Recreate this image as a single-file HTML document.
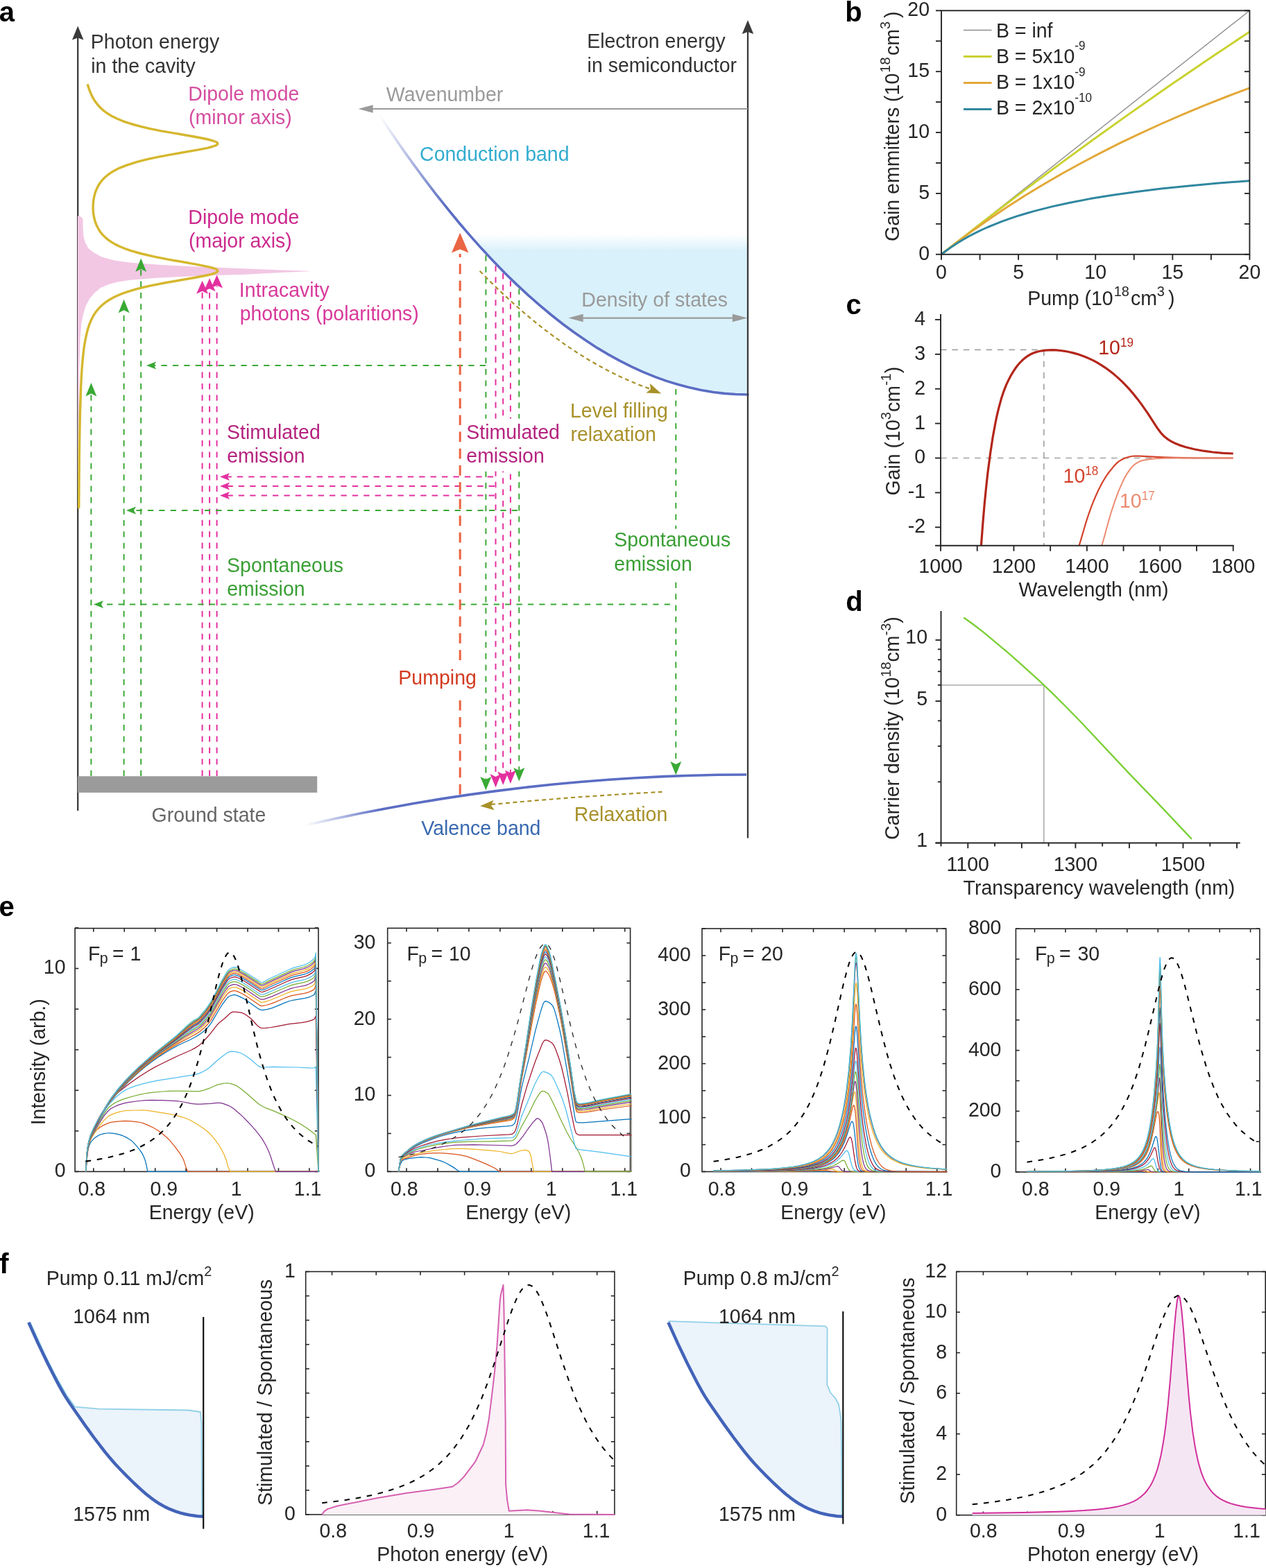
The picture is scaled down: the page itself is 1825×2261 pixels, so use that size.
<!DOCTYPE html>
<html><head><meta charset="utf-8"><title>Figure</title>
<style>html,body{margin:0;padding:0;background:#fff;}svg{display:block;}</style>
</head><body>
<svg width="1825" height="2261" viewBox="0 0 1825 2261" font-family='"Liberation Sans", Arial, Helvetica, sans-serif'><defs><linearGradient id="dosg" x1="0" y1="338" x2="0" y2="362" gradientUnits="userSpaceOnUse"><stop offset="0" stop-color="#d9f1fa" stop-opacity="0"/><stop offset="1" stop-color="#d9f1fa"/></linearGradient><linearGradient id="cbg" x1="547" y1="166" x2="640" y2="300" gradientUnits="userSpaceOnUse"><stop offset="0" stop-color="#5b6dc3" stop-opacity="0"/><stop offset="1" stop-color="#5b6dc3"/></linearGradient><linearGradient id="vbg" x1="440" y1="0" x2="550" y2="0" gradientUnits="userSpaceOnUse"><stop offset="0" stop-color="#5b6dc3" stop-opacity="0"/><stop offset="1" stop-color="#5b6dc3"/></linearGradient></defs>
<path d="M674.9 336 L674.9 336.6 L694.4 358.6 L708.6 373.9 L722.8 388.6 L735.2 401 L749.5 414.6 L761.9 426.1 L774.3 437.1 L788.5 449.2 L801 459.2 L813.4 468.9 L825.8 478.1 L838.3 486.8 L850.7 495.1 L863.1 503 L875.5 510.4 L888 517.4 L900.4 523.9 L912.8 530 L925.3 535.6 L937.7 540.9 L950.1 545.6 L964.3 550.5 L976.8 554.3 L991 558.2 L1003.4 561 L1015.8 563.5 L1028.3 565.5 L1040.7 567 L1053.1 568.1 L1065.6 568.8 L1078 569 L1078 336" stroke="none" stroke-width="1" fill="url(#dosg)" stroke-linejoin="round" />
<path d="M547 165.8 L563 189.7 L580.7 215.4 L596.7 237.8 L612.7 259.4 L628.7 280.3 L646.5 302.7 L662.4 322 L678.4 340.7 L694.4 358.6 L710.4 375.7 L728.1 394 L744.1 409.6 L761.9 426.1 L777.9 440.2 L793.9 453.5 L811.6 467.5 L827.6 479.3 L845.4 491.6 L861.3 501.9 L877.3 511.4 L893.3 520.2 L911.1 529.1 L927 536.4 L944.8 543.6 L960.8 549.4 L976.8 554.3 L992.8 558.6 L1010.5 562.5 L1028.3 565.5 L1044.3 567.4 L1060.2 568.5 L1078 569" stroke="url(#cbg)" stroke-width="3.6" fill="none" stroke-linejoin="round" stroke-linecap="round"/>
<path d="M440 1189.9 L481.5 1180.7 L519.9 1172.8 L558.3 1165.4 L596.6 1158.5 L638.2 1151.6 L676.5 1145.9 L714.9 1140.6 L756.4 1135.5 L797.9 1131 L836.3 1127.5 L877.8 1124.2 L916.2 1121.7 L957.7 1119.6 L996.1 1118.2 L1034.5 1117.3 L1076 1117" stroke="url(#vbg)" stroke-width="3.6" fill="none" stroke-linejoin="round" />
<line x1="112.2" y1="50" x2="112.2" y2="1169" stroke="#3a3a3a" stroke-width="2.3" />
<path d="M112.2 37.5 L120.45 57.5 L112.2 54.5 L103.95 57.5 Z" fill="#3a3a3a"/>
<line x1="1078" y1="42" x2="1078" y2="1208.5" stroke="#3a3a3a" stroke-width="2.3" />
<path d="M1078 29 L1086.25 49 L1078 46 L1069.75 49 Z" fill="#3a3a3a"/>
<path d="M112 311.4 L114 311.6 L118 313.5 L119.5 316.5 L119.7 330 L120.5 341.5 L123 350 L127 357.5 L134 363.5 L146.5 370.5 L165 375.5 L188 378.8 L230 381.8 L271 384 L400 389.2 L446 390.8 L446 391.2 L400 393.2 L353.9 395.8 L310 397 L271 398.5 L230 400.5 L188 403.7 L170 406.5 L156.8 410 L145 415 L136.1 422.4 L129 431 L123.7 441 L119.5 455 L117.4 466 L115.5 490 L114.3 530 L113.5 600 L112.6 730 L112 730" stroke="none" stroke-width="1" fill="#f2c7e4" stroke-linejoin="round" />
<path d="M126.1 121.4 L129.3 131 L132.8 138.9 L134.7 142.4 L136.9 145.9 L141.6 152 L146.7 157.3 L149.8 159.9 L153.3 162.5 L160.3 166.9 L169.1 171.3 L177.6 174.8 L185.2 177.4 L193.9 180 L203.9 182.6 L215.2 185.3 L232.5 188.8 L282.5 197.5 L300 201 L306.6 202.8 L311.2 204.5 L312.7 205.4 L313.6 206.3 L313.8 207.1 L313.4 208 L312.4 208.9 L310.8 209.8 L305.9 211.5 L299.1 213.3 L286.2 215.9 L246.3 222.9 L227.7 226.4 L211.4 229.9 L197.7 233.4 L183.7 237.8 L172.6 242.1 L164 246.5 L159.7 249.1 L156 251.8 L151.8 255.3 L148.2 258.8 L144.7 263.1 L141.8 267.5 L139.6 271.9 L137.5 277.1 L136 282.4 L134.8 288.5 L134.2 294.6 L134.1 300.8 L134.5 306.9 L135.5 313 L137 319.1 L139 324.4 L141.6 329.6 L144.3 334 L147.8 338.4 L151.3 341.9 L155.4 345.4 L160.4 348.9 L166.4 352.4 L171.7 355 L180.1 358.5 L187.5 361.1 L202.6 365.5 L221.3 369.9 L243.8 374.3 L283.8 381.3 L300.9 384.8 L307.3 386.5 L311.7 388.3 L313 389.1 L313.7 390 L313.8 390.9 L313.2 391.8 L312.1 392.6 L310.3 393.5 L305.1 395.3 L298.1 397 L280 400.5 L239.6 407.5 L217.3 411.9 L205.7 414.5 L195.5 417.1 L186.6 419.8 L178.8 422.4 L172.1 425 L164.4 428.5 L158.1 432 L151.5 436.4 L146.3 440.8 L142 445.1 L138.4 449.5 L134.9 454.8 L131.7 460.9 L129.1 467 L126.5 474.9 L124.5 482.8 L122.7 491.5 L121 502 L119.6 514.3 L118.4 527.4 L117.4 542.3 L116.6 558.9 L115.3 600.9 L114.3 656.9 L113.7 733" stroke="#d5b72d" stroke-width="3.4" fill="none" stroke-linejoin="round" />
<rect x="112" y="1119.3" width="345.2" height="23.6" fill="#9b9b9b" />
<text x="218.57" y="1185" font-size="28.5" fill="#666666"  transform="translate(218.57 1185) scale(1 1.05) translate(-218.57 -1185)">Ground state</text>
<text x="130.86" y="69.8" font-size="28.5" fill="#333333"  transform="translate(130.86 69.8) scale(1 1.05) translate(-130.86 -69.8)">Photon energy</text>
<text x="131.29" y="104.7" font-size="28.5" fill="#333333"  transform="translate(131.29 104.7) scale(1 1.05) translate(-131.29 -104.7)">in the cavity</text>
<text x="846.16" y="69.5" font-size="28.5" fill="#333333"  transform="translate(846.16 69.5) scale(1 1.05) translate(-846.16 -69.5)">Electron energy</text>
<text x="846.59" y="104.5" font-size="28.5" fill="#333333"  transform="translate(846.59 104.5) scale(1 1.05) translate(-846.59 -104.5)">in semiconductor</text>
<line x1="1078" y1="157" x2="530" y2="157" stroke="#9a9a9a" stroke-width="2.2" />
<path d="M516.6 157 L537.6 151.25 L537.6 157 L537.6 162.75 Z" fill="#9a9a9a"/>
<text x="556.87" y="146.2" font-size="28.5" fill="#9a9a9a"  transform="translate(556.87 146.2) scale(1 1.05) translate(-556.87 -146.2)">Wavenumber</text>
<text x="605.05" y="231.6" font-size="28.5" fill="#33acd0"  transform="translate(605.05 231.6) scale(1 1.05) translate(-605.05 -231.6)">Conduction band</text>
<line x1="835" y1="458.6" x2="1062" y2="458.6" stroke="#9a9a9a" stroke-width="2.2" />
<path d="M819.3 458.6 L840.7 452.85 L840.7 458.6 L840.7 464.35 Z" fill="#9a9a9a"/>
<path d="M1077.3 458.6 L1055.9 464.35 L1055.9 458.6 L1055.9 452.85 Z" fill="#9a9a9a"/>
<text x="838.36" y="442.5" font-size="28.5" fill="#9a9a9a"  transform="translate(838.36 442.5) scale(1 1.05) translate(-838.36 -442.5)">Density of states</text>
<path d="M691.6 390.7 L707.2 406.5 L722.8 421.6 L738.4 436 L754 449.8 L769.6 462.9 L785.2 475.3 L800.8 487 L816.4 498.1 L832 508.5 L847.5 518.2 L863.1 527.2 L878.7 535.6 L891.2 541.8 L906.8 548.9 L922.4 555.4 L938 561.2" stroke="#a8912a" stroke-width="2.2" fill="none" stroke-dasharray="6 4.5" stroke-linejoin="round" />
<path d="M953.2 567.5 L931.48 566.5 L937.91 561.29 L936.94 553.07 Z" fill="#a8912a"/>
<text x="821.96" y="602.3" font-size="28.5" fill="#a8912a"  transform="translate(821.96 602.3) scale(1 1.05) translate(-821.96 -602.3)">Level filling</text>
<text x="822.41" y="636.4" font-size="28.5" fill="#a8912a"  transform="translate(822.41 636.4) scale(1 1.05) translate(-822.41 -636.4)">relaxation</text>
<path d="M708 1160 L770.7 1154.4 L833.3 1149.4 L896 1145.2 L954.5 1141.8" stroke="#a8912a" stroke-width="2.2" fill="none" stroke-dasharray="6 4.5" stroke-linejoin="round" />
<path d="M692.1 1162.3 L711.54 1153.67 L708.06 1161.18 L712.56 1168.14 Z" fill="#a8912a"/>
<text x="827.66" y="1184" font-size="28.5" fill="#a8912a"  transform="translate(827.66 1184) scale(1 1.05) translate(-827.66 -1184)">Relaxation</text>
<text x="607.27" y="1204" font-size="28.5" fill="#3a69b0"  transform="translate(607.27 1204) scale(1 1.05) translate(-607.27 -1204)">Valence band</text>
<line x1="131.4" y1="1119" x2="131.4" y2="568" stroke="#3aa935" stroke-width="2" stroke-dasharray="8.3 8.1" />
<path d="M131.4 552 L139.4 571.5 L131.4 567.5 L123.4 571.5 Z" fill="#3aa935"/>
<line x1="178.6" y1="1119" x2="178.6" y2="447.7" stroke="#3aa935" stroke-width="2" stroke-dasharray="8.3 8.1" />
<path d="M178.6 431.7 L186.6 451.2 L178.6 447.2 L170.6 451.2 Z" fill="#3aa935"/>
<line x1="203.2" y1="1119" x2="203.2" y2="388.6" stroke="#3aa935" stroke-width="2" stroke-dasharray="8.3 8.1" />
<path d="M203.2 372.6 L211.2 392.1 L203.2 388.1 L195.2 392.1 Z" fill="#3aa935"/>
<line x1="291.6" y1="1119" x2="291.6" y2="420.7" stroke="#e4309f" stroke-width="2" stroke-dasharray="8.4 8" />
<line x1="302.1" y1="1119" x2="302.1" y2="417.3" stroke="#e4309f" stroke-width="2" stroke-dasharray="8.4 8" />
<line x1="312.6" y1="1119" x2="312.6" y2="412.4" stroke="#e4309f" stroke-width="2" stroke-dasharray="8.4 8" />
<path d="M291.6 404.7 L300.1 423.7 L291.6 419.7 L283.1 423.7 Z" fill="#e4309f"/>
<path d="M302.1 401.3 L310.6 420.3 L302.1 416.3 L293.6 420.3 Z" fill="#e4309f"/>
<path d="M312.6 396.4 L321.1 415.4 L312.6 411.4 L304.1 415.4 Z" fill="#e4309f"/>
<line x1="700" y1="527" x2="222" y2="527" stroke="#3aa935" stroke-width="2" stroke-dasharray="8.3 8.1" />
<path d="M211 527 L225 521.5 L222 527 L225 532.5 Z" fill="#3aa935"/>
<line x1="711" y1="687.6" x2="326" y2="687.6" stroke="#e4309f" stroke-width="2" stroke-dasharray="8.4 8" />
<path d="M317 687.6 L331 682.1 L328 687.6 L331 693.1 Z" fill="#e4309f"/>
<line x1="713" y1="701" x2="326" y2="701" stroke="#e4309f" stroke-width="2" stroke-dasharray="8.4 8" />
<path d="M317 701 L331 695.5 L328 701 L331 706.5 Z" fill="#e4309f"/>
<line x1="713" y1="714.5" x2="326" y2="714.5" stroke="#e4309f" stroke-width="2" stroke-dasharray="8.4 8" />
<path d="M317 714.5 L331 709 L328 714.5 L331 720 Z" fill="#e4309f"/>
<line x1="746" y1="736" x2="192" y2="736" stroke="#3aa935" stroke-width="2" stroke-dasharray="8.3 8.1" />
<path d="M182 736 L196 730.5 L193 736 L196 741.5 Z" fill="#3aa935"/>
<line x1="966" y1="871.5" x2="145" y2="871.5" stroke="#3aa935" stroke-width="2" stroke-dasharray="8.3 8.1" />
<path d="M135 871.5 L149 866 L146 871.5 L149 877 Z" fill="#3aa935"/>
<line x1="700.4" y1="368.11" x2="700.4" y2="1124.5" stroke="#3aa935" stroke-width="2" stroke-dasharray="8.3 8.1" />
<line x1="714.5" y1="383.05" x2="714.5" y2="1120.4" stroke="#e4309f" stroke-width="2" stroke-dasharray="8.4 8" />
<line x1="725.2" y1="394.01" x2="725.2" y2="1117" stroke="#e4309f" stroke-width="2" stroke-dasharray="8.4 8" />
<line x1="735.9" y1="404.64" x2="735.9" y2="1115" stroke="#e4309f" stroke-width="2" stroke-dasharray="8.4 8" />
<line x1="748.3" y1="416.56" x2="748.3" y2="1111.4" stroke="#3aa935" stroke-width="2" stroke-dasharray="8.3 8.1" />
<path d="M700.4 1139.5 L692.4 1120 L700.4 1124 L708.4 1120 Z" fill="#3aa935"/>
<path d="M714.5 1135.4 L706.5 1115.9 L714.5 1119.9 L722.5 1115.9 Z" fill="#e4309f"/>
<path d="M725.2 1132 L717.2 1112.5 L725.2 1116.5 L733.2 1112.5 Z" fill="#e4309f"/>
<path d="M735.9 1130 L727.9 1110.5 L735.9 1114.5 L743.9 1110.5 Z" fill="#e4309f"/>
<path d="M748.3 1126.4 L740.3 1106.9 L748.3 1110.9 L756.3 1106.9 Z" fill="#3aa935"/>
<line x1="974.3" y1="561" x2="974.3" y2="1104" stroke="#3aa935" stroke-width="2" stroke-dasharray="8.3 8.1" />
<path d="M974.3 1117.5 L966.3 1098 L974.3 1102 L982.3 1098 Z" fill="#3aa935"/>
<line x1="663.2" y1="1145.5" x2="663.2" y2="366" stroke="#ea6644" stroke-width="3.1" stroke-dasharray="14.7 9.5" />
<path d="M663.2 335.5 L675.45 364.5 L663.2 359.5 L650.95 364.5 Z" fill="#ea6644"/>
<text x="271.36" y="144.7" font-size="28.5" fill="#d54ea0"  transform="translate(271.36 144.7) scale(1 1.05) translate(-271.36 -144.7)">Dipole mode</text>
<text x="271.93" y="179.3" font-size="28.5" fill="#d54ea0"  transform="translate(271.93 179.3) scale(1 1.05) translate(-271.93 -179.3)">(minor axis)</text>
<text x="271.36" y="322.9" font-size="28.5" fill="#cc2a8e"  transform="translate(271.36 322.9) scale(1 1.05) translate(-271.36 -322.9)">Dipole mode</text>
<text x="271.93" y="357.1" font-size="28.5" fill="#cc2a8e"  transform="translate(271.93 357.1) scale(1 1.05) translate(-271.93 -357.1)">(major axis)</text>
<text x="344.87" y="428" font-size="28.5" fill="#d8399b"  transform="translate(344.87 428) scale(1 1.05) translate(-344.87 -428)">Intracavity</text>
<text x="345.66" y="462.2" font-size="28.5" fill="#d8399b"  transform="translate(345.66 462.2) scale(1 1.05) translate(-345.66 -462.2)">photons (polaritions)</text>
<text x="327.11" y="633" font-size="28.5" fill="#b5237f"  transform="translate(327.11 633) scale(1 1.05) translate(-327.11 -633)">Stimulated</text>
<text x="327.19" y="667.5" font-size="28.5" fill="#b5237f"  transform="translate(327.19 667.5) scale(1 1.05) translate(-327.19 -667.5)">emission</text>
<text x="327.11" y="824.8" font-size="28.5" fill="#3a9f35"  transform="translate(327.11 824.8) scale(1 1.05) translate(-327.11 -824.8)">Spontaneous</text>
<text x="327.19" y="858.9" font-size="28.5" fill="#3a9f35"  transform="translate(327.19 858.9) scale(1 1.05) translate(-327.19 -858.9)">emission</text>
<rect x="669.5" y="603.6" width="140" height="76" fill="white" />
<text x="672.21" y="633" font-size="28.5" fill="#b5237f"  transform="translate(672.21 633) scale(1 1.05) translate(-672.21 -633)">Stimulated</text>
<text x="672.29" y="667.5" font-size="28.5" fill="#b5237f"  transform="translate(672.29 667.5) scale(1 1.05) translate(-672.29 -667.5)">emission</text>
<rect x="882.5" y="762.6" width="172" height="74.4" fill="white" />
<text x="885.21" y="788.5" font-size="28.5" fill="#3a9f35"  transform="translate(885.21 788.5) scale(1 1.05) translate(-885.21 -788.5)">Spontaneous</text>
<text x="885.29" y="823" font-size="28.5" fill="#3a9f35"  transform="translate(885.29 823) scale(1 1.05) translate(-885.29 -823)">emission</text>
<rect x="572.7" y="952.7" width="118" height="57" fill="white" />
<text x="574.36" y="987" font-size="28.5" fill="#d23a1f"  transform="translate(574.36 987) scale(1 1.05) translate(-574.36 -987)">Pumping</text>
<text x="-1.17" y="31" font-size="40" fill="#000" font-weight="bold" >a</text>
<path d="M1357 366.8 L1801.4 15.3" stroke="#8c8c8c" stroke-width="1.4" fill="none" stroke-linejoin="round" />
<path d="M1357 366.8 L1410.6 324.9 L1464.2 283.9 L1517.8 243.8 L1573.6 203 L1629.4 163.1 L1685.3 124.1 L1743.3 84.5 L1801.4 45.7" stroke="#c9d22f" stroke-width="3" fill="none" stroke-linejoin="round" />
<path d="M1357 366.8 L1379.3 349.5 L1403.9 331.4 L1428.5 314.2 L1453 297.8 L1477.6 282.1 L1504.4 265.8 L1531.2 250.3 L1558 235.5 L1584.8 221.3 L1613.8 206.7 L1642.8 192.8 L1674.1 178.5 L1705.4 164.9 L1736.6 151.9 L1767.9 139.5 L1801.4 126.9" stroke="#e3a838" stroke-width="3" fill="none" stroke-linejoin="round" />
<path d="M1357 366.8 L1363.7 361.7 L1372.6 355.4 L1379.3 351 L1388.3 345.5 L1397.2 340.5 L1406.1 335.9 L1415.1 331.5 L1424 327.5 L1432.9 323.8 L1444.1 319.4 L1455.3 315.4 L1466.4 311.6 L1477.6 308.2 L1491 304.4 L1515.6 298.1 L1542.4 292.2 L1571.4 286.6 L1602.6 281.5 L1638.4 276.5 L1674.1 272.1 L1714.3 267.9 L1756.7 264.1 L1801.4 260.7" stroke="#2f879f" stroke-width="3" fill="none" stroke-linejoin="round" />
<rect x="1357" y="15.3" width="444.4" height="351.5" fill="none" stroke="#262626" stroke-width="1.9"/>
<line x1="1357" y1="366.8" x2="1357" y2="374.8" stroke="#262626" stroke-width="1.9" />
<line x1="1349" y1="366.8" x2="1357" y2="366.8" stroke="#262626" stroke-width="1.9" />
<line x1="1794" y1="366.8" x2="1801.4" y2="366.8" stroke="#262626" stroke-width="1.9" />
<line x1="1412.55" y1="366.8" x2="1412.55" y2="374.8" stroke="#262626" stroke-width="1.9" />
<line x1="1349" y1="322.86" x2="1357" y2="322.86" stroke="#262626" stroke-width="1.9" />
<line x1="1794" y1="322.86" x2="1801.4" y2="322.86" stroke="#262626" stroke-width="1.9" />
<line x1="1468.1" y1="366.8" x2="1468.1" y2="374.8" stroke="#262626" stroke-width="1.9" />
<line x1="1349" y1="278.93" x2="1357" y2="278.93" stroke="#262626" stroke-width="1.9" />
<line x1="1794" y1="278.93" x2="1801.4" y2="278.93" stroke="#262626" stroke-width="1.9" />
<line x1="1523.65" y1="366.8" x2="1523.65" y2="374.8" stroke="#262626" stroke-width="1.9" />
<line x1="1349" y1="234.99" x2="1357" y2="234.99" stroke="#262626" stroke-width="1.9" />
<line x1="1794" y1="234.99" x2="1801.4" y2="234.99" stroke="#262626" stroke-width="1.9" />
<line x1="1579.2" y1="366.8" x2="1579.2" y2="374.8" stroke="#262626" stroke-width="1.9" />
<line x1="1349" y1="191.05" x2="1357" y2="191.05" stroke="#262626" stroke-width="1.9" />
<line x1="1794" y1="191.05" x2="1801.4" y2="191.05" stroke="#262626" stroke-width="1.9" />
<line x1="1634.75" y1="366.8" x2="1634.75" y2="374.8" stroke="#262626" stroke-width="1.9" />
<line x1="1349" y1="147.11" x2="1357" y2="147.11" stroke="#262626" stroke-width="1.9" />
<line x1="1794" y1="147.11" x2="1801.4" y2="147.11" stroke="#262626" stroke-width="1.9" />
<line x1="1690.3" y1="366.8" x2="1690.3" y2="374.8" stroke="#262626" stroke-width="1.9" />
<line x1="1349" y1="103.18" x2="1357" y2="103.18" stroke="#262626" stroke-width="1.9" />
<line x1="1794" y1="103.18" x2="1801.4" y2="103.18" stroke="#262626" stroke-width="1.9" />
<line x1="1745.85" y1="366.8" x2="1745.85" y2="374.8" stroke="#262626" stroke-width="1.9" />
<line x1="1349" y1="59.24" x2="1357" y2="59.24" stroke="#262626" stroke-width="1.9" />
<line x1="1794" y1="59.24" x2="1801.4" y2="59.24" stroke="#262626" stroke-width="1.9" />
<line x1="1801.4" y1="366.8" x2="1801.4" y2="374.8" stroke="#262626" stroke-width="1.9" />
<line x1="1349" y1="15.3" x2="1357" y2="15.3" stroke="#262626" stroke-width="1.9" />
<line x1="1794" y1="15.3" x2="1801.4" y2="15.3" stroke="#262626" stroke-width="1.9" />
<text x="1357" y="402.5" font-size="28.5" fill="#262626" text-anchor="middle"  transform="translate(1357 402.5) scale(1 1.05) translate(-1357 -402.5)">0</text>
<text x="1340" y="374.8" font-size="28.5" fill="#262626" text-anchor="end"  transform="translate(1340 374.8) scale(1 1.05) translate(-1340 -374.8)">0</text>
<text x="1468.1" y="402.5" font-size="28.5" fill="#262626" text-anchor="middle"  transform="translate(1468.1 402.5) scale(1 1.05) translate(-1468.1 -402.5)">5</text>
<text x="1340" y="286.93" font-size="28.5" fill="#262626" text-anchor="end"  transform="translate(1340 286.93) scale(1 1.05) translate(-1340 -286.93)">5</text>
<text x="1579.2" y="402.5" font-size="28.5" fill="#262626" text-anchor="middle"  transform="translate(1579.2 402.5) scale(1 1.05) translate(-1579.2 -402.5)">10</text>
<text x="1340" y="199.05" font-size="28.5" fill="#262626" text-anchor="end"  transform="translate(1340 199.05) scale(1 1.05) translate(-1340 -199.05)">10</text>
<text x="1690.3" y="402.5" font-size="28.5" fill="#262626" text-anchor="middle"  transform="translate(1690.3 402.5) scale(1 1.05) translate(-1690.3 -402.5)">15</text>
<text x="1340" y="111.18" font-size="28.5" fill="#262626" text-anchor="end"  transform="translate(1340 111.18) scale(1 1.05) translate(-1340 -111.18)">15</text>
<text x="1801.4" y="402.5" font-size="28.5" fill="#262626" text-anchor="middle"  transform="translate(1801.4 402.5) scale(1 1.05) translate(-1801.4 -402.5)">20</text>
<text x="1340" y="23.3" font-size="28.5" fill="#262626" text-anchor="end"  transform="translate(1340 23.3) scale(1 1.05) translate(-1340 -23.3)">20</text>
<text x="1481.16" y="440" font-size="28.5" fill="#262626" transform="translate(1481.16 440) scale(1 1.05) translate(-1481.16 -440)"><tspan dy="-0">Pump (10</tspan><tspan dx="1" dy="-11.97" font-size="19.95">18</tspan><tspan dx="2" dy="11.97">cm</tspan><tspan dy="-11.97" font-size="19.95">3</tspan><tspan dx="5" dy="11.97">)</tspan></text>
<text x="1296" y="348" font-size="28.5" fill="#262626" transform="translate(1296 348) rotate(-90) scale(1 1.05) translate(-1296 -348)"><tspan dy="-0">Gain emmitters (10</tspan><tspan dx="1" dy="-11.97" font-size="19.95">18</tspan><tspan dx="2.5" dy="11.97">cm</tspan><tspan dy="-11.97" font-size="19.95">3</tspan><tspan dx="5" dy="11.97">)</tspan></text>
<line x1="1389" y1="43.5" x2="1429.5" y2="43.5" stroke="#8c8c8c" stroke-width="1.4" />
<text x="1435.96" y="54" font-size="28.5" fill="#262626" transform="translate(1435.96 54) scale(1 1.05) translate(-1435.96 -54)"><tspan dy="-0">B = inf</tspan></text>
<line x1="1389" y1="81.5" x2="1429.5" y2="81.5" stroke="#c9d22f" stroke-width="3" />
<text x="1435.96" y="91.05" font-size="28.5" fill="#262626" transform="translate(1435.96 91.05) scale(1 1.05) translate(-1435.96 -91.05)"><tspan dy="-0">B = 5x10</tspan><tspan dy="-17.67" font-size="17.1">-9</tspan></text>
<line x1="1389" y1="119.5" x2="1429.5" y2="119.5" stroke="#e3a838" stroke-width="3" />
<text x="1435.96" y="128.1" font-size="28.5" fill="#262626" transform="translate(1435.96 128.1) scale(1 1.05) translate(-1435.96 -128.1)"><tspan dy="-0">B = 1x10</tspan><tspan dy="-17.67" font-size="17.1">-9</tspan></text>
<line x1="1389" y1="157.5" x2="1429.5" y2="157.5" stroke="#2f879f" stroke-width="3" />
<text x="1435.96" y="165.15" font-size="28.5" fill="#262626" transform="translate(1435.96 165.15) scale(1 1.05) translate(-1435.96 -165.15)"><tspan dy="-0">B = 2x10</tspan><tspan dy="-17.67" font-size="17.1">-10</tspan></text>
<text x="1218.36" y="31" font-size="40" fill="#000" font-weight="bold" >b</text>
<defs><clipPath id="cc"><rect x="1356" y="453" width="426.7" height="333.7"/></clipPath></defs>
<line x1="1356" y1="504.31" x2="1504.8" y2="504.31" stroke="#a3a3a3" stroke-width="1.7" stroke-dasharray="8.6 7.8" />
<line x1="1504.8" y1="504.31" x2="1504.8" y2="786.7" stroke="#a3a3a3" stroke-width="1.7" stroke-dasharray="8.6 7.8" />
<line x1="1356" y1="660.5" x2="1777.7" y2="660.5" stroke="#a3a3a3" stroke-width="1.7" stroke-dasharray="8.6 7.8" />
<path d="M1412.9 806.5 L1416.6 757.5 L1419 728.8 L1421.5 703.6 L1423.9 681.7 L1427.6 653.8 L1431.2 630.1 L1434.9 610 L1437.3 598.4 L1439.8 588.1 L1443.4 574.8 L1445.9 567.3 L1448.3 560.6 L1450.7 554.6 L1454.4 546.9 L1456.8 542.3 L1460.5 536.1 L1462.9 532.3 L1466.6 527.3 L1470.3 523 L1473.9 519.3 L1477.6 516.1 L1481.2 513.5 L1484.9 511.3 L1488.6 509.5 L1492.2 508.1 L1497.1 506.7 L1502 505.8 L1506.9 505.2 L1511.7 504.8 L1517.8 504.7 L1522.7 504.9 L1528.8 505.5 L1534.9 506.3 L1541 507.5 L1547.1 508.9 L1553.2 510.6 L1564.2 514.5 L1570.3 517.1 L1575.2 519.4 L1581.3 522.7 L1587.4 526.3 L1593.5 530.3 L1599.6 534.7 L1605.7 539.6 L1611.8 544.9 L1617.9 550.6 L1622.8 555.6 L1628.9 562.2 L1633.7 567.9 L1639.8 575.4 L1644.7 581.9 L1654.5 595.8 L1667.9 616.6 L1672.8 623.3 L1675.2 626.2 L1677.7 628.7 L1680.1 630.8 L1683.8 633.6 L1687.4 635.8 L1691.1 637.8 L1694.7 639.6 L1699.6 641.6 L1709.4 644.7 L1721.6 647.7 L1735 650.2 L1748.4 652 L1763.1 653.4 L1777.7 654" stroke="#b3261a" stroke-width="3.2" fill="none" stroke-linejoin="round" clip-path="url(#cc)"/>
<path d="M1553.7 792.7 L1557.4 780.9 L1565.7 752.6 L1568.7 743.3 L1572.4 732.9 L1576.1 723.3 L1579.1 716.2 L1583.6 706.3 L1587.4 698.9 L1590.4 693.5 L1594.1 687.4 L1598.6 681 L1604.6 673.6 L1609.1 668.6 L1612.1 665.9 L1615.9 663.4 L1620.4 661.1 L1624.1 659.7 L1630.8 658 L1635.3 657.5 L1642.8 657.7 L1676.6 659.4 L1692.3 659.9 L1721.5 660.3 L1777.7 660.5" stroke="#d4432b" stroke-width="2.2" fill="none" stroke-linejoin="round" clip-path="url(#cc)"/>
<path d="M1586.4 792.7 L1590.2 780.3 L1598.5 749.9 L1601.7 739 L1607.5 721.5 L1612.6 707.8 L1618.4 694.7 L1620.9 689.5 L1623.5 684.9 L1627.3 679.1 L1630.5 674.8 L1633.7 671.3 L1636.3 669.2 L1641.4 666.1 L1643.9 665 L1646.5 664.1 L1656.7 662.2 L1666.3 661.2 L1679.1 660.7 L1694.5 660.5 L1777.7 660.5" stroke="#ec8b70" stroke-width="2" fill="none" stroke-linejoin="round" clip-path="url(#cc)"/>
<line x1="1356" y1="453" x2="1356" y2="787.7" stroke="#262626" stroke-width="1.9" />
<line x1="1348" y1="786.7" x2="1778.7" y2="786.7" stroke="#262626" stroke-width="1.9" />
<line x1="1348" y1="460.9" x2="1356" y2="460.9" stroke="#262626" stroke-width="1.9" />
<text x="1334" y="468.9" font-size="28.5" fill="#262626" text-anchor="end"  transform="translate(1334 468.9) scale(1 1.05) translate(-1334 -468.9)">4</text>
<line x1="1348" y1="510.8" x2="1356" y2="510.8" stroke="#262626" stroke-width="1.9" />
<text x="1334" y="518.8" font-size="28.5" fill="#262626" text-anchor="end"  transform="translate(1334 518.8) scale(1 1.05) translate(-1334 -518.8)">3</text>
<line x1="1348" y1="560.7" x2="1356" y2="560.7" stroke="#262626" stroke-width="1.9" />
<text x="1334" y="568.7" font-size="28.5" fill="#262626" text-anchor="end"  transform="translate(1334 568.7) scale(1 1.05) translate(-1334 -568.7)">2</text>
<line x1="1348" y1="610.6" x2="1356" y2="610.6" stroke="#262626" stroke-width="1.9" />
<text x="1334" y="618.6" font-size="28.5" fill="#262626" text-anchor="end"  transform="translate(1334 618.6) scale(1 1.05) translate(-1334 -618.6)">1</text>
<line x1="1348" y1="660.5" x2="1356" y2="660.5" stroke="#262626" stroke-width="1.9" />
<text x="1334" y="668.5" font-size="28.5" fill="#262626" text-anchor="end"  transform="translate(1334 668.5) scale(1 1.05) translate(-1334 -668.5)">0</text>
<line x1="1348" y1="710.4" x2="1356" y2="710.4" stroke="#262626" stroke-width="1.9" />
<text x="1334" y="718.4" font-size="28.5" fill="#262626" text-anchor="end"  transform="translate(1334 718.4) scale(1 1.05) translate(-1334 -718.4)">-1</text>
<line x1="1348" y1="760.3" x2="1356" y2="760.3" stroke="#262626" stroke-width="1.9" />
<text x="1334" y="768.3" font-size="28.5" fill="#262626" text-anchor="end"  transform="translate(1334 768.3) scale(1 1.05) translate(-1334 -768.3)">-2</text>
<line x1="1356" y1="786.7" x2="1356" y2="794.7" stroke="#262626" stroke-width="1.9" />
<line x1="1408.71" y1="786.7" x2="1408.71" y2="794.7" stroke="#262626" stroke-width="1.9" />
<line x1="1461.42" y1="786.7" x2="1461.42" y2="794.7" stroke="#262626" stroke-width="1.9" />
<line x1="1514.14" y1="786.7" x2="1514.14" y2="794.7" stroke="#262626" stroke-width="1.9" />
<line x1="1566.85" y1="786.7" x2="1566.85" y2="794.7" stroke="#262626" stroke-width="1.9" />
<line x1="1619.56" y1="786.7" x2="1619.56" y2="794.7" stroke="#262626" stroke-width="1.9" />
<line x1="1672.28" y1="786.7" x2="1672.28" y2="794.7" stroke="#262626" stroke-width="1.9" />
<line x1="1724.99" y1="786.7" x2="1724.99" y2="794.7" stroke="#262626" stroke-width="1.9" />
<line x1="1777.7" y1="786.7" x2="1777.7" y2="794.7" stroke="#262626" stroke-width="1.9" />
<text x="1356" y="826" font-size="28.5" fill="#262626" text-anchor="middle"  transform="translate(1356 826) scale(1 1.05) translate(-1356 -826)">1000</text>
<text x="1461.42" y="826" font-size="28.5" fill="#262626" text-anchor="middle"  transform="translate(1461.42 826) scale(1 1.05) translate(-1461.42 -826)">1200</text>
<text x="1566.85" y="826" font-size="28.5" fill="#262626" text-anchor="middle"  transform="translate(1566.85 826) scale(1 1.05) translate(-1566.85 -826)">1400</text>
<text x="1672.28" y="826" font-size="28.5" fill="#262626" text-anchor="middle"  transform="translate(1672.28 826) scale(1 1.05) translate(-1672.28 -826)">1600</text>
<text x="1777.7" y="826" font-size="28.5" fill="#262626" text-anchor="middle"  transform="translate(1777.7 826) scale(1 1.05) translate(-1777.7 -826)">1800</text>
<text x="1576.5" y="860.5" font-size="28.5" fill="#262626" text-anchor="middle"  transform="translate(1576.5 860.5) scale(1 1.05) translate(-1576.5 -860.5)">Wavelength (nm)</text>
<text x="1297" y="714.5" font-size="28.5" fill="#262626" transform="translate(1297 714.5) rotate(-90) scale(1 1.05) translate(-1297 -714.5)"><tspan dy="-0">Gain (10</tspan><tspan dy="-11.97" font-size="19.95">3</tspan><tspan dy="11.97">cm</tspan><tspan dy="-11.97" font-size="19.95">-1</tspan><tspan dy="11.97">)</tspan></text>
<text x="1583.23" y="510.7" font-size="28.5" fill="#b3261a" transform="translate(1583.23 510.7) scale(1 1.05) translate(-1583.23 -510.7)"><tspan dy="-0">10</tspan><tspan dy="-10.26" font-size="17.1">19</tspan></text>
<text x="1532.63" y="696.2" font-size="28.5" fill="#d4432b" transform="translate(1532.63 696.2) scale(1 1.05) translate(-1532.63 -696.2)"><tspan dy="-0">10</tspan><tspan dy="-10.26" font-size="17.1">18</tspan></text>
<text x="1613.93" y="732.2" font-size="28.5" fill="#ec8b70" transform="translate(1613.93 732.2) scale(1 1.05) translate(-1613.93 -732.2)"><tspan dy="-0">10</tspan><tspan dy="-10.26" font-size="17.1">17</tspan></text>
<text x="1219.44" y="453" font-size="40" fill="#000" font-weight="bold" >c</text>
<line x1="1356.5" y1="987.81" x2="1504.8" y2="987.81" stroke="#9a9a9a" stroke-width="1.3" />
<line x1="1504.8" y1="987.81" x2="1504.8" y2="1215.5" stroke="#9a9a9a" stroke-width="1.3" />
<path d="M1389.3 890.5 L1402.5 900 L1417.4 911.4 L1455.4 943.2 L1466.9 953.3 L1496.6 980.2 L1514.8 997.4 L1534.6 1017 L1556.1 1039 L1628.7 1116.4 L1675 1164.4 L1717.9 1209.9" stroke="#79cf33" stroke-width="2.3" fill="none" stroke-linejoin="round" />
<line x1="1356.5" y1="881" x2="1356.5" y2="1216.5" stroke="#262626" stroke-width="1.9" />
<line x1="1348.5" y1="1215.5" x2="1787.8" y2="1215.5" stroke="#262626" stroke-width="1.9" />
<line x1="1348.5" y1="1215.5" x2="1356.5" y2="1215.5" stroke="#262626" stroke-width="1.9" />
<line x1="1348.5" y1="1010.98" x2="1356.5" y2="1010.98" stroke="#262626" stroke-width="1.9" />
<line x1="1348.5" y1="922.9" x2="1356.5" y2="922.9" stroke="#262626" stroke-width="1.9" />
<line x1="1351.9" y1="1127.42" x2="1356.5" y2="1127.42" stroke="#262626" stroke-width="1.9" />
<line x1="1351.9" y1="1075.89" x2="1356.5" y2="1075.89" stroke="#262626" stroke-width="1.9" />
<line x1="1351.9" y1="1039.34" x2="1356.5" y2="1039.34" stroke="#262626" stroke-width="1.9" />
<line x1="1351.9" y1="987.81" x2="1356.5" y2="987.81" stroke="#262626" stroke-width="1.9" />
<line x1="1351.9" y1="968.22" x2="1356.5" y2="968.22" stroke="#262626" stroke-width="1.9" />
<line x1="1351.9" y1="951.26" x2="1356.5" y2="951.26" stroke="#262626" stroke-width="1.9" />
<line x1="1351.9" y1="936.29" x2="1356.5" y2="936.29" stroke="#262626" stroke-width="1.9" />
<text x="1337" y="927.9" font-size="28.5" fill="#262626" text-anchor="end"  transform="translate(1337 927.9) scale(1 1.05) translate(-1337 -927.9)">10</text>
<text x="1337" y="1016.98" font-size="28.5" fill="#262626" text-anchor="end"  transform="translate(1337 1016.98) scale(1 1.05) translate(-1337 -1016.98)">5</text>
<text x="1337" y="1221.5" font-size="28.5" fill="#262626" text-anchor="end"  transform="translate(1337 1221.5) scale(1 1.05) translate(-1337 -1221.5)">1</text>
<line x1="1356.5" y1="1215.5" x2="1356.5" y2="1220.5" stroke="#262626" stroke-width="1.9" />
<line x1="1395.28" y1="1215.5" x2="1395.28" y2="1223.2" stroke="#262626" stroke-width="1.9" />
<line x1="1434.05" y1="1215.5" x2="1434.05" y2="1220.5" stroke="#262626" stroke-width="1.9" />
<line x1="1472.83" y1="1215.5" x2="1472.83" y2="1223.2" stroke="#262626" stroke-width="1.9" />
<line x1="1511.6" y1="1215.5" x2="1511.6" y2="1220.5" stroke="#262626" stroke-width="1.9" />
<line x1="1550.38" y1="1215.5" x2="1550.38" y2="1223.2" stroke="#262626" stroke-width="1.9" />
<line x1="1589.15" y1="1215.5" x2="1589.15" y2="1220.5" stroke="#262626" stroke-width="1.9" />
<line x1="1627.92" y1="1215.5" x2="1627.92" y2="1223.2" stroke="#262626" stroke-width="1.9" />
<line x1="1666.7" y1="1215.5" x2="1666.7" y2="1220.5" stroke="#262626" stroke-width="1.9" />
<line x1="1705.47" y1="1215.5" x2="1705.47" y2="1223.2" stroke="#262626" stroke-width="1.9" />
<line x1="1744.25" y1="1215.5" x2="1744.25" y2="1220.5" stroke="#262626" stroke-width="1.9" />
<line x1="1783.03" y1="1215.5" x2="1783.03" y2="1223.2" stroke="#262626" stroke-width="1.9" />
<text x="1395.28" y="1256" font-size="28.5" fill="#262626" text-anchor="middle"  transform="translate(1395.28 1256) scale(1 1.05) translate(-1395.28 -1256)">1100</text>
<text x="1550.38" y="1256" font-size="28.5" fill="#262626" text-anchor="middle"  transform="translate(1550.38 1256) scale(1 1.05) translate(-1550.38 -1256)">1300</text>
<text x="1705.47" y="1256" font-size="28.5" fill="#262626" text-anchor="middle"  transform="translate(1705.47 1256) scale(1 1.05) translate(-1705.47 -1256)">1500</text>
<text x="1584.5" y="1289.6" font-size="28.5" fill="#262626" text-anchor="middle"  transform="translate(1584.5 1289.6) scale(1 1.05) translate(-1584.5 -1289.6)">Transparency wavelength (nm)</text>
<text x="1296.5" y="1211" font-size="28.5" fill="#262626" transform="translate(1296.5 1211) rotate(-90) scale(1 1.05) translate(-1296.5 -1211)"><tspan dy="-0">Carrier density (10</tspan><tspan dy="-11.97" font-size="19.95">18</tspan><tspan dy="11.97">cm</tspan><tspan dy="-11.97" font-size="19.95">-3</tspan><tspan dy="11.97">)</tspan></text>
<text x="1219.36" y="880.5" font-size="40" fill="#000" font-weight="bold" >d</text>
<defs><clipPath id="ce1"><rect x="106.6" y="1337.1" width="353.9" height="353.8"/></clipPath></defs>
<rect x="108.1" y="1338.6" width="350.9" height="350.8" fill="none" stroke="#262626" stroke-width="1.6"/>
<line x1="134.8" y1="1338.6" x2="134.8" y2="1343.8" stroke="#262626" stroke-width="1.6" />
<line x1="134.8" y1="1689.4" x2="134.8" y2="1684.2" stroke="#262626" stroke-width="1.6" />
<line x1="179.25" y1="1338.6" x2="179.25" y2="1343.8" stroke="#262626" stroke-width="1.6" />
<line x1="179.25" y1="1689.4" x2="179.25" y2="1684.2" stroke="#262626" stroke-width="1.6" />
<line x1="223.7" y1="1338.6" x2="223.7" y2="1343.8" stroke="#262626" stroke-width="1.6" />
<line x1="223.7" y1="1689.4" x2="223.7" y2="1684.2" stroke="#262626" stroke-width="1.6" />
<line x1="268.15" y1="1338.6" x2="268.15" y2="1343.8" stroke="#262626" stroke-width="1.6" />
<line x1="268.15" y1="1689.4" x2="268.15" y2="1684.2" stroke="#262626" stroke-width="1.6" />
<line x1="312.6" y1="1338.6" x2="312.6" y2="1343.8" stroke="#262626" stroke-width="1.6" />
<line x1="312.6" y1="1689.4" x2="312.6" y2="1684.2" stroke="#262626" stroke-width="1.6" />
<line x1="357.05" y1="1338.6" x2="357.05" y2="1343.8" stroke="#262626" stroke-width="1.6" />
<line x1="357.05" y1="1689.4" x2="357.05" y2="1684.2" stroke="#262626" stroke-width="1.6" />
<line x1="401.5" y1="1338.6" x2="401.5" y2="1343.8" stroke="#262626" stroke-width="1.6" />
<line x1="401.5" y1="1689.4" x2="401.5" y2="1684.2" stroke="#262626" stroke-width="1.6" />
<line x1="445.95" y1="1338.6" x2="445.95" y2="1343.8" stroke="#262626" stroke-width="1.6" />
<line x1="445.95" y1="1689.4" x2="445.95" y2="1684.2" stroke="#262626" stroke-width="1.6" />
<line x1="108.1" y1="1689.4" x2="113.3" y2="1689.4" stroke="#262626" stroke-width="1.6" />
<line x1="459" y1="1689.4" x2="453.8" y2="1689.4" stroke="#262626" stroke-width="1.6" />
<line x1="108.1" y1="1630.82" x2="113.3" y2="1630.82" stroke="#262626" stroke-width="1.6" />
<line x1="459" y1="1630.82" x2="453.8" y2="1630.82" stroke="#262626" stroke-width="1.6" />
<line x1="108.1" y1="1572.24" x2="113.3" y2="1572.24" stroke="#262626" stroke-width="1.6" />
<line x1="459" y1="1572.24" x2="453.8" y2="1572.24" stroke="#262626" stroke-width="1.6" />
<line x1="108.1" y1="1513.66" x2="113.3" y2="1513.66" stroke="#262626" stroke-width="1.6" />
<line x1="459" y1="1513.66" x2="453.8" y2="1513.66" stroke="#262626" stroke-width="1.6" />
<line x1="108.1" y1="1455.08" x2="113.3" y2="1455.08" stroke="#262626" stroke-width="1.6" />
<line x1="459" y1="1455.08" x2="453.8" y2="1455.08" stroke="#262626" stroke-width="1.6" />
<line x1="108.1" y1="1396.5" x2="113.3" y2="1396.5" stroke="#262626" stroke-width="1.6" />
<line x1="459" y1="1396.5" x2="453.8" y2="1396.5" stroke="#262626" stroke-width="1.6" />
<line x1="108.1" y1="1337.92" x2="113.3" y2="1337.92" stroke="#262626" stroke-width="1.6" />
<line x1="459" y1="1337.92" x2="453.8" y2="1337.92" stroke="#262626" stroke-width="1.6" />
<g clip-path="url(#ce1)" fill="none" stroke-width="1.25" stroke-linejoin="round">
<path d="M123.7 1689.4 L125 1670.3 L125.7 1664.3 L127.1 1657.3 L128.4 1652.4 L129.8 1649.1 L131.1 1646.8 L133.2 1644.1 L135.8 1641.4 L139.2 1638.9 L142.6 1637 L145.3 1635.8 L150 1634.7 L154.1 1634 L158.1 1633.8 L162.2 1634.1 L166.9 1634.9 L173 1636.3 L177 1637.7 L181.8 1639.9 L186.5 1642.7 L189.9 1645.1 L192.6 1647.6 L196.6 1652.1 L202 1658.8 L204.7 1662.9 L206.7 1666.8 L208.8 1671.9 L210.1 1676.3 L211.4 1681.8 L212.8 1689.4 L461 1689.4" stroke="#0072BD" stroke-width="1.25" fill="none" stroke-linejoin="round" />
<path d="M123.7 1689.4 L125.7 1664.6 L126.4 1658.8 L127.7 1651.8 L129.1 1646.7 L131.1 1641.3 L133.8 1636.7 L136.5 1632.9 L139.8 1629.1 L143.9 1625.7 L148.6 1622.9 L154.6 1620.1 L158.7 1618.7 L162.7 1617.9 L172.1 1616.8 L179.5 1616.4 L187.6 1616.7 L198.3 1617.8 L202.3 1618.5 L206.4 1619.7 L213.1 1622.4 L221.8 1626.5 L227.9 1630.2 L234.6 1635.2 L241.3 1641 L246 1645.9 L252.1 1653.3 L259.5 1663.4 L262.2 1667.8 L264.9 1673.1 L268.2 1683.6 L269.6 1686.9 L270.9 1689.4 L461 1689.4" stroke="#D95319" stroke-width="1.25" fill="none" stroke-linejoin="round" />
<path d="M123.7 1689.4 L125.7 1667.2 L127.1 1655.9 L127.7 1652.3 L129.7 1645.8 L131.1 1642.5 L132.4 1639.8 L137.8 1631.5 L144.5 1622 L149.8 1615.6 L154.5 1611.1 L157.2 1609.1 L159.2 1607.9 L165.9 1605.2 L172.6 1603.1 L178 1602 L182.7 1601.4 L194.7 1601 L206.1 1600.8 L211.5 1601.2 L240.3 1605.7 L252.4 1608 L261.1 1610.3 L269.1 1613 L275.1 1615.7 L281.2 1619.2 L293.2 1627.1 L299.9 1632.3 L304.6 1636.9 L310.7 1644.3 L316.7 1653 L320 1658.8 L323.4 1665.8 L326.1 1672.7 L328.7 1682.3 L330.8 1687.1 L332.1 1689.4 L461 1689.4" stroke="#EDB120" stroke-width="1.25" fill="none" stroke-linejoin="round" />
<path d="M123.7 1689.4 L125.7 1666.3 L127 1654.6 L127.7 1650.8 L129.7 1644.2 L131.1 1640.9 L132.4 1638.2 L144.4 1617.6 L150.5 1608.4 L155.2 1602.7 L157.2 1600.7 L159.2 1599 L163.2 1596.7 L170.5 1593.4 L177.9 1591.1 L184.6 1589.7 L200 1587.5 L210 1586.6 L218.7 1586.3 L234.8 1586.6 L254.9 1587.6 L261.6 1588.5 L276.3 1591.3 L283.6 1592.1 L289 1592.1 L297 1591.7 L303 1591.4 L312.4 1590.4 L316.4 1590.4 L319.1 1590.7 L321.8 1591.4 L329.8 1594.3 L333.2 1596.2 L337.2 1599.1 L345.9 1606.4 L351.2 1611.4 L357.9 1618.2 L365.3 1626.3 L370.6 1632.6 L375.3 1638.7 L378.7 1643.6 L382 1649.3 L384.7 1654.5 L387.4 1660.3 L390 1667.1 L394.1 1680.3 L397.4 1689.4 L461 1689.4" stroke="#7E2F8E" stroke-width="1.25" fill="none" stroke-linejoin="round" />
<path d="M123.7 1689.4 L125.7 1665.7 L127 1653.7 L127.7 1649.9 L128.4 1647.3 L130.4 1641.3 L132.4 1637 L135.7 1631.2 L143.1 1617.6 L147.1 1610.6 L150.4 1605.3 L153.8 1600.6 L157.1 1596.7 L159.8 1594.2 L163.1 1591.9 L167.2 1589.5 L171.2 1587.6 L175.2 1585.9 L179.9 1584.2 L194.6 1580 L201.3 1578.3 L207.9 1577 L214.6 1575.9 L221.3 1575.1 L234 1574 L244 1573.3 L254.1 1573.1 L282.1 1573.6 L286.2 1573.6 L288.2 1573.4 L292.8 1572.3 L302.9 1568.8 L310.9 1565.2 L313.6 1564.2 L321.6 1562.4 L324.9 1562 L327.6 1561.8 L330.3 1562 L333.6 1562.8 L339.6 1565.1 L342.3 1566.5 L346.3 1569.2 L355.7 1576.7 L369.7 1589.3 L373.1 1592 L376.4 1594.3 L382.4 1597.3 L394.5 1601.9 L408.5 1608.1 L415.9 1611.5 L425.2 1616.3 L433.2 1620.8 L440.6 1625.5 L447.9 1630.7 L455.3 1636.5 L459 1689.4 L461 1689.4" stroke="#77AC30" stroke-width="1.25" fill="none" stroke-linejoin="round" />
<path d="M123.7 1689.4 L125.7 1665.4 L127 1653.3 L127.7 1649.4 L128.4 1646.8 L129.7 1642.4 L131.1 1639 L145.8 1610.8 L149.8 1603.8 L153.8 1597.4 L157.1 1592.7 L160.5 1588.7 L165.8 1583.3 L171.2 1578.5 L174.5 1575.9 L177.9 1573.6 L181.2 1571.6 L183.9 1570.3 L188.5 1568.3 L193.9 1566.4 L204.6 1563.1 L216 1560.4 L226.7 1558.2 L276.1 1550.4 L283.5 1548.8 L288.2 1547.4 L294.2 1544.5 L300.9 1540.3 L304.2 1537.5 L312.9 1529.2 L325.6 1519.5 L328.3 1517.8 L330.3 1516.9 L332.3 1516.3 L334.3 1516.1 L338.3 1516.4 L344.3 1517.6 L347 1518.5 L349.7 1519.8 L353 1521.8 L361.7 1527.7 L371.7 1536.6 L374.4 1538.3 L376.4 1538.9 L380.4 1539 L393.8 1538.4 L403.8 1538.5 L427.9 1539 L445.3 1539.8 L452.6 1540 L453.3 1539.8 L455.3 1538 L459 1689.4 L461 1689.4" stroke="#4DBEEE" stroke-width="1.25" fill="none" stroke-linejoin="round" />
<path d="M123.7 1689.4 L125.7 1665.2 L127 1652.8 L127.7 1648.9 L128.4 1646.2 L130.4 1639.9 L131.7 1636.8 L135.7 1629.2 L143.8 1612.8 L150.4 1600.3 L153.8 1594.7 L157.1 1589.6 L159.8 1586.1 L163.1 1582.2 L167.2 1578.1 L171.8 1573.9 L185.9 1563.1 L199.2 1553.5 L212.6 1545 L221.3 1539.9 L230.7 1535 L255.4 1523 L275.5 1514.3 L280.8 1511.4 L286.2 1508 L288.8 1505.9 L291.5 1503.4 L297.5 1497 L303.5 1490.2 L311.6 1479.6 L314.9 1475.8 L317.6 1473.4 L323.6 1468.8 L331.6 1461.2 L334.3 1459.6 L335.6 1459.2 L337 1459.1 L341.6 1459.4 L347.7 1460.2 L349.7 1460.8 L352.3 1462.1 L355.7 1464.3 L361.7 1468.8 L364.4 1471.5 L369.7 1477.5 L372.4 1480.1 L375.1 1481.9 L377.1 1482.5 L383.1 1482.3 L390.5 1481.5 L397.1 1480.4 L416.5 1476.7 L434.6 1474.6 L441.9 1473.3 L447.3 1471.8 L452.6 1469.8 L453.3 1469.1 L455.3 1465 L459 1689.4 L461 1689.4" stroke="#A2142F" stroke-width="1.25" fill="none" stroke-linejoin="round" />
<path d="M123.7 1689.4 L124.5 1674.4 L125.4 1663.3 L126.2 1656.9 L127.9 1648.6 L130.3 1640.5 L138.7 1620.4 L141.2 1615 L143.6 1610.3 L147 1604.8 L151.1 1598.7 L155.3 1593.2 L161.1 1586 L166.9 1579.1 L172.7 1572.6 L179.4 1565.7 L186 1559.1 L194.3 1551.3 L201.8 1544.6 L209.3 1538.3 L216.8 1532.4 L229.2 1523.6 L243.4 1514.8 L256.7 1507.3 L274.1 1499.2 L280.8 1495.8 L288.3 1491.1 L291.6 1488.7 L294.9 1485.9 L299.9 1481 L303.2 1476.9 L305.7 1473.1 L317.3 1453.3 L320.7 1448 L326.5 1440.3 L328.1 1438.4 L329.8 1437 L330.6 1436.5 L333.1 1435.5 L336.5 1434.7 L338.9 1434.7 L342.3 1435.6 L349.8 1439.1 L353.1 1441 L373 1454.9 L374.7 1455.8 L376.3 1456.3 L379.7 1456.3 L385.5 1455.4 L391.3 1453.8 L397.1 1451.6 L411.3 1445.6 L418.7 1443 L424.6 1441.8 L439.5 1439.4 L443.7 1438.4 L447 1437.3 L450.3 1435.8 L452.8 1434.4 L453.6 1432.9 L455.3 1428.2 L459 1689.4 L461 1689.4" stroke="#0072BD" stroke-width="1.25" fill="none" stroke-linejoin="round" />
<path d="M123.7 1689.4 L124.5 1674.2 L125.4 1663 L126.2 1656.5 L127.9 1648.1 L130.3 1640 L137.8 1622.1 L141.2 1615.1 L143.6 1610.4 L147 1604.8 L151.1 1598.6 L155.3 1592.9 L161.1 1585.4 L166.9 1578.4 L172.7 1571.8 L178.6 1565.6 L185.2 1558.9 L193.5 1551 L201 1544.2 L208.5 1537.8 L215.9 1531.7 L227.6 1523.2 L240.9 1514.4 L257.5 1504.4 L276.6 1494.3 L284.1 1490.1 L288.3 1487.2 L294.1 1482.3 L299.1 1477.3 L301.6 1474.4 L303.2 1472.2 L305.7 1468.3 L320.7 1442.6 L326.5 1434.7 L328.1 1432.7 L329.8 1431.2 L330.6 1430.6 L333.1 1429.6 L336.5 1428.7 L338.9 1428.7 L342.3 1429.6 L349.8 1433.2 L353.1 1435.1 L373.9 1449.3 L376.3 1450.3 L378.8 1450.4 L383.8 1449.5 L391.3 1447.2 L397.1 1444.9 L411.3 1438.8 L418.7 1436.2 L424.6 1434.8 L438.7 1432.4 L442.8 1431.3 L446.2 1430.1 L449.5 1428.6 L452.8 1426.6 L453.6 1425.2 L455.3 1420.1 L459 1689.4 L461 1689.4" stroke="#D95319" stroke-width="1.25" fill="none" stroke-linejoin="round" />
<path d="M123.7 1689.4 L124.5 1674.1 L125.4 1662.7 L126.2 1656.2 L127.9 1647.7 L130.3 1639.6 L137.8 1622 L141.2 1615.1 L143.6 1610.5 L147 1604.9 L151.1 1598.5 L156.1 1591.4 L161.1 1584.9 L166.1 1578.7 L171.9 1572 L177.7 1565.6 L184.4 1558.8 L191.8 1551.6 L199.3 1544.7 L206.8 1538.1 L214.3 1531.9 L225.1 1523.7 L237.6 1515.1 L259.2 1501.2 L284.9 1486.3 L288.3 1483.9 L293.2 1479.5 L299.1 1473.4 L303.2 1468.1 L306.5 1462.7 L320.7 1438 L326.5 1429.8 L328.1 1427.8 L329.8 1426.2 L330.6 1425.6 L333.1 1424.5 L336.5 1423.5 L338.9 1423.5 L342.3 1424.4 L349.8 1428.1 L353.1 1429.9 L373.9 1444.1 L376.3 1445.1 L378.8 1445.2 L383 1444.3 L391.3 1441.5 L411.3 1433 L418.7 1430.2 L424.6 1428.7 L438.7 1426.1 L442 1425.2 L445.3 1424 L449.5 1422 L452.8 1419.8 L453.6 1418.5 L455.3 1413 L459 1689.4 L461 1689.4" stroke="#EDB120" stroke-width="1.25" fill="none" stroke-linejoin="round" />
<path d="M123.7 1689.4 L124.5 1674 L125.4 1662.5 L126.2 1656 L127.9 1647.4 L130.3 1639.3 L137 1623.6 L142.8 1612.1 L147 1604.9 L151.1 1598.4 L156.1 1591.2 L161.1 1584.5 L166.1 1578.2 L171.9 1571.4 L177.7 1565 L184.4 1558.1 L191 1551.6 L198.5 1544.6 L206 1538 L213.5 1531.8 L224.3 1523.3 L235.9 1515.1 L265 1495.8 L275.8 1489.1 L284.9 1483.8 L288.3 1481.3 L292.4 1477.5 L298.2 1471.4 L301.6 1467.3 L303.2 1464.9 L306.5 1459.4 L320.7 1434.4 L326.5 1426 L328.1 1423.9 L329.8 1422.3 L330.6 1421.7 L333.1 1420.6 L336.5 1419.6 L338.9 1419.5 L342.3 1420.4 L350.6 1424.5 L353.1 1426 L373.9 1440 L376.3 1441.1 L378.8 1441.2 L382.2 1440.4 L391.3 1437.1 L411.3 1428.5 L418.7 1425.6 L424.6 1424 L438.7 1421.3 L442 1420.3 L445.3 1419 L449.5 1416.9 L452.8 1414.6 L453.6 1413.3 L455.3 1407.6 L459 1689.4 L461 1689.4" stroke="#7E2F8E" stroke-width="1.25" fill="none" stroke-linejoin="round" />
<path d="M123.7 1689.4 L124.5 1673.8 L125.4 1662.3 L126.2 1655.7 L127.9 1647.1 L130.3 1639 L136.2 1625.3 L139.5 1618.4 L142.8 1612.1 L147 1605 L152 1597 L156.1 1590.9 L161.1 1584.1 L166.1 1577.7 L171.9 1570.8 L177.7 1564.4 L183.5 1558.3 L190.2 1551.7 L197.7 1544.6 L211.8 1532.3 L221.8 1524.3 L232.6 1516.3 L270 1490.4 L277.4 1485.6 L285.8 1480.7 L288.3 1478.7 L291.6 1475.5 L297.4 1469.3 L302.4 1463 L306.5 1456.2 L320.7 1430.8 L326.5 1422.3 L328.1 1420.1 L329.8 1418.5 L330.6 1417.8 L333.1 1416.6 L336.5 1415.6 L338.9 1415.5 L340.6 1415.8 L342.3 1416.3 L344.8 1417.5 L353.1 1422.1 L373.9 1436 L376.3 1437.1 L377.2 1437.2 L378.8 1437.1 L382.2 1436.3 L391.3 1432.7 L411.3 1424 L419.6 1420.7 L424.6 1419.4 L437.8 1416.6 L442 1415.4 L445.3 1414.1 L449.5 1411.8 L452.8 1409.4 L453.6 1408.2 L455.3 1402.1 L459 1689.4 L461 1689.4" stroke="#77AC30" stroke-width="1.25" fill="none" stroke-linejoin="round" />
<path d="M123.7 1689.4 L124.5 1673.8 L125.4 1662.2 L126.2 1655.5 L127.9 1646.9 L130.3 1638.7 L136.2 1625.1 L139.5 1618.3 L142.8 1612.2 L147 1605 L152 1597 L156.9 1589.5 L161.1 1583.8 L166.1 1577.4 L171.1 1571.4 L176.9 1564.8 L182.7 1558.6 L196 1545.6 L210.1 1533 L220.1 1524.8 L230.1 1517.2 L253.3 1500.7 L271.6 1487.4 L278.3 1483.1 L285.8 1478.7 L288.3 1476.6 L291.6 1473.3 L297.4 1467 L302.4 1460.5 L306.5 1453.7 L320.7 1428 L326.5 1419.2 L328.1 1417.1 L329.8 1415.4 L330.6 1414.7 L333.1 1413.5 L336.5 1412.4 L338.9 1412.3 L341.4 1412.8 L344.8 1414.3 L353.1 1418.9 L374.7 1433.2 L376.3 1433.9 L377.2 1434 L378.8 1433.9 L381.3 1433.3 L391.3 1429.2 L411.3 1420.4 L419.6 1417.1 L424.6 1415.6 L437.8 1412.8 L442 1411.5 L445.3 1410.1 L449.5 1407.7 L452.8 1405.2 L453.6 1404 L454.5 1401.4 L455.3 1397.8 L459 1689.4 L461 1689.4" stroke="#4DBEEE" stroke-width="1.25" fill="none" stroke-linejoin="round" />
<path d="M123.7 1689.4 L124.5 1673.7 L125.4 1662 L126.2 1655.3 L127.9 1646.6 L130.3 1638.4 L136.2 1624.9 L142 1613.7 L147 1605.1 L152 1596.9 L156.9 1589.2 L161.1 1583.4 L166.1 1576.9 L171.1 1570.9 L181.9 1558.9 L194.3 1546.5 L208.5 1533.7 L220.1 1524 L229.2 1516.9 L253.3 1499.4 L271.6 1485.4 L278.3 1480.8 L285.8 1476.4 L289.1 1473.4 L296.6 1465.3 L302.4 1457.7 L306.5 1450.8 L320.7 1424.8 L326.5 1415.9 L328.1 1413.6 L329.8 1411.9 L330.6 1411.2 L333.1 1410 L336.5 1408.8 L338.9 1408.6 L341.4 1409.2 L344.8 1410.7 L353.1 1415.3 L374.7 1429.6 L376.3 1430.3 L377.2 1430.5 L378.8 1430.3 L382.2 1429.2 L395.5 1423.5 L412.1 1416 L419.6 1412.9 L424.6 1411.4 L437.8 1408.4 L442 1407.1 L445.3 1405.6 L449.5 1403.1 L452.8 1400.5 L453.6 1399.4 L454.5 1396.7 L455.3 1392.9 L459 1689.4 L461 1689.4" stroke="#A2142F" stroke-width="1.25" fill="none" stroke-linejoin="round" />
<path d="M123.7 1689.4 L124.5 1673.6 L125.4 1661.9 L126.2 1655.1 L127.9 1646.4 L130.3 1638.2 L135.3 1626.5 L141.2 1615.3 L152 1596.8 L156.9 1589 L161.1 1583.1 L166.1 1576.6 L171.1 1570.5 L181.9 1558.4 L194.3 1545.9 L207.6 1533.9 L216.8 1526.1 L224.3 1520 L253.3 1498.3 L271.6 1483.7 L279.1 1478.5 L284.9 1475.2 L286.6 1474 L288.3 1472.4 L295.7 1464.3 L299.1 1460.1 L302.4 1455.5 L307.4 1447 L320.7 1422.3 L326.5 1413.2 L328.1 1411 L329.8 1409.2 L330.6 1408.5 L333.1 1407.2 L336.5 1406 L338.9 1405.8 L341.4 1406.4 L343.9 1407.5 L353.1 1412.6 L374.7 1426.8 L376.3 1427.5 L377.2 1427.7 L378.8 1427.5 L381.3 1426.7 L385.5 1424.7 L394.6 1420.8 L411.3 1413.2 L419.6 1409.7 L424.6 1408.2 L437.8 1405.1 L441.2 1404 L444.5 1402.6 L448.7 1400.2 L452.8 1396.9 L453.6 1395.8 L454.5 1393.1 L455.3 1389.1 L459 1689.4 L461 1689.4" stroke="#0072BD" stroke-width="1.25" fill="none" stroke-linejoin="round" />
<path d="M123.7 1689.4 L124.5 1673.5 L125.4 1661.8 L126.2 1655 L127.9 1646.2 L130.3 1638 L135.3 1626.4 L140.3 1616.8 L152 1596.7 L156.9 1588.9 L161.1 1582.9 L170.2 1571.1 L175.2 1565.3 L181 1558.9 L192.7 1547.1 L206 1534.9 L223.4 1520.1 L253.3 1497.4 L272.5 1481.7 L279.1 1477 L284.9 1473.7 L286.6 1472.5 L288.3 1470.9 L295.7 1462.5 L299.1 1458.3 L302.4 1453.6 L307.4 1445.1 L320.7 1420.1 L326.5 1411 L328.1 1408.7 L329.8 1406.9 L330.6 1406.2 L333.1 1404.9 L336.5 1403.6 L338.9 1403.4 L341.4 1404 L343.9 1405.1 L353.1 1410.2 L374.7 1424.4 L376.3 1425.1 L377.2 1425.3 L378.8 1425.1 L381.3 1424.3 L386.3 1421.8 L419.6 1406.9 L424.6 1405.4 L437.8 1402.2 L441.2 1401.1 L444.5 1399.6 L447 1398.2 L449.5 1396.5 L452 1394.5 L453.6 1392.7 L454.5 1390 L455.3 1385.8 L459 1689.4 L461 1689.4" stroke="#D95319" stroke-width="1.25" fill="none" stroke-linejoin="round" />
<path d="M123.7 1689.4 L124.5 1673.5 L125.4 1661.7 L126.2 1654.9 L127.9 1646.1 L130.3 1637.8 L134.5 1628 L139.5 1618.2 L152 1596.7 L156.9 1588.7 L161.1 1582.7 L170.2 1570.8 L180.2 1559.5 L191.8 1547.5 L204.3 1535.9 L221.8 1520.9 L230.1 1514.4 L253.3 1496.6 L272.5 1480.4 L279.1 1475.6 L285.8 1471.8 L288.3 1469.4 L295.7 1460.9 L299.1 1456.7 L302.4 1451.9 L307.4 1443.3 L320.7 1418.2 L326.5 1408.9 L328.1 1406.6 L329.8 1404.7 L330.6 1404.1 L333.1 1402.7 L336.5 1401.5 L338.9 1401.2 L341.4 1401.8 L343.9 1402.9 L353.1 1408 L374.7 1422.2 L376.3 1422.9 L377.2 1423.1 L378.8 1422.9 L381.3 1422 L386.3 1419.4 L419.6 1404.4 L424.6 1402.8 L437.8 1399.5 L441.2 1398.4 L444.5 1396.9 L447 1395.5 L449.5 1393.7 L452 1391.7 L453.6 1389.9 L454.5 1387.1 L455.3 1382.9 L459 1689.4 L461 1689.4" stroke="#EDB120" stroke-width="1.25" fill="none" stroke-linejoin="round" />
<path d="M123.7 1689.4 L124.5 1673.4 L125.4 1661.6 L126.2 1654.7 L127.9 1645.9 L130.3 1637.6 L134.5 1627.9 L139.5 1618.2 L152.8 1595.2 L156.9 1588.6 L161.1 1582.4 L170.2 1570.6 L180.2 1559.1 L191 1547.9 L203.5 1536.2 L213.5 1527.5 L223.4 1519.1 L254.2 1495.1 L273.3 1478.5 L279.1 1474.2 L285.8 1470.4 L288.3 1468 L295.7 1459.3 L299.1 1455 L302.4 1450.2 L305.7 1444.5 L312.4 1432.3 L320.7 1416.2 L326.5 1406.8 L328.1 1404.5 L329.8 1402.6 L330.6 1401.9 L333.1 1400.6 L336.5 1399.3 L338.9 1399 L341.4 1399.6 L343.9 1400.7 L353.9 1406.4 L374.7 1419.9 L376.3 1420.7 L377.2 1420.9 L378.8 1420.7 L381.3 1419.8 L386.3 1417.1 L419.6 1401.9 L424.6 1400.2 L437.8 1396.9 L441.2 1395.7 L444.5 1394.2 L447 1392.7 L449.5 1390.9 L452 1388.8 L453.6 1387 L454.5 1384.2 L455.3 1379.9 L459 1689.4 L461 1689.4" stroke="#7E2F8E" stroke-width="1.25" fill="none" stroke-linejoin="round" />
<path d="M123.7 1689.4 L124.5 1673.3 L125.4 1661.5 L126.2 1654.6 L127.9 1645.8 L130.3 1637.5 L134.5 1627.7 L138.7 1619.7 L152.8 1595.2 L156.9 1588.4 L161.1 1582.2 L169.4 1571.3 L179.4 1559.7 L190.2 1548.4 L201.8 1537.3 L211.8 1528.5 L223.4 1518.6 L254.2 1494.4 L273.3 1477.3 L279.1 1472.9 L285.8 1469.1 L288.3 1466.7 L296.6 1456.8 L302.4 1448.6 L305.7 1442.9 L312.4 1430.6 L319 1417.5 L321.5 1413 L327.3 1403.7 L329.8 1400.7 L330.6 1400 L333.1 1398.6 L336.5 1397.3 L338.9 1397 L341.4 1397.6 L343.9 1398.7 L353.9 1404.4 L371.4 1415.6 L374.7 1417.9 L376.3 1418.7 L377.2 1418.9 L378.8 1418.7 L381.3 1417.7 L386.3 1414.9 L419.6 1399.6 L424.6 1397.9 L437.8 1394.5 L441.2 1393.3 L444.5 1391.7 L447 1390.2 L449.5 1388.4 L452 1386.2 L453.6 1384.5 L454.5 1381.6 L455.3 1377.2 L459 1689.4 L461 1689.4" stroke="#77AC30" stroke-width="1.25" fill="none" stroke-linejoin="round" />
<path d="M123.7 1689.4 L124.5 1673.3 L125.4 1661.3 L126.2 1654.5 L127.9 1645.6 L130.3 1637.3 L134.5 1627.6 L137.8 1621.1 L153.6 1593.7 L157.8 1586.9 L161.1 1582 L169.4 1571 L178.6 1560.2 L189.4 1548.8 L201 1537.6 L211 1528.7 L222.6 1518.7 L246.7 1499.6 L254.2 1493.5 L269.1 1479.5 L274.1 1475.1 L279.9 1470.8 L284.9 1468.2 L287.4 1466.1 L295.7 1456.2 L299.1 1451.7 L302.4 1446.7 L305.7 1441 L312.4 1428.6 L319 1415.4 L321.5 1410.8 L327.3 1401.4 L329.8 1398.4 L330.6 1397.7 L333.1 1396.2 L336.5 1394.9 L338.9 1394.6 L341.4 1395.2 L343.9 1396.3 L353.9 1402 L371.4 1413.2 L374.7 1415.5 L376.3 1416.3 L377.2 1416.5 L378.8 1416.3 L381.3 1415.3 L386.3 1412.3 L419.6 1396.8 L424.6 1395.1 L437.8 1391.6 L441.2 1390.3 L444.5 1388.7 L447 1387.2 L449.5 1385.3 L453.6 1381.4 L454.5 1378.5 L455.3 1373.9 L459 1689.4 L461 1689.4" stroke="#4DBEEE" stroke-width="1.25" fill="none" stroke-linejoin="round" />
<path d="M123.7 1674.6 L136 1672.8 L147.2 1670.8 L158.4 1668.5 L168.5 1666 L177.4 1663.4 L186.4 1660.4 L194.2 1657.4 L202.1 1653.8 L209.9 1649.7 L216.6 1645.5 L223.4 1640.8 L229 1636.2 L234.6 1631 L240.2 1625.1 L245.8 1618.4 L250.2 1612.3 L254.7 1605.5 L258.1 1599.8 L261.4 1593.7 L264.8 1587 L268.1 1579.6 L271.5 1571.7 L274.9 1563 L278.2 1553.6 L281.6 1543.3 L284.9 1532.3 L291.7 1507.7 L298.4 1480 L311.8 1421.1 L315.2 1407.6 L317.4 1399.4 L320.8 1388.8 L324.1 1380.7 L326.4 1376.8 L327.5 1375.4 L328.6 1374.4 L329.7 1373.7 L330.9 1373.4 L332 1373.5 L333.1 1373.9 L334.2 1374.7 L336.4 1377.5 L337.6 1379.3 L339.8 1384.1 L343.2 1393.4 L346.5 1405 L349.9 1418.2 L365.6 1486.6 L370 1504.9 L374.5 1521.9 L379 1537.5 L384.6 1554.8 L390.2 1569.9 L395.8 1583.1 L401.4 1594.5 L404.8 1600.6 L408.1 1606.1 L414.8 1616 L418.2 1620.3 L422.7 1625.6 L426 1629.2 L430.5 1633.6 L435 1637.5 L439.5 1641.1 L443.9 1644.3 L448.4 1647.2 L452.9 1649.9 L458.5 1652.9" stroke="#000" stroke-width="2.1" fill="none" stroke-dasharray="7.6 8.7" stroke-linejoin="round" />
</g>
<text x="94.5" y="1697.4" font-size="28.5" fill="#262626" text-anchor="end"  transform="translate(94.5 1697.4) scale(1 1.05) translate(-94.5 -1697.4)">0</text>
<text x="94.5" y="1404.5" font-size="28.5" fill="#262626" text-anchor="end"  transform="translate(94.5 1404.5) scale(1 1.05) translate(-94.5 -1404.5)">10</text>
<text x="132.2" y="1724.5" font-size="28.5" fill="#262626" text-anchor="middle"  transform="translate(132.2 1724.5) scale(1 1.05) translate(-132.2 -1724.5)">0.8</text>
<text x="236.2" y="1724.5" font-size="28.5" fill="#262626" text-anchor="middle"  transform="translate(236.2 1724.5) scale(1 1.05) translate(-236.2 -1724.5)">0.9</text>
<text x="340.8" y="1724.5" font-size="28.5" fill="#262626" text-anchor="middle"  transform="translate(340.8 1724.5) scale(1 1.05) translate(-340.8 -1724.5)">1</text>
<text x="443.6" y="1724.5" font-size="28.5" fill="#262626" text-anchor="middle"  transform="translate(443.6 1724.5) scale(1 1.05) translate(-443.6 -1724.5)">1.1</text>
<text x="290.7" y="1758.5" font-size="28.5" fill="#262626" text-anchor="middle"  transform="translate(290.7 1758.5) scale(1 1.05) translate(-290.7 -1758.5)">Energy (eV)</text>
<text x="64.8" y="1531.3" font-size="28.5" fill="#262626" text-anchor="middle" transform="translate(64.8 1531.3) rotate(-90) scale(1 1.05) translate(-64.8 -1531.3)">Intensity (arb.)</text>
<text x="127.06" y="1384.8" font-size="28.5" fill="#262626"  transform="translate(127.06 1384.8) scale(1 1.05) translate(-127.06 -1384.8)">F</text>
<text x="143.81" y="1389" font-size="21.5" fill="#262626"  transform="translate(143.81 1389) scale(1 1.05) translate(-143.81 -1389)">p</text>
<text x="162.01" y="1384.8" font-size="28.5" fill="#262626"  transform="translate(162.01 1384.8) scale(1 1.05) translate(-162.01 -1384.8)">=</text>
<text x="187.53" y="1384.8" font-size="28.5" fill="#262626"  transform="translate(187.53 1384.8) scale(1 1.05) translate(-187.53 -1384.8)">1</text>
<text x="-1.56" y="1320.5" font-size="40" fill="#000" font-weight="bold" >e</text>
<defs><clipPath id="ce2"><rect x="557.2" y="1336.9" width="352.9" height="354"/></clipPath></defs>
<rect x="558.7" y="1338.4" width="349.9" height="351" fill="none" stroke="#262626" stroke-width="1.6"/>
<line x1="586" y1="1338.4" x2="586" y2="1343.6" stroke="#262626" stroke-width="1.6" />
<line x1="586" y1="1689.4" x2="586" y2="1684.2" stroke="#262626" stroke-width="1.6" />
<line x1="630.96" y1="1338.4" x2="630.96" y2="1343.6" stroke="#262626" stroke-width="1.6" />
<line x1="630.96" y1="1689.4" x2="630.96" y2="1684.2" stroke="#262626" stroke-width="1.6" />
<line x1="675.92" y1="1338.4" x2="675.92" y2="1343.6" stroke="#262626" stroke-width="1.6" />
<line x1="675.92" y1="1689.4" x2="675.92" y2="1684.2" stroke="#262626" stroke-width="1.6" />
<line x1="720.88" y1="1338.4" x2="720.88" y2="1343.6" stroke="#262626" stroke-width="1.6" />
<line x1="720.88" y1="1689.4" x2="720.88" y2="1684.2" stroke="#262626" stroke-width="1.6" />
<line x1="765.84" y1="1338.4" x2="765.84" y2="1343.6" stroke="#262626" stroke-width="1.6" />
<line x1="765.84" y1="1689.4" x2="765.84" y2="1684.2" stroke="#262626" stroke-width="1.6" />
<line x1="810.8" y1="1338.4" x2="810.8" y2="1343.6" stroke="#262626" stroke-width="1.6" />
<line x1="810.8" y1="1689.4" x2="810.8" y2="1684.2" stroke="#262626" stroke-width="1.6" />
<line x1="855.76" y1="1338.4" x2="855.76" y2="1343.6" stroke="#262626" stroke-width="1.6" />
<line x1="855.76" y1="1689.4" x2="855.76" y2="1684.2" stroke="#262626" stroke-width="1.6" />
<line x1="900.72" y1="1338.4" x2="900.72" y2="1343.6" stroke="#262626" stroke-width="1.6" />
<line x1="900.72" y1="1689.4" x2="900.72" y2="1684.2" stroke="#262626" stroke-width="1.6" />
<line x1="558.7" y1="1689.4" x2="563.9" y2="1689.4" stroke="#262626" stroke-width="1.6" />
<line x1="908.6" y1="1689.4" x2="903.4" y2="1689.4" stroke="#262626" stroke-width="1.6" />
<line x1="558.7" y1="1634.45" x2="563.9" y2="1634.45" stroke="#262626" stroke-width="1.6" />
<line x1="908.6" y1="1634.45" x2="903.4" y2="1634.45" stroke="#262626" stroke-width="1.6" />
<line x1="558.7" y1="1579.5" x2="563.9" y2="1579.5" stroke="#262626" stroke-width="1.6" />
<line x1="908.6" y1="1579.5" x2="903.4" y2="1579.5" stroke="#262626" stroke-width="1.6" />
<line x1="558.7" y1="1524.55" x2="563.9" y2="1524.55" stroke="#262626" stroke-width="1.6" />
<line x1="908.6" y1="1524.55" x2="903.4" y2="1524.55" stroke="#262626" stroke-width="1.6" />
<line x1="558.7" y1="1469.6" x2="563.9" y2="1469.6" stroke="#262626" stroke-width="1.6" />
<line x1="908.6" y1="1469.6" x2="903.4" y2="1469.6" stroke="#262626" stroke-width="1.6" />
<line x1="558.7" y1="1414.65" x2="563.9" y2="1414.65" stroke="#262626" stroke-width="1.6" />
<line x1="908.6" y1="1414.65" x2="903.4" y2="1414.65" stroke="#262626" stroke-width="1.6" />
<line x1="558.7" y1="1359.7" x2="563.9" y2="1359.7" stroke="#262626" stroke-width="1.6" />
<line x1="908.6" y1="1359.7" x2="903.4" y2="1359.7" stroke="#262626" stroke-width="1.6" />
<g clip-path="url(#ce2)">
<path d="M574.7 1689.4 L576 1682.7 L577.4 1678.4 L578.7 1675.4 L579.4 1674.3 L580.8 1673.3 L584.1 1671.8 L588.8 1670.7 L603 1668.9 L607 1668.7 L613.7 1669 L619.8 1669.7 L632.6 1673.2 L637.9 1674.9 L642.7 1677 L650.1 1681.1 L656.1 1684.9 L660.1 1688 L662.8 1689.4 L910.6 1689.4" stroke="#0072BD" stroke-width="1.25" fill="none" stroke-linejoin="round" />
<path d="M574.7 1689.4 L576 1680.9 L577.4 1674.7 L578.1 1673.6 L578.7 1673 L580.7 1671.7 L582.7 1670.8 L592.1 1667.8 L599.5 1665.9 L606.2 1664.5 L610.9 1663.8 L617.6 1663.1 L624.3 1662.6 L629.7 1662.5 L639.8 1662.9 L653.8 1664.1 L664.6 1665.7 L669.9 1666.8 L673.3 1667.7 L682.7 1671.1 L694.1 1675.6 L702.8 1679.4 L712.9 1684.2 L714.9 1685.4 L718.2 1688 L720.9 1689.4 L910.6 1689.4" stroke="#D95319" stroke-width="1.25" fill="none" stroke-linejoin="round" />
<path d="M574.7 1689.4 L576 1680.4 L577.4 1673.8 L578.1 1672.6 L580.1 1670.6 L581.4 1669.7 L583.4 1668.7 L588.8 1666.7 L594.1 1665.1 L604.2 1662.8 L614.9 1660.8 L625.6 1659.2 L635 1658 L649.7 1656.6 L658.4 1656.3 L668.5 1656.4 L683.2 1657.1 L708.7 1659.1 L721.4 1660.5 L732.1 1662.9 L736.8 1663.5 L738.2 1663.5 L740.2 1663 L749.5 1659.5 L755.6 1658.4 L757.6 1658.3 L758.9 1658.6 L760.3 1659.1 L762.3 1660.3 L762.9 1661 L764.3 1663.9 L765.6 1668.2 L767.6 1680.4 L769.6 1689.4 L910.6 1689.4" stroke="#EDB120" stroke-width="1.25" fill="none" stroke-linejoin="round" />
<path d="M574.7 1689.4 L576 1679.9 L577.4 1672.9 L578 1671.5 L579.4 1669.8 L580.7 1668.6 L582.1 1667.6 L589.4 1664 L594.8 1661.9 L600.1 1660.5 L633.6 1654.2 L648.3 1652 L656.4 1651.2 L669.7 1650.8 L682.5 1650.7 L720.6 1651.5 L737.3 1652.1 L739.3 1651.8 L741.4 1651.2 L742.7 1650.6 L744 1649.7 L747.4 1646.3 L754.1 1638.1 L761.4 1627.5 L768.1 1618.6 L772.8 1613.7 L774.1 1612.8 L774.8 1612.7 L776.2 1613 L777.5 1613.9 L779.5 1616 L781.5 1618.6 L783.5 1623.3 L786.9 1633.3 L788.2 1638 L789.5 1643.7 L790.9 1652 L793.6 1672 L795.6 1689.4 L910.6 1689.4" stroke="#7E2F8E" stroke-width="1.25" fill="none" stroke-linejoin="round" />
<path d="M574.7 1689.4 L576 1679.7 L577.4 1672.5 L578.1 1671 L580.1 1668.5 L582.7 1666.4 L589.4 1662.6 L593.5 1660.6 L601.5 1657.5 L610.2 1654.9 L618.9 1652.8 L629.6 1650.7 L646.4 1648.2 L655.7 1647.1 L675.8 1646.2 L706 1645.8 L730.7 1645.2 L737.4 1644.9 L739.5 1644.2 L742.1 1642.4 L743.5 1640.8 L744.8 1638.7 L751.5 1625 L762.9 1604.5 L769.6 1590.4 L772.3 1585.5 L777 1577.9 L779 1575.2 L781 1573.6 L782.3 1573.3 L783.7 1573.5 L785.7 1574.2 L789.7 1576.7 L791 1578.2 L793 1581.5 L799.7 1595.2 L807.8 1613.2 L817.1 1632.5 L821.8 1641 L829.9 1653.6 L833.9 1660.7 L835.9 1664.7 L837.9 1669.3 L839.9 1675.4 L841.9 1683.1 L843.3 1689.4 L910.6 1689.4" stroke="#77AC30" stroke-width="1.25" fill="none" stroke-linejoin="round" />
<path d="M574.7 1689.4 L576 1679.5 L577.4 1672.1 L578.7 1669.5 L580.7 1667.1 L583.4 1665.1 L588.8 1661.9 L592.1 1660.2 L603.5 1655.5 L612.2 1652.5 L619.5 1650.5 L629.6 1648.6 L643 1646.7 L656.3 1645.1 L668.4 1644 L697.8 1641.9 L737.3 1640.7 L738.6 1640.5 L740.6 1639.4 L742 1638.3 L742.6 1637.5 L744 1634.8 L746 1629.2 L750 1615.6 L752 1609.6 L762.7 1583.9 L768.1 1570.2 L770.8 1563.8 L776.1 1553.5 L778.8 1548.9 L780.1 1547.2 L781.5 1545.9 L782.1 1545.5 L783.5 1545.3 L786.1 1545.8 L789.5 1547.1 L793.5 1549.5 L795.5 1551.5 L796.8 1553.5 L798.9 1557.2 L806.2 1573.4 L810.9 1585.3 L815.6 1599.5 L824.9 1635.8 L828.3 1650.3 L829.6 1654.6 L830.3 1655.8 L831 1656.3 L832.3 1656.8 L837 1657.8 L865.8 1661.4 L908.6 1667.7 L910.6 1667.7 L910.6 1689.4" stroke="#4DBEEE" stroke-width="1.25" fill="none" stroke-linejoin="round" />
<path d="M574.7 1689.4 L576 1679.3 L577.4 1671.8 L578 1670.1 L580.1 1667.2 L582.7 1664.8 L589.4 1660.2 L592.8 1658.1 L599.5 1655 L607.5 1652 L620.2 1648.1 L631.6 1645.2 L640.9 1643.3 L652.3 1641.5 L665 1640.1 L693.8 1638 L733.9 1635.9 L738 1635.4 L740 1634.1 L742 1632 L742.6 1630.8 L744 1627.2 L746 1619.6 L750 1601.2 L752 1593 L760 1565.2 L768.1 1540.5 L772.1 1529.3 L781.5 1505.6 L782.8 1503 L784.1 1501 L785.5 1499.9 L786.1 1499.7 L788.8 1500.1 L791.5 1501.2 L795.5 1503.8 L796.8 1505.1 L798.9 1508.4 L800.9 1512.8 L806.2 1527.5 L809.6 1539 L812.9 1553 L817.6 1574.2 L822.9 1601.8 L827.6 1624.4 L829 1630.1 L830.3 1633.8 L831 1634.6 L832.3 1635.6 L833.6 1636.3 L835 1636.6 L910.6 1636.6 L910.6 1689.4" stroke="#A2142F" stroke-width="1.25" fill="none" stroke-linejoin="round" />
<path d="M574.7 1689.4 L576 1679.2 L577.4 1671.4 L578 1669.7 L580.1 1666.6 L582.7 1664 L590.1 1658.3 L594.1 1655.6 L601.5 1651.6 L610.2 1647.7 L624.2 1642.2 L634.9 1638.5 L647 1635.1 L659 1632.3 L675.1 1629.3 L691.1 1627.2 L704.5 1625.8 L730.6 1623.9 L735.3 1623.4 L737.3 1623.1 L738.6 1622.7 L740 1621.7 L741.3 1620.4 L742 1619.5 L742.6 1618 L743.3 1616 L744.7 1610.4 L746.7 1599.3 L750 1578.6 L752 1568.1 L755.4 1554.1 L762.7 1525.3 L772.1 1484.8 L779.4 1458.2 L781.5 1451.7 L782.8 1448.1 L784.1 1445.4 L785.5 1443.9 L786.1 1443.7 L787.5 1443.8 L788.8 1444.2 L791.5 1445.6 L795.5 1448.8 L796.8 1450.6 L798.2 1453.4 L799.5 1457.1 L801.5 1463.8 L803.5 1471.5 L806.9 1485 L809.6 1498.2 L824.9 1586.7 L828.3 1608.9 L829.6 1615.4 L830.3 1617.3 L831 1618 L833.6 1618.8 L835 1618.9 L841 1618.8 L908.6 1613.7 L910.6 1613.7 L910.6 1689.4" stroke="#0072BD" stroke-width="1.25" fill="none" stroke-linejoin="round" />
<path d="M574.7 1689.4 L576 1679.1 L577.4 1671.2 L578 1669.5 L580.1 1666.2 L582.7 1663.5 L590.1 1657.5 L593.4 1655.1 L599.5 1651.4 L606.8 1647.7 L617.5 1643.1 L626.9 1639.6 L638.3 1635.8 L649.6 1632.6 L671.1 1627.1 L683.8 1624.3 L705.8 1620.3 L734.6 1615.6 L737.3 1614.9 L738.6 1614.3 L740.6 1612.8 L742 1611.2 L743.3 1607.4 L744.7 1601.2 L751.3 1559.6 L759.4 1517.2 L767.4 1472.9 L772.1 1448.8 L778.1 1421.8 L780.1 1413.7 L782.1 1407.4 L783.5 1403.9 L784.8 1401.3 L785.5 1400.6 L786.1 1400.3 L786.8 1400.4 L787.5 1400.7 L789.5 1403 L792.2 1407.5 L793.5 1410.6 L796.2 1418.5 L798.2 1425.4 L800.2 1433.2 L802.9 1444.9 L807.6 1466.9 L810.9 1484.7 L820.3 1540 L828.3 1591.6 L829.6 1598.1 L830.3 1600.5 L831 1602.1 L831.6 1603.1 L832.3 1603.5 L834.3 1604.3 L837.7 1604.3 L842.3 1603.9 L849 1603.1 L865.1 1600.5 L908.6 1594.5 L910.6 1594.5 L910.6 1689.4" stroke="#D95319" stroke-width="1.25" fill="none" stroke-linejoin="round" />
<path d="M574.7 1689.4 L576 1679 L577.4 1671.2 L578 1669.4 L580.1 1666.2 L582.1 1664 L590.1 1657.4 L593.4 1654.9 L598.8 1651.6 L606.1 1647.8 L615.5 1643.7 L625.6 1639.8 L636.9 1636 L648.3 1632.7 L671.1 1626.7 L683.1 1623.9 L707.2 1619.3 L734.6 1614.6 L738.6 1613.3 L740.6 1611.7 L742 1610.1 L743.3 1606.3 L744.7 1600 L751.3 1558.1 L759.4 1514.4 L766.7 1472.3 L772.1 1444.1 L778.1 1416.3 L780.1 1408.2 L783.5 1398.3 L784.8 1395.6 L785.5 1394.9 L786.1 1394.5 L786.8 1394.7 L787.5 1395.1 L789.5 1397.5 L792.2 1402.4 L793.5 1405.8 L795.5 1412.1 L798.2 1421.7 L802.9 1441.7 L807.6 1464.1 L810.9 1482 L820.3 1537.4 L823.6 1558.3 L827.6 1585.4 L829.6 1595.8 L831 1600 L831.6 1601.1 L832.3 1601.5 L834.3 1602.3 L837.7 1602.3 L842.3 1602 L849 1601.1 L865.1 1598.3 L908.6 1592 L910.6 1592 L910.6 1689.4" stroke="#EDB120" stroke-width="1.25" fill="none" stroke-linejoin="round" />
<path d="M574.7 1689.4 L576 1679 L577.4 1671.2 L578 1669.4 L580.1 1666.1 L582.1 1664 L590.1 1657.3 L593.4 1654.8 L598.8 1651.4 L606.1 1647.6 L614.8 1643.7 L624.2 1640.1 L634.9 1636.5 L646.3 1633 L670.4 1626.5 L682.4 1623.6 L721.2 1615.9 L730.6 1614.4 L734.6 1613.5 L738.6 1612.2 L740.6 1610.6 L742 1609 L743.3 1605.1 L744.7 1598.8 L750.7 1560.4 L759.4 1511.6 L766.7 1468.2 L772.8 1436 L778.1 1410.9 L780.1 1402.6 L783.5 1392.6 L784.8 1389.9 L785.5 1389.1 L786.1 1388.8 L786.8 1388.9 L787.5 1389.4 L788.8 1391 L791.5 1395.8 L792.8 1399 L794.8 1405.5 L798.2 1418 L802.2 1435.5 L807.6 1461.3 L811.6 1483 L820.9 1539 L827.6 1583.2 L829.6 1593.5 L831 1598 L831.6 1599.1 L833 1599.9 L834.3 1600.4 L837.7 1600.4 L842.3 1600 L849 1599.1 L865.1 1596.2 L908.6 1589.4 L910.6 1589.4 L910.6 1689.4" stroke="#7E2F8E" stroke-width="1.25" fill="none" stroke-linejoin="round" />
<path d="M574.7 1689.4 L576 1679 L577.4 1671.2 L578 1669.4 L580.1 1666.1 L582.1 1663.9 L590.1 1657.2 L593.4 1654.7 L598.8 1651.3 L605.5 1647.8 L613.5 1644.1 L622.9 1640.4 L632.9 1636.9 L645 1633.2 L670.4 1626.2 L681.8 1623.3 L721.2 1615.1 L730.6 1613.5 L734.6 1612.6 L738.6 1611.2 L740.6 1609.7 L742 1608.1 L743.3 1604.2 L744.7 1597.7 L750 1563.1 L758.7 1513.2 L766.7 1464.6 L772.8 1431.8 L778.1 1406.2 L780.1 1397.8 L783.5 1387.8 L784.8 1385 L785.5 1384.2 L786.1 1383.9 L786.8 1384 L787.5 1384.5 L788.8 1386.2 L791.5 1391.4 L792.8 1394.8 L794.8 1401.6 L798.2 1414.9 L802.2 1432.7 L807.6 1458.9 L812.2 1484.4 L816.9 1511.9 L822.3 1545.1 L827.6 1581.2 L829.6 1591.5 L831 1596.2 L831.6 1597.4 L833 1598.3 L834.3 1598.7 L837.7 1598.7 L842.3 1598.3 L849 1597.3 L865.1 1594.3 L908.6 1587.3 L910.6 1587.3 L910.6 1689.4" stroke="#77AC30" stroke-width="1.25" fill="none" stroke-linejoin="round" />
<path d="M574.7 1689.4 L576 1679 L577.4 1671.1 L578 1669.3 L580.1 1666.1 L582.1 1663.9 L590.1 1657.2 L593.4 1654.6 L598.8 1651.2 L605.5 1647.6 L613.5 1644 L622.2 1640.5 L631.6 1637.2 L643.6 1633.4 L671.1 1625.7 L681.8 1622.9 L721.2 1614.4 L733.9 1612 L736.6 1611.3 L738.6 1610.4 L740.6 1608.9 L742 1607.3 L743.3 1603.3 L744.7 1596.9 L749.3 1566.1 L758.7 1511.2 L766.1 1465.6 L772.8 1428.4 L778.1 1402.3 L780.1 1393.8 L783.5 1383.8 L784.8 1381 L785.5 1380.1 L786.1 1379.8 L786.8 1379.9 L787.5 1380.4 L788.8 1382.3 L791.5 1387.6 L792.8 1391.2 L794.8 1398.5 L798.2 1412.2 L802.2 1430.4 L808.2 1460.4 L814.2 1494 L822.3 1543.3 L827 1575.4 L828.3 1583.5 L830.3 1592.6 L831 1594.7 L831.6 1595.9 L833.6 1597.2 L835 1597.4 L839 1597.3 L843.7 1596.8 L849.7 1595.8 L865.1 1592.8 L908.6 1585.4 L910.6 1585.4 L910.6 1689.4" stroke="#4DBEEE" stroke-width="1.25" fill="none" stroke-linejoin="round" />
<path d="M574.7 1689.4 L576 1679 L577.4 1671.1 L578 1669.3 L580.1 1666 L582.1 1663.9 L590.1 1657.1 L593.4 1654.5 L598.8 1651.1 L605.5 1647.5 L613.5 1643.8 L622.2 1640.3 L630.9 1637.3 L643 1633.5 L671.1 1625.4 L681.1 1622.8 L721.2 1613.8 L733.9 1611.3 L736.6 1610.5 L738.6 1609.6 L740.6 1608.1 L742 1606.5 L743.3 1602.5 L744.7 1596 L749.3 1565.1 L758.7 1509.3 L766.1 1462.7 L772.8 1424.9 L778.1 1398.4 L780.1 1389.8 L783.5 1379.7 L784.8 1376.9 L785.5 1376.1 L786.1 1375.7 L786.8 1375.9 L787.5 1376.4 L788.8 1378.3 L791.5 1383.9 L792.8 1387.7 L795.5 1398.1 L801.5 1424.9 L808.2 1458.4 L814.2 1492 L822.3 1541.5 L827 1573.8 L828.3 1581.8 L830.3 1591 L831 1593.2 L831.6 1594.5 L833.6 1595.8 L835 1596 L839 1595.9 L843.7 1595.4 L849.7 1594.3 L865.1 1591.2 L908.6 1583.6 L910.6 1583.6 L910.6 1689.4" stroke="#A2142F" stroke-width="1.25" fill="none" stroke-linejoin="round" />
<path d="M574.7 1689.4 L576 1679 L577.4 1671.1 L578 1669.3 L580.1 1666 L582.1 1663.8 L590.1 1657 L593.4 1654.4 L598.8 1651 L605.5 1647.4 L612.8 1644 L621.5 1640.4 L629.6 1637.6 L641.6 1633.7 L671.7 1625 L681.1 1622.5 L721.2 1613.3 L733.9 1610.7 L736.6 1609.9 L738.6 1609 L740.6 1607.5 L742 1605.9 L743.3 1601.9 L745.3 1591.3 L749.3 1564.2 L758.7 1507.8 L766.1 1460.4 L772.8 1422.2 L778.1 1395.3 L780.1 1386.7 L782.8 1378.3 L784.1 1374.9 L785.5 1372.8 L786.1 1372.4 L786.8 1372.6 L787.5 1373.1 L788.8 1375.1 L791.5 1381 L792.8 1384.8 L795.5 1395.6 L801.5 1423 L808.2 1456.8 L814.2 1490.4 L822.3 1540.1 L827 1572.5 L828.3 1580.5 L830.3 1589.8 L831 1592 L831.6 1593.4 L833.6 1594.7 L835 1594.9 L839 1594.8 L843.7 1594.3 L849.7 1593.2 L865.1 1590 L908.6 1582.2 L910.6 1582.2 L910.6 1689.4" stroke="#0072BD" stroke-width="1.25" fill="none" stroke-linejoin="round" />
<path d="M574.7 1689.4 L576 1679 L577.4 1671.1 L578 1669.3 L580.1 1666 L582.1 1663.8 L590.1 1657 L593.4 1654.4 L598.8 1650.9 L605.5 1647.3 L612.8 1643.9 L620.9 1640.6 L628.9 1637.7 L640.9 1633.8 L672.4 1624.6 L681.1 1622.2 L721.2 1612.8 L733.9 1610.2 L738.6 1608.5 L740.6 1607 L742 1605.4 L743.3 1601.3 L745.3 1590.7 L749.3 1563.5 L758.7 1506.5 L766.1 1458.3 L772.8 1419.8 L778.1 1392.6 L780.1 1383.9 L782.8 1375.5 L784.1 1372.1 L785.5 1369.9 L786.1 1369.6 L786.8 1369.7 L787.5 1370.3 L788.8 1372.3 L791.5 1378.4 L792.8 1382.4 L794.8 1390.5 L801.5 1421.3 L808.9 1459 L814.9 1493 L822.9 1543.2 L827.6 1575.6 L830.3 1588.7 L831 1590.9 L831.6 1592.4 L833.6 1593.7 L835 1594 L839 1593.8 L843.7 1593.3 L849.7 1592.2 L865.1 1588.9 L908.6 1580.9 L910.6 1580.9 L910.6 1689.4" stroke="#D95319" stroke-width="1.25" fill="none" stroke-linejoin="round" />
<path d="M574.7 1689.4 L576 1679 L577.4 1671.1 L578 1669.3 L580.1 1666 L582.1 1663.8 L592.8 1654.8 L598.1 1651.2 L604.8 1647.5 L612.2 1644.1 L620.9 1640.5 L628.9 1637.6 L640.3 1634 L672.4 1624.4 L681.1 1622 L721.2 1612.4 L733.9 1609.7 L738.6 1608 L740.6 1606.5 L742 1604.9 L743.3 1600.8 L745.3 1590.2 L749.3 1562.8 L758 1509.6 L766.1 1456.6 L772.8 1417.7 L778.1 1390.2 L780.1 1381.5 L782.8 1373.1 L784.1 1369.6 L785.5 1367.5 L786.1 1367.1 L786.8 1367.3 L787.5 1367.8 L788.8 1370 L791.5 1376.1 L792.8 1380.2 L794.8 1388.6 L801.5 1419.9 L808.9 1457.8 L814.9 1491.8 L822.9 1542.1 L827.6 1574.6 L830.3 1587.7 L831 1590 L831.6 1591.5 L833.6 1592.9 L835 1593.1 L839 1593 L843.7 1592.4 L849.7 1591.3 L865.1 1588 L908.6 1579.8 L910.6 1579.8 L910.6 1689.4" stroke="#EDB120" stroke-width="1.25" fill="none" stroke-linejoin="round" />
<path d="M574.7 1689.4 L576 1679 L577.4 1671.1 L578 1669.3 L580.1 1666 L582.1 1663.8 L585.4 1661.1 L590.1 1656.9 L593.4 1654.3 L598.1 1651.2 L604.8 1647.5 L612.2 1644 L620.2 1640.7 L628.2 1637.8 L640.3 1633.9 L673.1 1624.1 L681.1 1621.9 L721.2 1612.1 L733.9 1609.4 L738.6 1607.6 L740.6 1606.1 L742 1604.5 L743.3 1600.4 L745.3 1589.7 L749.3 1562.3 L758.7 1504.3 L766.1 1455.1 L772.8 1416 L778.1 1388.3 L780.1 1379.5 L782.8 1371.1 L784.1 1367.6 L785.5 1365.4 L786.1 1365.1 L786.8 1365.2 L787.5 1365.8 L788.8 1368 L791.5 1374.3 L792.8 1378.5 L794.8 1387 L801.5 1418.8 L808.9 1456.8 L814.9 1490.8 L822.9 1541.2 L827.6 1573.8 L830.3 1586.9 L831 1589.3 L831.6 1590.8 L833.6 1592.2 L835 1592.5 L839 1592.3 L843.7 1591.7 L849.7 1590.6 L865.1 1587.2 L908.6 1578.9 L910.6 1578.9 L910.6 1689.4" stroke="#7E2F8E" stroke-width="1.25" fill="none" stroke-linejoin="round" />
<path d="M574.7 1689.4 L576 1679 L577.4 1671.1 L578 1669.3 L580.1 1665.9 L582.1 1663.8 L585.4 1661.1 L590.1 1656.9 L593.4 1654.2 L598.1 1651.1 L604.8 1647.4 L612.2 1643.9 L620.2 1640.6 L628.2 1637.7 L639.6 1634 L681.1 1621.7 L721.2 1611.8 L733.9 1609.1 L738.6 1607.3 L740.6 1605.8 L742 1604.2 L743.3 1600.1 L745.3 1589.4 L749.3 1561.9 L758.7 1503.6 L766.1 1454 L772.8 1414.6 L778.1 1386.7 L780.1 1377.9 L782.8 1369.5 L784.1 1366 L785.5 1363.8 L786.1 1363.4 L786.8 1363.6 L787.5 1364.2 L788.8 1366.4 L791.5 1372.8 L792.8 1377 L794.8 1385.7 L801.5 1417.8 L808.9 1456 L814.9 1490 L822.9 1540.5 L827.6 1573.2 L830.3 1586.3 L831 1588.7 L831.6 1590.2 L833.6 1591.6 L835 1591.9 L839 1591.7 L843.7 1591.2 L849.7 1590 L865.1 1586.6 L908.6 1578.2 L910.6 1578.2 L910.6 1689.4" stroke="#77AC30" stroke-width="1.25" fill="none" stroke-linejoin="round" />
<path d="M574.7 1689.4 L576 1679 L577.4 1671.1 L578 1669.2 L580.1 1665.9 L582.1 1663.7 L585.4 1661 L590.1 1656.8 L593.4 1654.2 L598.1 1651.1 L604.8 1647.4 L612.2 1643.9 L620.2 1640.6 L628.2 1637.7 L639.6 1634 L681.1 1621.6 L721.2 1611.6 L730.6 1609.6 L733.9 1608.8 L738.6 1607 L740.6 1605.5 L742 1603.9 L743.3 1599.8 L745.3 1589 L749.3 1561.5 L758.7 1502.8 L766.1 1452.8 L772.8 1413.2 L778.1 1385.1 L780.1 1376.3 L782.8 1367.9 L784.1 1364.4 L785.5 1362.2 L786.1 1361.8 L786.8 1362 L787.5 1362.6 L788.8 1364.8 L791.5 1371.3 L792.8 1375.6 L794.8 1384.4 L801.5 1416.9 L808.9 1455.2 L814.9 1489.2 L822.3 1535.4 L827.6 1572.6 L830.3 1585.7 L831 1588.1 L831.6 1589.6 L833.6 1591.1 L835 1591.3 L839 1591.2 L843.7 1590.6 L849.7 1589.5 L865.1 1585.9 L908.6 1577.5 L910.6 1577.5 L910.6 1689.4" stroke="#4DBEEE" stroke-width="1.25" fill="none" stroke-linejoin="round" />
<path d="M574.5 1668.6 L585.6 1666.4 L596.7 1663.9 L606.7 1661.2 L616.6 1658.1 L625.5 1654.9 L633.3 1651.8 L641 1648.1 L648.8 1644 L655.4 1640 L662.1 1635.4 L668.7 1630.3 L674.3 1625.5 L679.8 1620.1 L685.4 1614 L690.9 1607.3 L696.5 1599.7 L700.9 1592.9 L704.2 1587.4 L708.7 1579.4 L712 1572.9 L718.6 1558.4 L725.3 1541.8 L729.7 1529.4 L733 1519.4 L740.8 1493.9 L747.5 1469.7 L761.9 1414.5 L766.3 1398.7 L769.6 1388.1 L771.8 1381.7 L774.1 1376 L776.3 1371.1 L778.5 1367 L780.7 1363.9 L782.9 1361.9 L785.2 1360.8 L786.3 1360.7 L787.4 1360.9 L788.5 1361.4 L789.6 1362.3 L790.7 1363.5 L792.9 1366.9 L796.2 1374.2 L799.6 1383.9 L802.9 1395.5 L806.2 1408.5 L821.7 1475.5 L826.2 1493.7 L830.6 1510.6 L835 1526.2 L840.6 1543.8 L845 1556.4 L850.6 1570.4 L856.1 1582.6 L861.7 1593.3 L868.3 1604.4 L875 1613.8 L881.6 1621.9 L889.4 1629.9 L897.1 1636.7 L901.6 1640 L906 1643.1" stroke="#222" stroke-width="1.3" fill="none" stroke-dasharray="7.3 9" stroke-linejoin="round" />
</g>
<text x="541.5" y="1697.4" font-size="28.5" fill="#262626" text-anchor="end"  transform="translate(541.5 1697.4) scale(1 1.05) translate(-541.5 -1697.4)">0</text>
<text x="541.5" y="1587.5" font-size="28.5" fill="#262626" text-anchor="end"  transform="translate(541.5 1587.5) scale(1 1.05) translate(-541.5 -1587.5)">10</text>
<text x="541.5" y="1477.6" font-size="28.5" fill="#262626" text-anchor="end"  transform="translate(541.5 1477.6) scale(1 1.05) translate(-541.5 -1477.6)">20</text>
<text x="541.5" y="1367.7" font-size="28.5" fill="#262626" text-anchor="end"  transform="translate(541.5 1367.7) scale(1 1.05) translate(-541.5 -1367.7)">30</text>
<text x="582.7" y="1724.5" font-size="28.5" fill="#262626" text-anchor="middle"  transform="translate(582.7 1724.5) scale(1 1.05) translate(-582.7 -1724.5)">0.8</text>
<text x="688.3" y="1724.5" font-size="28.5" fill="#262626" text-anchor="middle"  transform="translate(688.3 1724.5) scale(1 1.05) translate(-688.3 -1724.5)">0.9</text>
<text x="794.8" y="1724.5" font-size="28.5" fill="#262626" text-anchor="middle"  transform="translate(794.8 1724.5) scale(1 1.05) translate(-794.8 -1724.5)">1</text>
<text x="899.3" y="1724.5" font-size="28.5" fill="#262626" text-anchor="middle"  transform="translate(899.3 1724.5) scale(1 1.05) translate(-899.3 -1724.5)">1.1</text>
<text x="747.3" y="1758.5" font-size="28.5" fill="#262626" text-anchor="middle"  transform="translate(747.3 1758.5) scale(1 1.05) translate(-747.3 -1758.5)">Energy (eV)</text>
<text x="586.56" y="1384.8" font-size="28.5" fill="#262626"  transform="translate(586.56 1384.8) scale(1 1.05) translate(-586.56 -1384.8)">F</text>
<text x="603.31" y="1389" font-size="21.5" fill="#262626"  transform="translate(603.31 1389) scale(1 1.05) translate(-603.31 -1389)">p</text>
<text x="621.51" y="1384.8" font-size="28.5" fill="#262626"  transform="translate(621.51 1384.8) scale(1 1.05) translate(-621.51 -1384.8)">=</text>
<text x="647.03" y="1384.8" font-size="28.5" fill="#262626"  transform="translate(647.03 1384.8) scale(1 1.05) translate(-647.03 -1384.8)">10</text>
<defs><clipPath id="ce3"><rect x="1010.5" y="1337.5" width="354.7" height="353.5"/></clipPath></defs>
<rect x="1012" y="1339" width="351.7" height="350.5" fill="none" stroke="#262626" stroke-width="1.6"/>
<line x1="1039" y1="1339" x2="1039" y2="1344.2" stroke="#262626" stroke-width="1.6" />
<line x1="1039" y1="1689.5" x2="1039" y2="1684.3" stroke="#262626" stroke-width="1.6" />
<line x1="1083.53" y1="1339" x2="1083.53" y2="1344.2" stroke="#262626" stroke-width="1.6" />
<line x1="1083.53" y1="1689.5" x2="1083.53" y2="1684.3" stroke="#262626" stroke-width="1.6" />
<line x1="1128.06" y1="1339" x2="1128.06" y2="1344.2" stroke="#262626" stroke-width="1.6" />
<line x1="1128.06" y1="1689.5" x2="1128.06" y2="1684.3" stroke="#262626" stroke-width="1.6" />
<line x1="1172.59" y1="1339" x2="1172.59" y2="1344.2" stroke="#262626" stroke-width="1.6" />
<line x1="1172.59" y1="1689.5" x2="1172.59" y2="1684.3" stroke="#262626" stroke-width="1.6" />
<line x1="1217.12" y1="1339" x2="1217.12" y2="1344.2" stroke="#262626" stroke-width="1.6" />
<line x1="1217.12" y1="1689.5" x2="1217.12" y2="1684.3" stroke="#262626" stroke-width="1.6" />
<line x1="1261.65" y1="1339" x2="1261.65" y2="1344.2" stroke="#262626" stroke-width="1.6" />
<line x1="1261.65" y1="1689.5" x2="1261.65" y2="1684.3" stroke="#262626" stroke-width="1.6" />
<line x1="1306.18" y1="1339" x2="1306.18" y2="1344.2" stroke="#262626" stroke-width="1.6" />
<line x1="1306.18" y1="1689.5" x2="1306.18" y2="1684.3" stroke="#262626" stroke-width="1.6" />
<line x1="1350.71" y1="1339" x2="1350.71" y2="1344.2" stroke="#262626" stroke-width="1.6" />
<line x1="1350.71" y1="1689.5" x2="1350.71" y2="1684.3" stroke="#262626" stroke-width="1.6" />
<line x1="1012" y1="1689.5" x2="1017.2" y2="1689.5" stroke="#262626" stroke-width="1.6" />
<line x1="1363.7" y1="1689.5" x2="1358.5" y2="1689.5" stroke="#262626" stroke-width="1.6" />
<line x1="1012" y1="1650.55" x2="1017.2" y2="1650.55" stroke="#262626" stroke-width="1.6" />
<line x1="1363.7" y1="1650.55" x2="1358.5" y2="1650.55" stroke="#262626" stroke-width="1.6" />
<line x1="1012" y1="1611.6" x2="1017.2" y2="1611.6" stroke="#262626" stroke-width="1.6" />
<line x1="1363.7" y1="1611.6" x2="1358.5" y2="1611.6" stroke="#262626" stroke-width="1.6" />
<line x1="1012" y1="1572.65" x2="1017.2" y2="1572.65" stroke="#262626" stroke-width="1.6" />
<line x1="1363.7" y1="1572.65" x2="1358.5" y2="1572.65" stroke="#262626" stroke-width="1.6" />
<line x1="1012" y1="1533.7" x2="1017.2" y2="1533.7" stroke="#262626" stroke-width="1.6" />
<line x1="1363.7" y1="1533.7" x2="1358.5" y2="1533.7" stroke="#262626" stroke-width="1.6" />
<line x1="1012" y1="1494.75" x2="1017.2" y2="1494.75" stroke="#262626" stroke-width="1.6" />
<line x1="1363.7" y1="1494.75" x2="1358.5" y2="1494.75" stroke="#262626" stroke-width="1.6" />
<line x1="1012" y1="1455.8" x2="1017.2" y2="1455.8" stroke="#262626" stroke-width="1.6" />
<line x1="1363.7" y1="1455.8" x2="1358.5" y2="1455.8" stroke="#262626" stroke-width="1.6" />
<line x1="1012" y1="1416.85" x2="1017.2" y2="1416.85" stroke="#262626" stroke-width="1.6" />
<line x1="1363.7" y1="1416.85" x2="1358.5" y2="1416.85" stroke="#262626" stroke-width="1.6" />
<line x1="1012" y1="1377.9" x2="1017.2" y2="1377.9" stroke="#262626" stroke-width="1.6" />
<line x1="1363.7" y1="1377.9" x2="1358.5" y2="1377.9" stroke="#262626" stroke-width="1.6" />
<line x1="1012" y1="1338.95" x2="1017.2" y2="1338.95" stroke="#262626" stroke-width="1.6" />
<line x1="1363.7" y1="1338.95" x2="1358.5" y2="1338.95" stroke="#262626" stroke-width="1.6" />
<g clip-path="url(#ce3)">
<path d="M1028 1689.5 L1132.2 1689.4 L1180 1689.1 L1194.1 1689.5 L1365.7 1689.5" stroke="#0072BD" stroke-width="1.25" fill="none" stroke-linejoin="round" />
<path d="M1028 1689.4 L1143.4 1689.1 L1168.8 1688.7 L1191.3 1687.9 L1194.1 1688.3 L1198.1 1689.2 L1202.9 1689.5 L1365.7 1689.5" stroke="#D95319" stroke-width="1.25" fill="none" stroke-linejoin="round" />
<path d="M1028 1689.3 L1106.8 1689.1 L1151.9 1688.6 L1168.8 1688.1 L1180 1687.5 L1188.5 1686.8 L1199.1 1685.6 L1200.3 1685.7 L1201.5 1686.1 L1204.7 1688.2 L1206.3 1688.9 L1208.1 1689.3 L1210.9 1689.5 L1365.7 1689.5" stroke="#EDB120" stroke-width="1.25" fill="none" stroke-linejoin="round" />
<path d="M1028 1689.3 L1118.1 1688.8 L1143.4 1688.4 L1163.1 1687.8 L1177.2 1687 L1188.5 1685.8 L1196.5 1684.4 L1205.5 1682 L1207.3 1681.7 L1208.5 1682 L1209.5 1682.6 L1212.7 1686.8 L1214.4 1688.3 L1216.2 1689.1 L1219 1689.4 L1365.7 1689.5" stroke="#7E2F8E" stroke-width="1.25" fill="none" stroke-linejoin="round" />
<path d="M1028 1689.2 L1087.1 1688.9 L1126.5 1688.5 L1151.9 1687.7 L1171.6 1686.6 L1180 1685.7 L1185.7 1684.9 L1191.3 1683.8 L1196.9 1682.3 L1200.9 1681 L1204.5 1679.4 L1208.1 1677.4 L1213.5 1673.8 L1214.6 1673.4 L1215.6 1673.1 L1216.4 1673.3 L1217 1673.6 L1218.2 1675.1 L1221.8 1683.6 L1223.6 1686.7 L1224.6 1687.7 L1225.8 1688.5 L1227.2 1689 L1229 1689.3 L1237.4 1689.5 L1365.7 1689.5" stroke="#77AC30" stroke-width="1.25" fill="none" stroke-linejoin="round" />
<path d="M1028 1689.1 L1092.8 1688.6 L1132.2 1687.9 L1157.5 1686.7 L1168.8 1685.7 L1177.2 1684.6 L1185.7 1683 L1191.3 1681.5 L1196.9 1679.4 L1201.9 1676.9 L1205.7 1674.3 L1209.3 1671.3 L1212.9 1667.4 L1218.4 1660.6 L1219.6 1659.5 L1220.6 1659.1 L1221.4 1659.4 L1222 1660 L1223.2 1662.4 L1224.4 1666.5 L1227.4 1678.8 L1228.4 1681.9 L1229.4 1684.2 L1230.6 1686.1 L1232 1687.6 L1233.6 1688.6 L1235.4 1689.1 L1238 1689.4 L1242.8 1689.5 L1365.7 1689.5" stroke="#4DBEEE" stroke-width="1.25" fill="none" stroke-linejoin="round" />
<path d="M1028 1689 L1095.6 1688.4 L1118.1 1688 L1137.8 1687.3 L1151.9 1686.5 L1163.1 1685.6 L1174.4 1684.1 L1182.8 1682.4 L1188.5 1680.8 L1191.3 1679.8 L1196.7 1677.4 L1199.5 1675.8 L1202.3 1673.9 L1204.7 1672 L1207.1 1669.8 L1210.9 1665.5 L1214.4 1660.5 L1218 1653.9 L1223.4 1642 L1224.6 1640.2 L1225.2 1639.7 L1225.6 1639.6 L1226.4 1640.2 L1227 1641.4 L1228.2 1645.9 L1229.2 1651.7 L1232.2 1672.4 L1234 1681.3 L1235 1684.4 L1236 1686.5 L1237.2 1688 L1238.8 1688.9 L1241.4 1689.4 L1246.2 1689.5 L1365.7 1689.5" stroke="#A2142F" stroke-width="1.25" fill="none" stroke-linejoin="round" />
<path d="M1028 1688.9 L1067.4 1688.6 L1098.4 1688.1 L1120.9 1687.5 L1140.6 1686.6 L1157.5 1685.2 L1168.8 1683.8 L1177.2 1682.1 L1185.7 1679.7 L1191.3 1677.4 L1194.1 1675.9 L1199.3 1672.5 L1202.1 1670.2 L1204.7 1667.7 L1207.1 1664.9 L1209.5 1661.6 L1213.3 1655.3 L1216.8 1648 L1220.2 1638.8 L1225.8 1621.1 L1227.2 1618 L1227.8 1617.3 L1228.2 1617.1 L1228.6 1617.1 L1229 1617.5 L1229.8 1619.4 L1230.6 1622.9 L1231.2 1626.7 L1232.4 1637.1 L1235.2 1666.2 L1236.8 1677.7 L1237.8 1682.1 L1238.8 1684.9 L1240.2 1687.2 L1241.8 1688.5 L1243.2 1689 L1244.8 1689.3 L1250.2 1689.5 L1365.7 1689.5" stroke="#0072BD" stroke-width="1.25" fill="none" stroke-linejoin="round" />
<path d="M1028 1688.8 L1070.2 1688.4 L1101.2 1687.9 L1123.7 1687.2 L1143.4 1686.1 L1160.3 1684.5 L1171.6 1682.7 L1180 1680.7 L1185.7 1678.8 L1188.5 1677.7 L1191.3 1676.3 L1195.9 1673.6 L1199.3 1671.1 L1202.3 1668.4 L1205.1 1665.3 L1207.9 1661.7 L1210.3 1658 L1212.7 1653.6 L1216.6 1645 L1220.2 1634.4 L1223.6 1621.6 L1228.8 1598.2 L1229.8 1595 L1230.4 1593.9 L1230.8 1593.7 L1231.4 1594.4 L1232 1596.6 L1233 1604 L1234 1616 L1236.6 1654.1 L1237.4 1663.2 L1238.4 1672 L1239.4 1678 L1240.6 1682.7 L1242 1685.8 L1242.8 1686.9 L1243.8 1687.9 L1245.2 1688.6 L1247 1689.1 L1252.8 1689.5 L1365.7 1689.5" stroke="#D95319" stroke-width="1.25" fill="none" stroke-linejoin="round" />
<path d="M1028 1688.8 L1073 1688.3 L1104 1687.7 L1126.5 1686.9 L1146.2 1685.7 L1154.7 1684.9 L1163.1 1683.8 L1168.8 1682.8 L1174.4 1681.6 L1182.8 1679.2 L1188.5 1676.8 L1191.3 1675.4 L1195.1 1673.1 L1198.5 1670.5 L1201.7 1667.5 L1204.7 1664.1 L1207.5 1660.3 L1210.1 1656.1 L1212.5 1651.4 L1215 1646 L1218.8 1635.2 L1222.4 1621.9 L1225.8 1605.5 L1230.4 1578.6 L1231.2 1575.4 L1231.6 1574.5 L1232 1574.2 L1232.6 1575.2 L1233 1577 L1234 1585.5 L1237.8 1644.2 L1238.8 1656.5 L1239.8 1666 L1241 1674.2 L1242.4 1680.4 L1244 1684.5 L1245 1686.1 L1246 1687.2 L1247.6 1688.3 L1249.6 1688.9 L1252.2 1689.3 L1255.9 1689.4 L1365.7 1689.5" stroke="#EDB120" stroke-width="1.25" fill="none" stroke-linejoin="round" />
<path d="M1028 1688.7 L1073 1688.3 L1104 1687.6 L1129.3 1686.7 L1149.1 1685.3 L1157.5 1684.3 L1165.9 1683.1 L1171.6 1681.9 L1177.2 1680.5 L1182.8 1678.7 L1185.7 1677.6 L1191.3 1674.8 L1194.1 1673 L1197.7 1670.3 L1201.1 1667.2 L1204.3 1663.5 L1207.1 1659.7 L1209.7 1655.4 L1212.3 1650.3 L1214.8 1644.7 L1217 1638.6 L1219 1632.3 L1220.8 1625.8 L1224.2 1610.8 L1227.2 1593.4 L1231.2 1564.8 L1232 1560.9 L1232.4 1559.8 L1232.8 1559.4 L1233.4 1560.5 L1233.8 1562.5 L1234.8 1571.4 L1239 1633.6 L1240.2 1647.5 L1241.6 1660.1 L1243.2 1670.4 L1244.8 1677.4 L1245.8 1680.5 L1246.8 1682.8 L1248 1684.8 L1249.2 1686.3 L1251 1687.7 L1253.4 1688.6 L1256.5 1689.2 L1260.7 1689.4 L1365.7 1689.5" stroke="#7E2F8E" stroke-width="1.25" fill="none" stroke-linejoin="round" />
<path d="M1028 1688.7 L1073 1688.2 L1104 1687.5 L1129.3 1686.5 L1149.1 1685.1 L1157.5 1684.1 L1165.9 1682.8 L1171.6 1681.6 L1177.2 1680.1 L1182.8 1678.2 L1185.7 1677.1 L1191.3 1674.1 L1194.1 1672.3 L1197.9 1669.3 L1201.3 1666 L1204.5 1662.1 L1207.5 1657.7 L1210.3 1652.8 L1212.9 1647.2 L1215.4 1641.2 L1217.8 1634.1 L1219.8 1627.1 L1221.6 1620 L1223.4 1611.8 L1225 1603.3 L1227.8 1584.7 L1231.8 1551.1 L1232.6 1546.7 L1233 1545.6 L1233.4 1545.4 L1233.8 1546.1 L1234.2 1547.8 L1235.2 1556.1 L1239.8 1618.6 L1241.6 1637.3 L1243.4 1651.8 L1245.6 1664.9 L1247.8 1674 L1249 1677.5 L1250.2 1680.4 L1251.6 1682.9 L1253.2 1685 L1255.7 1687 L1258.5 1688.2 L1262.1 1689 L1266.9 1689.3 L1280.3 1689.5 L1365.7 1689.5" stroke="#77AC30" stroke-width="1.25" fill="none" stroke-linejoin="round" />
<path d="M1028 1688.7 L1073 1688.1 L1104 1687.4 L1129.3 1686.4 L1149.1 1684.8 L1157.5 1683.8 L1165.9 1682.4 L1171.6 1681.2 L1177.2 1679.6 L1182.8 1677.6 L1185.7 1676.4 L1191.3 1673.3 L1194.9 1670.8 L1198.7 1667.5 L1202.3 1663.5 L1205.5 1659.2 L1208.5 1654.3 L1211.3 1648.7 L1213.9 1642.5 L1216.4 1635.7 L1218.8 1627.6 L1220.8 1619.8 L1222.6 1611.6 L1225.6 1594.6 L1228.2 1574.5 L1232 1537.1 L1232.8 1531.8 L1233.2 1530.3 L1233.6 1529.8 L1234 1530.3 L1234.4 1531.8 L1235.2 1537.9 L1240.4 1605.7 L1242.4 1625.3 L1244.6 1642.1 L1247.2 1657.3 L1248.6 1663.8 L1250 1669.1 L1251.4 1673.5 L1253 1677.6 L1254.7 1680.7 L1256.5 1683.3 L1259.1 1685.8 L1260.7 1686.8 L1262.3 1687.6 L1266.3 1688.7 L1271.7 1689.2 L1286.5 1689.5 L1365.7 1689.5" stroke="#4DBEEE" stroke-width="1.25" fill="none" stroke-linejoin="round" />
<path d="M1028 1688.6 L1073 1688 L1104 1687.3 L1129.3 1686.1 L1140.6 1685.3 L1149.1 1684.4 L1157.5 1683.3 L1165.9 1681.8 L1171.6 1680.5 L1177.2 1678.8 L1182.8 1676.6 L1188.5 1673.7 L1191.3 1671.9 L1195.3 1668.8 L1199.1 1665.1 L1202.7 1660.8 L1205.9 1656 L1208.9 1650.5 L1211.7 1644.2 L1214.4 1637.3 L1216.8 1629.7 L1219.2 1620.7 L1221 1612.9 L1222.8 1603.8 L1225.8 1584.6 L1228.4 1561.7 L1232.2 1518.9 L1233 1513.1 L1233.4 1511.6 L1233.8 1511.1 L1234.2 1511.8 L1234.6 1513.6 L1235.6 1522.5 L1239.2 1573.5 L1241.2 1597.1 L1243.2 1615.6 L1245.4 1631.9 L1248.4 1649.4 L1250 1656.8 L1251.8 1663.9 L1253.6 1669.7 L1255.5 1674.4 L1257.3 1678.1 L1259.3 1681.3 L1260.7 1683 L1262.3 1684.5 L1264.1 1685.9 L1265.9 1686.9 L1267.9 1687.6 L1270.1 1688.2 L1275.7 1689 L1281.9 1689.3 L1291.2 1689.5 L1365.7 1689.5" stroke="#A2142F" stroke-width="1.25" fill="none" stroke-linejoin="round" />
<path d="M1028 1688.5 L1073 1687.8 L1106.8 1686.9 L1132.2 1685.4 L1143.4 1684.4 L1151.9 1683.3 L1160.3 1682 L1165.9 1680.8 L1171.6 1679.2 L1177.2 1677.3 L1182.8 1674.8 L1188.5 1671.6 L1191.3 1669.5 L1195.9 1665.4 L1199.7 1661.1 L1203.3 1656 L1206.5 1650.3 L1209.5 1643.8 L1212.3 1636.4 L1215 1628.2 L1217.4 1619.1 L1219.8 1608.4 L1221.6 1598.9 L1223.2 1589.1 L1226 1567.6 L1228.4 1542.4 L1232.4 1488.5 L1233.2 1481.9 L1233.6 1480.3 L1233.8 1480 L1234 1479.9 L1234.4 1480.9 L1234.8 1483.2 L1235.8 1493.7 L1239.2 1547 L1241.2 1573 L1243.4 1595 L1246 1615.3 L1247.8 1626.9 L1249.6 1637 L1251.6 1646.7 L1253.6 1654.9 L1255.7 1662 L1257.9 1668.3 L1260.1 1673.5 L1262.5 1677.9 L1264.1 1680.2 L1265.9 1682.3 L1267.9 1684.1 L1269.9 1685.5 L1271.9 1686.5 L1274.1 1687.4 L1277.2 1688.2 L1280.3 1688.7 L1286.5 1689.2 L1297.4 1689.4 L1365.7 1689.5" stroke="#0072BD" stroke-width="1.25" fill="none" stroke-linejoin="round" />
<path d="M1028 1688.3 L1073 1687.6 L1106.8 1686.5 L1120.9 1685.7 L1132.2 1684.9 L1143.4 1683.7 L1151.9 1682.5 L1160.3 1681 L1168.8 1678.8 L1174.4 1676.9 L1180 1674.4 L1185.7 1671.2 L1188.5 1669.2 L1191.3 1666.9 L1194.1 1664.2 L1196.3 1661.8 L1200.1 1656.8 L1203.7 1650.8 L1206.9 1644.2 L1209.9 1636.7 L1212.7 1628.1 L1215.4 1618.5 L1217.8 1607.9 L1220 1596.4 L1221.8 1585.4 L1223.4 1574 L1226.2 1548.8 L1228.6 1518.9 L1232.4 1458.8 L1233.2 1450.8 L1233.6 1448.7 L1234 1448 L1234.4 1448.9 L1234.8 1451.2 L1235.8 1462.5 L1239.2 1521.8 L1241.4 1553.1 L1243.6 1576.9 L1246.2 1598.6 L1248.2 1612.3 L1250.2 1624 L1252.4 1635.2 L1254.7 1644.8 L1257.1 1653.7 L1259.5 1661.1 L1262.1 1667.8 L1264.7 1673.1 L1266.7 1676.5 L1268.7 1679.2 L1270.9 1681.7 L1273.3 1683.7 L1275.7 1685.2 L1278.8 1686.7 L1281.9 1687.6 L1285 1688.3 L1291.2 1689 L1302 1689.4 L1365.7 1689.5" stroke="#D95319" stroke-width="1.25" fill="none" stroke-linejoin="round" />
<path d="M1028 1688.3 L1073 1687.5 L1106.8 1686.3 L1120.9 1685.4 L1132.2 1684.5 L1143.4 1683.3 L1151.9 1682 L1160.3 1680.3 L1168.8 1678 L1174.4 1675.9 L1180 1673.2 L1185.7 1669.8 L1188.5 1667.6 L1191.3 1665.2 L1194.1 1662.3 L1196.9 1658.9 L1200.7 1653.2 L1204.1 1646.9 L1207.3 1639.6 L1210.3 1631.1 L1213.1 1621.5 L1215.8 1610.7 L1218.2 1598.8 L1220.4 1585.7 L1223.6 1561.6 L1226.4 1532.6 L1228.8 1497.8 L1232.4 1431.6 L1233.2 1421.7 L1233.6 1418.9 L1234 1417.6 L1234.2 1417.6 L1234.4 1418 L1234.8 1420.1 L1235.8 1431.6 L1239.2 1494.4 L1241.4 1527.6 L1243.6 1552.3 L1246 1573 L1247.8 1585.7 L1249.8 1597.7 L1251.8 1607.9 L1254 1617.6 L1256.5 1626.6 L1258.9 1634.2 L1261.5 1641.1 L1264.3 1647.3 L1267.1 1652.6 L1270.3 1657.5 L1273.7 1661.8 L1277.2 1665.4 L1280.3 1668.1 L1285 1671.4 L1289.6 1674 L1295.8 1676.7 L1302 1678.8 L1308.3 1680.4 L1314.5 1681.7 L1322.2 1682.9 L1331.5 1684.1 L1340.9 1685 L1365.7 1686.5" stroke="#EDB120" stroke-width="1.25" fill="none" stroke-linejoin="round" />
<path d="M1028 1688.1 L1073 1687.2 L1106.8 1685.9 L1120.9 1685 L1132.2 1684 L1143.4 1682.6 L1151.9 1681.2 L1160.3 1679.3 L1168.8 1676.7 L1174.4 1674.4 L1180 1671.5 L1185.7 1667.6 L1188.5 1665.3 L1191.3 1662.5 L1194.1 1659.3 L1196.9 1655.5 L1200.7 1649.3 L1204.1 1642.3 L1207.3 1634.2 L1210.3 1624.8 L1213.1 1614.1 L1215.8 1602.1 L1218.2 1588.9 L1220.4 1574.4 L1223.6 1547.7 L1226.4 1515.6 L1228.8 1477 L1232.4 1403.5 L1233.2 1392.6 L1233.6 1389.4 L1234 1388 L1234.2 1388 L1234.4 1388.5 L1234.8 1390.8 L1235.8 1403.5 L1239.2 1473.2 L1241.4 1510 L1243.6 1537.4 L1246 1560.3 L1247.8 1574.4 L1249.8 1587.7 L1251.8 1599 L1254 1609.8 L1256.5 1619.7 L1258.9 1628.1 L1261.5 1635.8 L1264.3 1642.8 L1267.1 1648.5 L1270.3 1654 L1273.7 1658.8 L1277.2 1662.8 L1280.3 1665.8 L1285 1669.4 L1289.6 1672.3 L1295.8 1675.3 L1302 1677.6 L1308.3 1679.4 L1314.5 1680.8 L1322.2 1682.2 L1331.5 1683.5 L1340.9 1684.5 L1351.7 1685.3 L1365.7 1686.1" stroke="#7E2F8E" stroke-width="1.25" fill="none" stroke-linejoin="round" />
<path d="M1028 1688.1 L1073 1687.2 L1106.8 1685.8 L1120.9 1684.9 L1132.2 1683.8 L1143.4 1682.4 L1151.9 1680.9 L1160.3 1679 L1168.8 1676.3 L1174.4 1674 L1180 1671 L1185.7 1667 L1188.5 1664.6 L1191.3 1661.7 L1194.1 1658.4 L1196.9 1654.5 L1200.7 1648.1 L1204.1 1641 L1207.3 1632.6 L1210.3 1623 L1213.1 1612 L1215.8 1599.7 L1218.2 1586 L1220.4 1571.1 L1223.6 1543.6 L1226.4 1510.6 L1228.8 1470.9 L1232.4 1395.3 L1233.2 1384.2 L1233.6 1380.9 L1234 1379.5 L1234.2 1379.5 L1234.4 1379.9 L1234.8 1382.3 L1235.8 1395.3 L1239.2 1467 L1241.4 1504.9 L1243.6 1533.1 L1246 1556.7 L1247.8 1571.1 L1249.8 1584.8 L1251.8 1596.5 L1254 1607.5 L1256.5 1617.7 L1258.9 1626.4 L1261.5 1634.3 L1264.3 1641.4 L1267.1 1647.4 L1270.3 1653 L1273.7 1657.9 L1277.2 1662 L1280.3 1665.1 L1285 1668.8 L1289.6 1671.8 L1295.8 1674.9 L1302 1677.3 L1308.3 1679.1 L1314.5 1680.6 L1322.2 1682 L1331.5 1683.3 L1340.9 1684.3 L1351.7 1685.2 L1365.7 1686.1" stroke="#77AC30" stroke-width="1.25" fill="none" stroke-linejoin="round" />
<path d="M1028 1688.1 L1073 1687.1 L1106.8 1685.8 L1120.9 1684.8 L1132.2 1683.7 L1143.4 1682.3 L1151.9 1680.8 L1160.3 1678.8 L1168.8 1676.1 L1174.4 1673.8 L1180 1670.7 L1185.7 1666.7 L1188.5 1664.2 L1191.3 1661.3 L1194.1 1658 L1196.9 1654 L1200.7 1647.5 L1204.1 1640.2 L1207.3 1631.7 L1210.3 1621.9 L1213.1 1610.8 L1215.8 1598.3 L1218.2 1584.5 L1220.4 1569.3 L1223.6 1541.4 L1226.4 1507.9 L1228.8 1467.6 L1232.4 1390.9 L1233.2 1379.5 L1233.6 1376.2 L1234 1374.8 L1234.2 1374.8 L1234.4 1375.3 L1234.8 1377.7 L1235.8 1390.9 L1239.2 1463.7 L1241.4 1502.1 L1243.6 1530.7 L1246 1554.7 L1247.8 1569.3 L1249.8 1583.2 L1251.8 1595.1 L1254 1606.3 L1256.5 1616.6 L1258.9 1625.4 L1261.5 1633.5 L1264.3 1640.7 L1267.1 1646.7 L1270.3 1652.5 L1273.7 1657.4 L1277.2 1661.6 L1280.3 1664.7 L1285 1668.5 L1289.6 1671.6 L1295.8 1674.7 L1302 1677.1 L1308.3 1678.9 L1314.5 1680.4 L1322.2 1681.9 L1331.5 1683.2 L1340.9 1684.2 L1351.7 1685.1 L1365.7 1686" stroke="#4DBEEE" stroke-width="1.25" fill="none" stroke-linejoin="round" />
<path d="M1028.6 1674.8 L1040.9 1672.9 L1052.1 1671 L1063.2 1668.7 L1073.3 1666.2 L1082.2 1663.6 L1091.1 1660.6 L1099 1657.5 L1106.8 1653.9 L1114.6 1649.7 L1121.3 1645.5 L1128 1640.7 L1133.6 1636.1 L1139.2 1630.9 L1144.7 1624.9 L1150.3 1618 L1154.8 1611.8 L1159.3 1604.9 L1162.6 1599.1 L1166 1592.9 L1169.3 1586 L1172.7 1578.5 L1176 1570.4 L1179.4 1561.5 L1182.7 1551.9 L1186.1 1541.4 L1189.4 1530.1 L1196.1 1505 L1202.8 1476.8 L1215.1 1422.1 L1220.7 1400 L1224 1389.1 L1227.4 1380.7 L1229.6 1376.7 L1230.7 1375.2 L1231.8 1374.1 L1233 1373.3 L1234.1 1372.9 L1235.2 1372.9 L1236.3 1373.3 L1237.4 1374 L1238.5 1375.1 L1240.8 1378.2 L1241.9 1380.2 L1244.1 1385.1 L1247.5 1394.6 L1250.8 1406 L1254.2 1418.9 L1269.8 1485.2 L1274.3 1503 L1278.7 1519.6 L1283.2 1534.9 L1288.8 1552 L1294.4 1567 L1300 1580.1 L1305.5 1591.5 L1308.9 1597.6 L1312.2 1603.3 L1318.9 1613.3 L1322.3 1617.7 L1326.8 1623.1 L1330.1 1626.7 L1334.6 1631.2 L1339 1635.2 L1343.5 1638.9 L1348 1642.2 L1352.4 1645.3 L1356.9 1648 L1362.5 1651.1" stroke="#000" stroke-width="2" fill="none" stroke-dasharray="7.6 8.7" stroke-linejoin="round" />
</g>
<text x="995.8" y="1697.5" font-size="28.5" fill="#262626" text-anchor="end"  transform="translate(995.8 1697.5) scale(1 1.05) translate(-995.8 -1697.5)">0</text>
<text x="995.8" y="1619.6" font-size="28.5" fill="#262626" text-anchor="end"  transform="translate(995.8 1619.6) scale(1 1.05) translate(-995.8 -1619.6)">100</text>
<text x="995.8" y="1541.7" font-size="28.5" fill="#262626" text-anchor="end"  transform="translate(995.8 1541.7) scale(1 1.05) translate(-995.8 -1541.7)">200</text>
<text x="995.8" y="1463.8" font-size="28.5" fill="#262626" text-anchor="end"  transform="translate(995.8 1463.8) scale(1 1.05) translate(-995.8 -1463.8)">300</text>
<text x="995.8" y="1385.9" font-size="28.5" fill="#262626" text-anchor="end"  transform="translate(995.8 1385.9) scale(1 1.05) translate(-995.8 -1385.9)">400</text>
<text x="1040.5" y="1724.5" font-size="28.5" fill="#262626" text-anchor="middle"  transform="translate(1040.5 1724.5) scale(1 1.05) translate(-1040.5 -1724.5)">0.8</text>
<text x="1145.5" y="1724.5" font-size="28.5" fill="#262626" text-anchor="middle"  transform="translate(1145.5 1724.5) scale(1 1.05) translate(-1145.5 -1724.5)">0.9</text>
<text x="1249.8" y="1724.5" font-size="28.5" fill="#262626" text-anchor="middle"  transform="translate(1249.8 1724.5) scale(1 1.05) translate(-1249.8 -1724.5)">1</text>
<text x="1353.5" y="1724.5" font-size="28.5" fill="#262626" text-anchor="middle"  transform="translate(1353.5 1724.5) scale(1 1.05) translate(-1353.5 -1724.5)">1.1</text>
<text x="1201.4" y="1758.5" font-size="28.5" fill="#262626" text-anchor="middle"  transform="translate(1201.4 1758.5) scale(1 1.05) translate(-1201.4 -1758.5)">Energy (eV)</text>
<text x="1035.86" y="1384.8" font-size="28.5" fill="#262626"  transform="translate(1035.86 1384.8) scale(1 1.05) translate(-1035.86 -1384.8)">F</text>
<text x="1052.61" y="1389" font-size="21.5" fill="#262626"  transform="translate(1052.61 1389) scale(1 1.05) translate(-1052.61 -1389)">p</text>
<text x="1070.81" y="1384.8" font-size="28.5" fill="#262626"  transform="translate(1070.81 1384.8) scale(1 1.05) translate(-1070.81 -1384.8)">=</text>
<text x="1097.07" y="1384.8" font-size="28.5" fill="#262626"  transform="translate(1097.07 1384.8) scale(1 1.05) translate(-1097.07 -1384.8)">20</text>
<defs><clipPath id="ce4"><rect x="1462.9" y="1337.7" width="354.5" height="353.8"/></clipPath></defs>
<rect x="1464.4" y="1339.2" width="351.5" height="350.8" fill="none" stroke="#262626" stroke-width="1.6"/>
<line x1="1491.5" y1="1339.2" x2="1491.5" y2="1344.4" stroke="#262626" stroke-width="1.6" />
<line x1="1491.5" y1="1690" x2="1491.5" y2="1684.8" stroke="#262626" stroke-width="1.6" />
<line x1="1535.94" y1="1339.2" x2="1535.94" y2="1344.4" stroke="#262626" stroke-width="1.6" />
<line x1="1535.94" y1="1690" x2="1535.94" y2="1684.8" stroke="#262626" stroke-width="1.6" />
<line x1="1580.38" y1="1339.2" x2="1580.38" y2="1344.4" stroke="#262626" stroke-width="1.6" />
<line x1="1580.38" y1="1690" x2="1580.38" y2="1684.8" stroke="#262626" stroke-width="1.6" />
<line x1="1624.82" y1="1339.2" x2="1624.82" y2="1344.4" stroke="#262626" stroke-width="1.6" />
<line x1="1624.82" y1="1690" x2="1624.82" y2="1684.8" stroke="#262626" stroke-width="1.6" />
<line x1="1669.26" y1="1339.2" x2="1669.26" y2="1344.4" stroke="#262626" stroke-width="1.6" />
<line x1="1669.26" y1="1690" x2="1669.26" y2="1684.8" stroke="#262626" stroke-width="1.6" />
<line x1="1713.7" y1="1339.2" x2="1713.7" y2="1344.4" stroke="#262626" stroke-width="1.6" />
<line x1="1713.7" y1="1690" x2="1713.7" y2="1684.8" stroke="#262626" stroke-width="1.6" />
<line x1="1758.14" y1="1339.2" x2="1758.14" y2="1344.4" stroke="#262626" stroke-width="1.6" />
<line x1="1758.14" y1="1690" x2="1758.14" y2="1684.8" stroke="#262626" stroke-width="1.6" />
<line x1="1802.58" y1="1339.2" x2="1802.58" y2="1344.4" stroke="#262626" stroke-width="1.6" />
<line x1="1802.58" y1="1690" x2="1802.58" y2="1684.8" stroke="#262626" stroke-width="1.6" />
<line x1="1464.4" y1="1690" x2="1469.6" y2="1690" stroke="#262626" stroke-width="1.6" />
<line x1="1815.9" y1="1690" x2="1810.7" y2="1690" stroke="#262626" stroke-width="1.6" />
<line x1="1464.4" y1="1646.15" x2="1469.6" y2="1646.15" stroke="#262626" stroke-width="1.6" />
<line x1="1815.9" y1="1646.15" x2="1810.7" y2="1646.15" stroke="#262626" stroke-width="1.6" />
<line x1="1464.4" y1="1602.3" x2="1469.6" y2="1602.3" stroke="#262626" stroke-width="1.6" />
<line x1="1815.9" y1="1602.3" x2="1810.7" y2="1602.3" stroke="#262626" stroke-width="1.6" />
<line x1="1464.4" y1="1558.45" x2="1469.6" y2="1558.45" stroke="#262626" stroke-width="1.6" />
<line x1="1815.9" y1="1558.45" x2="1810.7" y2="1558.45" stroke="#262626" stroke-width="1.6" />
<line x1="1464.4" y1="1514.6" x2="1469.6" y2="1514.6" stroke="#262626" stroke-width="1.6" />
<line x1="1815.9" y1="1514.6" x2="1810.7" y2="1514.6" stroke="#262626" stroke-width="1.6" />
<line x1="1464.4" y1="1470.75" x2="1469.6" y2="1470.75" stroke="#262626" stroke-width="1.6" />
<line x1="1815.9" y1="1470.75" x2="1810.7" y2="1470.75" stroke="#262626" stroke-width="1.6" />
<line x1="1464.4" y1="1426.9" x2="1469.6" y2="1426.9" stroke="#262626" stroke-width="1.6" />
<line x1="1815.9" y1="1426.9" x2="1810.7" y2="1426.9" stroke="#262626" stroke-width="1.6" />
<line x1="1464.4" y1="1383.05" x2="1469.6" y2="1383.05" stroke="#262626" stroke-width="1.6" />
<line x1="1815.9" y1="1383.05" x2="1810.7" y2="1383.05" stroke="#262626" stroke-width="1.6" />
<line x1="1464.4" y1="1339.2" x2="1469.6" y2="1339.2" stroke="#262626" stroke-width="1.6" />
<line x1="1815.9" y1="1339.2" x2="1810.7" y2="1339.2" stroke="#262626" stroke-width="1.6" />
<g clip-path="url(#ce4)">
<path d="M1480 1690 L1593.5 1689.9 L1636.8 1689.6 L1646.6 1690 L1817.9 1690" stroke="#0072BD" stroke-width="1.25" fill="none" stroke-linejoin="round" />
<path d="M1480 1690 L1603.8 1689.8 L1627 1689.5 L1645 1688.9 L1646.8 1689 L1650.6 1689.8 L1654.9 1690 L1817.9 1690" stroke="#D95319" stroke-width="1.25" fill="none" stroke-linejoin="round" />
<path d="M1480 1690 L1570.3 1689.8 L1611.6 1689.6 L1633.8 1689 L1649 1687.8 L1650.8 1688 L1653.7 1689.3 L1654.9 1689.7 L1658.9 1690 L1817.9 1690" stroke="#EDB120" stroke-width="1.25" fill="none" stroke-linejoin="round" />
<path d="M1480 1690 L1575.4 1689.8 L1616.7 1689.4 L1629.6 1689.1 L1639.4 1688.5 L1646 1687.8 L1654.3 1686.5 L1655.3 1686.6 L1656.1 1686.9 L1658.7 1688.9 L1659.9 1689.5 L1661.5 1689.8 L1663.9 1690 L1817.9 1690" stroke="#7E2F8E" stroke-width="1.25" fill="none" stroke-linejoin="round" />
<path d="M1480 1689.9 L1583.2 1689.6 L1609 1689.3 L1624.5 1688.8 L1636.6 1687.9 L1645.4 1686.5 L1651.4 1684.8 L1654.1 1683.6 L1657.9 1681.6 L1659.3 1681.2 L1660.3 1681.5 L1661.1 1682.2 L1663.7 1686.8 L1665.1 1688.6 L1666.9 1689.5 L1669.5 1689.9 L1817.9 1690" stroke="#77AC30" stroke-width="1.25" fill="none" stroke-linejoin="round" />
<path d="M1480 1689.9 L1549.7 1689.7 L1588.3 1689.3 L1614.1 1688.6 L1621.9 1688.1 L1629.6 1687.4 L1635.6 1686.6 L1640.8 1685.5 L1645 1684.2 L1648.8 1682.6 L1651.8 1680.8 L1654.5 1678.7 L1656.9 1676.3 L1660.9 1671.5 L1661.7 1670.9 L1662.3 1670.7 L1662.9 1670.9 L1663.3 1671.3 L1664.1 1672.9 L1666.9 1683 L1667.7 1685.2 L1668.5 1686.9 L1669.5 1688.2 L1670.5 1688.9 L1671.9 1689.5 L1673.5 1689.9 L1679.1 1690 L1817.9 1690" stroke="#4DBEEE" stroke-width="1.25" fill="none" stroke-linejoin="round" />
<path d="M1480 1689.8 L1549.7 1689.5 L1590.9 1688.9 L1606.4 1688.3 L1616.7 1687.6 L1624.5 1686.9 L1632.2 1685.6 L1638.2 1684.1 L1643.2 1682.2 L1647.4 1679.9 L1651 1677 L1653.9 1673.9 L1656.5 1670.2 L1658.9 1665.7 L1663.1 1656.5 L1663.9 1655.3 L1664.7 1654.9 L1665.3 1655.4 L1665.7 1656.2 L1666.5 1659 L1669.5 1676.7 L1671.1 1683.2 L1672.1 1686 L1673.1 1688.1 L1674.1 1689.1 L1675.5 1689.7 L1677.5 1689.9 L1681.5 1690 L1817.9 1690" stroke="#A2142F" stroke-width="1.25" fill="none" stroke-linejoin="round" />
<path d="M1480 1689.7 L1552.2 1689.3 L1575.4 1689 L1593.5 1688.5 L1606.4 1687.8 L1616.7 1687 L1627 1685.6 L1633.2 1684.2 L1639.4 1682.1 L1642 1680.8 L1644.4 1679.4 L1646.6 1677.9 L1648.8 1675.9 L1650.6 1674 L1652.5 1671.8 L1655.3 1667.3 L1657.9 1661.8 L1660.5 1654.8 L1664.5 1641.8 L1665.5 1639.5 L1666.3 1638.7 L1666.9 1639.1 L1667.5 1640.4 L1668.5 1645.1 L1669.9 1655.3 L1672.5 1677.2 L1673.5 1683.6 L1674.1 1686 L1674.9 1687.8 L1675.7 1688.8 L1676.9 1689.5 L1679.1 1689.9 L1683.3 1690 L1817.9 1690" stroke="#0072BD" stroke-width="1.25" fill="none" stroke-linejoin="round" />
<path d="M1480 1689.6 L1554.8 1689 L1578 1688.5 L1596.1 1687.7 L1609 1686.8 L1619.3 1685.4 L1624.5 1684.4 L1629.6 1683.1 L1635.8 1680.8 L1638.8 1679.3 L1641.6 1677.5 L1644.2 1675.4 L1646.6 1673 L1648.8 1670.3 L1650.8 1667.4 L1652.7 1664.1 L1654.5 1660.3 L1657.1 1653.2 L1659.5 1644.8 L1662.1 1633.3 L1666.9 1608.2 L1668.1 1604 L1668.7 1603 L1669.1 1602.7 L1669.7 1603.2 L1670.3 1605 L1670.9 1608.8 L1671.3 1613.1 L1671.9 1622.8 L1673.7 1662.2 L1674.9 1677.2 L1675.7 1682.4 L1676.5 1685.5 L1677.5 1687.6 L1678.9 1689 L1679.9 1689.5 L1681.3 1689.8 L1685.9 1690 L1817.9 1690" stroke="#D95319" stroke-width="1.25" fill="none" stroke-linejoin="round" />
<path d="M1480 1689.6 L1526.4 1689.3 L1557.4 1688.9 L1580.6 1688.3 L1598.7 1687.4 L1611.6 1686.2 L1621.9 1684.6 L1627 1683.4 L1632.2 1681.7 L1635.4 1680.3 L1638.4 1678.7 L1641.4 1676.7 L1644.2 1674.3 L1646.8 1671.5 L1649 1668.6 L1651 1665.3 L1653.1 1661.4 L1654.9 1657 L1656.7 1651.8 L1659.5 1641.5 L1662.1 1629.2 L1664.9 1612.9 L1670.1 1579.3 L1670.7 1576.2 L1671.1 1575.6 L1671.5 1577 L1671.7 1578.9 L1672.1 1585.1 L1674.3 1644.8 L1675.7 1667.5 L1676.7 1676.4 L1677.7 1681.9 L1679.1 1686.1 L1679.9 1687.5 L1680.9 1688.5 L1682.1 1689.2 L1683.7 1689.7 L1688.9 1690 L1817.9 1690" stroke="#EDB120" stroke-width="1.25" fill="none" stroke-linejoin="round" />
<path d="M1480 1689.6 L1526.4 1689.3 L1560 1688.8 L1583.2 1688.1 L1601.2 1687.1 L1614.1 1685.7 L1619.3 1684.8 L1624.5 1683.7 L1629.6 1682.2 L1633.2 1680.9 L1636.8 1679.1 L1640 1677.1 L1643 1674.7 L1645.8 1671.8 L1648.4 1668.4 L1650.6 1664.8 L1652.7 1660.8 L1654.7 1655.9 L1656.5 1650.6 L1658.3 1644.2 L1660.3 1635.7 L1662.1 1626.6 L1666.3 1600.9 L1668.7 1582.6 L1670.9 1558.4 L1671.5 1554.5 L1671.7 1554.6 L1671.9 1555.7 L1672.3 1560.8 L1674.7 1625.7 L1675.7 1644.6 L1676.7 1658 L1678.1 1670.6 L1679.5 1678.5 L1680.3 1681.6 L1681.3 1684.3 L1682.3 1686.2 L1683.5 1687.7 L1685.1 1688.8 L1686.9 1689.4 L1689.5 1689.8 L1693.4 1690 L1817.9 1690" stroke="#7E2F8E" stroke-width="1.25" fill="none" stroke-linejoin="round" />
<path d="M1480 1689.6 L1526.4 1689.3 L1560 1688.7 L1583.2 1688 L1601.2 1686.9 L1609 1686.1 L1616.7 1685 L1621.9 1684 L1627 1682.7 L1632.2 1680.8 L1634.8 1679.6 L1638 1677.8 L1641 1675.7 L1644.2 1672.7 L1647 1669.4 L1649.6 1665.4 L1651.8 1661.2 L1654.1 1656 L1656.1 1650.1 L1658.1 1643 L1659.9 1635.4 L1661.7 1626.4 L1663.7 1615 L1665.7 1601.9 L1667.3 1589.8 L1669.1 1571.7 L1671.3 1538 L1671.7 1534.9 L1671.9 1534.8 L1672.3 1537.9 L1672.7 1545.4 L1674.3 1591.4 L1675.3 1614.3 L1676.5 1634.1 L1677.7 1648.7 L1679.3 1662.8 L1681.3 1674.5 L1682.3 1678.4 L1683.5 1682 L1684.9 1684.8 L1686.3 1686.7 L1688.1 1688.1 L1690.5 1689.1 L1693.6 1689.7 L1698 1689.9 L1817.9 1690" stroke="#77AC30" stroke-width="1.25" fill="none" stroke-linejoin="round" />
<path d="M1480 1689.5 L1529 1689.2 L1562.5 1688.6 L1585.8 1687.8 L1603.8 1686.5 L1611.6 1685.6 L1616.7 1684.8 L1621.9 1683.7 L1627 1682.3 L1632.2 1680.3 L1635.4 1678.7 L1639 1676.4 L1642.2 1673.8 L1645.4 1670.3 L1648.2 1666.4 L1650.8 1661.7 L1653.3 1656.2 L1655.5 1649.9 L1657.5 1642.9 L1659.5 1634.3 L1661.3 1625.2 L1663.3 1613.3 L1665.1 1600.8 L1666.7 1587.9 L1667.9 1576.1 L1669.3 1557.2 L1671.3 1516.7 L1671.9 1510.2 L1672.1 1510.4 L1672.3 1511.8 L1672.7 1518.5 L1674.5 1571.3 L1675.5 1594.3 L1676.9 1617.2 L1678.5 1636.4 L1680.7 1655.5 L1681.9 1663.4 L1683.1 1669.7 L1684.3 1674.7 L1685.7 1679.1 L1687.3 1682.7 L1688.9 1685.1 L1691.1 1687.2 L1694 1688.7 L1697.4 1689.5 L1702.4 1689.9 L1715.8 1690 L1817.9 1690" stroke="#4DBEEE" stroke-width="1.25" fill="none" stroke-linejoin="round" />
<path d="M1480 1689.5 L1529 1689.1 L1562.5 1688.4 L1585.8 1687.5 L1596.1 1686.8 L1603.8 1686 L1611.6 1685 L1616.7 1684 L1621.9 1682.8 L1627 1681.2 L1632.2 1679 L1635.8 1676.9 L1639.4 1674.2 L1642.8 1670.9 L1646 1666.8 L1648.8 1662.1 L1651.4 1656.5 L1653.9 1649.9 L1656.1 1642.3 L1658.3 1632.9 L1660.3 1622.5 L1662.1 1611.3 L1663.9 1598.3 L1665.5 1584.8 L1667.9 1558.9 L1669.5 1531.7 L1671.5 1481 L1671.9 1476 L1672.1 1475.6 L1672.5 1479.5 L1672.9 1488.8 L1674.5 1542.4 L1675.7 1572.5 L1677.1 1597 L1679.1 1622.2 L1681.7 1645.9 L1683.1 1655.6 L1684.5 1663.5 L1685.9 1669.8 L1687.5 1675.3 L1689.3 1679.9 L1691.1 1683.1 L1692.4 1684.7 L1693.8 1686.1 L1695.4 1687.2 L1697 1688.1 L1701 1689.2 L1706.4 1689.8 L1721.2 1690 L1817.9 1690" stroke="#A2142F" stroke-width="1.25" fill="none" stroke-linejoin="round" />
<path d="M1480 1689.5 L1529 1689 L1562.5 1688.3 L1585.8 1687.3 L1596.1 1686.6 L1603.8 1685.8 L1611.6 1684.7 L1619.3 1683.1 L1624.5 1681.7 L1629.6 1679.7 L1633.6 1677.6 L1637.2 1675.2 L1640.4 1672.4 L1643.4 1669.1 L1646.6 1664.6 L1649.6 1658.9 L1652.3 1652.6 L1654.7 1645.1 L1656.9 1636.4 L1658.9 1626.8 L1660.9 1615 L1662.7 1602.4 L1664.3 1589.3 L1665.9 1574 L1668.1 1546.2 L1669.5 1518.6 L1671.5 1460.5 L1671.9 1454.1 L1672.1 1453.2 L1672.5 1456.6 L1672.9 1466 L1674.5 1522.4 L1675.7 1554.1 L1677.3 1582.6 L1679.5 1610.3 L1682.3 1636 L1683.9 1647.4 L1685.5 1656.7 L1687.3 1665 L1689.1 1671.4 L1691.1 1676.8 L1693.2 1680.7 L1694.6 1682.8 L1696.2 1684.6 L1697.8 1686 L1699.6 1687.1 L1701.6 1688 L1704 1688.7 L1710 1689.6 L1715.8 1689.9 L1726.5 1690 L1817.9 1690" stroke="#0072BD" stroke-width="1.25" fill="none" stroke-linejoin="round" />
<path d="M1480 1689.5 L1531.6 1689 L1565.1 1688.3 L1588.3 1687.2 L1598.7 1686.4 L1606.4 1685.6 L1614.1 1684.4 L1619.3 1683.3 L1624.5 1681.8 L1629.6 1679.9 L1634.2 1677.5 L1638.2 1674.8 L1641.6 1671.6 L1644.8 1667.8 L1648 1662.7 L1650.8 1656.8 L1653.5 1649.6 L1655.7 1641.9 L1657.9 1632.2 L1659.9 1621.1 L1661.7 1609.1 L1663.5 1594.6 L1666.3 1565.5 L1668.3 1534.9 L1669.7 1500.9 L1671.5 1437.5 L1672.1 1426.9 L1672.3 1426.9 L1672.5 1428.8 L1672.9 1437.5 L1674.7 1500.9 L1675.9 1531 L1677.7 1560.3 L1680.1 1587.2 L1681.7 1601.4 L1683.5 1614.7 L1685.3 1625.8 L1687.1 1635 L1689.1 1643.4 L1691.3 1650.8 L1693.8 1657.2 L1696.6 1663 L1699 1666.9 L1701.8 1670.5 L1704.8 1673.6 L1708.2 1676.2 L1711.8 1678.4 L1715.8 1680.3 L1721.2 1682.2 L1726.5 1683.6 L1733.7 1685 L1740.9 1685.9 L1749.8 1686.8 L1758.8 1687.4 L1783.9 1688.4 L1817.9 1689.1" stroke="#D95319" stroke-width="1.25" fill="none" stroke-linejoin="round" />
<path d="M1480 1689.4 L1531.6 1688.9 L1565.1 1688.2 L1588.3 1687.1 L1598.7 1686.2 L1606.4 1685.3 L1614.1 1684 L1619.3 1682.8 L1624.5 1681.3 L1629.6 1679.2 L1634.2 1676.7 L1638.2 1673.7 L1641.6 1670.4 L1644.8 1666.3 L1648 1660.8 L1650.8 1654.5 L1653.5 1646.9 L1655.7 1638.7 L1657.9 1628.3 L1659.9 1616.6 L1661.7 1603.7 L1663.5 1588.2 L1666.3 1557.2 L1668.3 1524.6 L1669.7 1488.2 L1671.5 1420.6 L1672.1 1409.4 L1672.3 1409.4 L1672.5 1411.4 L1672.9 1420.6 L1674.7 1488.2 L1675.9 1520.4 L1677.7 1551.7 L1680.1 1580.4 L1681.7 1595.4 L1683.5 1609.7 L1685.3 1621.6 L1687.1 1631.4 L1689.1 1640.3 L1691.3 1648.2 L1693.8 1655 L1696.6 1661.2 L1699 1665.4 L1701.8 1669.2 L1704.8 1672.5 L1708.2 1675.3 L1711.8 1677.7 L1715.8 1679.7 L1721.2 1681.7 L1726.5 1683.2 L1733.7 1684.6 L1740.9 1685.7 L1749.8 1686.6 L1758.8 1687.2 L1783.9 1688.3 L1817.9 1689" stroke="#EDB120" stroke-width="1.25" fill="none" stroke-linejoin="round" />
<path d="M1480 1689.4 L1531.6 1688.9 L1565.1 1688.1 L1588.3 1686.9 L1598.7 1686 L1606.4 1685.1 L1614.1 1683.7 L1619.3 1682.5 L1624.5 1680.9 L1629.6 1678.7 L1634.2 1676.1 L1638.2 1673 L1641.6 1669.5 L1644.8 1665.2 L1648 1659.5 L1650.8 1652.9 L1653.5 1644.9 L1655.7 1636.3 L1657.9 1625.4 L1659.9 1613.1 L1661.7 1599.6 L1663.5 1583.4 L1666.3 1550.9 L1668.3 1516.8 L1669.7 1478.8 L1671.5 1408 L1672.1 1396.2 L1672.3 1396.2 L1672.5 1398.3 L1672.9 1408 L1674.7 1478.8 L1675.9 1512.4 L1677.7 1545.2 L1680.1 1575.2 L1681.7 1591 L1683.5 1605.9 L1685.3 1618.3 L1687.1 1628.6 L1689.1 1638 L1691.3 1646.3 L1693.8 1653.4 L1696.6 1659.9 L1699 1664.2 L1701.8 1668.3 L1704.8 1671.6 L1708.2 1674.6 L1711.8 1677.1 L1715.8 1679.2 L1721.2 1681.3 L1726.5 1682.9 L1733.7 1684.4 L1740.9 1685.5 L1749.8 1686.4 L1758.8 1687.1 L1783.9 1688.3 L1817.9 1689" stroke="#7E2F8E" stroke-width="1.25" fill="none" stroke-linejoin="round" />
<path d="M1480 1689.4 L1531.6 1688.9 L1565.1 1688 L1588.3 1686.8 L1598.7 1685.9 L1606.4 1684.9 L1614.1 1683.5 L1619.3 1682.3 L1624.5 1680.6 L1629.6 1678.4 L1634.2 1675.7 L1638.2 1672.5 L1641.6 1668.9 L1644.8 1664.4 L1648 1658.6 L1650.8 1651.8 L1653.5 1643.5 L1655.7 1634.7 L1657.9 1623.5 L1659.9 1610.8 L1661.7 1596.9 L1663.5 1580.3 L1666.3 1546.8 L1668.3 1511.7 L1669.7 1472.5 L1671.5 1399.6 L1672.1 1387.4 L1672.3 1387.4 L1672.5 1389.6 L1672.9 1399.6 L1674.7 1472.5 L1675.9 1507.1 L1677.7 1540.9 L1680.1 1571.8 L1681.7 1588.1 L1683.5 1603.4 L1685.3 1616.2 L1687.1 1626.8 L1689.1 1636.4 L1691.3 1645 L1693.8 1652.3 L1696.6 1659 L1699 1663.5 L1701.8 1667.6 L1704.8 1671.1 L1708.2 1674.2 L1711.8 1676.7 L1715.8 1678.9 L1721.2 1681.1 L1726.5 1682.7 L1733.7 1684.2 L1740.9 1685.3 L1749.8 1686.3 L1758.8 1687 L1783.9 1688.2 L1817.9 1688.9" stroke="#77AC30" stroke-width="1.25" fill="none" stroke-linejoin="round" />
<path d="M1480 1689.4 L1531.6 1688.8 L1565.1 1688 L1588.3 1686.8 L1598.7 1685.8 L1606.4 1684.8 L1614.1 1683.4 L1619.3 1682.1 L1624.5 1680.4 L1629.6 1678.1 L1634.2 1675.4 L1638.2 1672.1 L1641.6 1668.4 L1644.8 1663.9 L1648 1657.9 L1650.8 1650.9 L1653.5 1642.5 L1655.7 1633.5 L1657.9 1622 L1659.9 1609.1 L1661.7 1594.9 L1663.5 1577.9 L1666.3 1543.7 L1668.3 1507.8 L1669.7 1467.7 L1671.5 1393.3 L1672.1 1380.9 L1672.3 1380.9 L1672.5 1383.1 L1672.9 1393.3 L1674.7 1467.7 L1675.9 1503.1 L1677.7 1537.6 L1680.1 1569.2 L1681.7 1585.8 L1683.5 1601.5 L1685.3 1614.6 L1687.1 1625.4 L1689.1 1635.3 L1691.3 1644 L1693.8 1651.5 L1696.6 1658.3 L1699 1662.9 L1701.8 1667.1 L1704.8 1670.7 L1708.2 1673.8 L1711.8 1676.4 L1715.8 1678.6 L1721.2 1680.9 L1726.5 1682.5 L1733.7 1684.1 L1740.9 1685.2 L1749.8 1686.2 L1758.8 1687 L1783.9 1688.2 L1817.9 1688.9" stroke="#4DBEEE" stroke-width="1.25" fill="none" stroke-linejoin="round" />
<path d="M1480.5 1675.7 L1492.8 1673.9 L1504 1672 L1515.2 1669.8 L1525.2 1667.4 L1535.3 1664.6 L1544.3 1661.7 L1552.1 1658.7 L1559.9 1655.3 L1567.8 1651.2 L1574.5 1647.2 L1581.2 1642.5 L1586.8 1638.1 L1592.4 1633.1 L1598 1627.3 L1603.6 1620.8 L1608 1614.8 L1612.5 1608.2 L1615.9 1602.7 L1620.3 1594.6 L1623.7 1587.8 L1627.1 1580.5 L1630.4 1572.5 L1633.8 1563.8 L1637.1 1554.4 L1640.5 1544.2 L1643.8 1533.2 L1650.5 1508.7 L1656.1 1486 L1669.6 1428.5 L1675.2 1407.3 L1678.5 1396.8 L1681.9 1388.7 L1684.1 1384.9 L1685.2 1383.5 L1686.3 1382.4 L1687.5 1381.7 L1688.6 1381.3 L1689.7 1381.3 L1690.8 1381.7 L1691.9 1382.3 L1693.1 1383.3 L1695.3 1386.2 L1696.4 1388 L1698.7 1392.6 L1702 1401.3 L1705.4 1411.9 L1708.7 1424 L1725.5 1491.1 L1730 1508 L1734.5 1523.7 L1738.9 1538.2 L1744.5 1554.6 L1750.1 1569 L1755.7 1581.6 L1761.3 1592.7 L1768 1604.1 L1774.7 1613.8 L1781.4 1622.2 L1784.8 1625.9 L1789.3 1630.4 L1797.1 1637.3 L1801.6 1640.8 L1806.1 1643.9 L1815 1649.4" stroke="#000" stroke-width="2" fill="none" stroke-dasharray="7.6 8.7" stroke-linejoin="round" />
</g>
<text x="1443.5" y="1698" font-size="28.5" fill="#262626" text-anchor="end"  transform="translate(1443.5 1698) scale(1 1.05) translate(-1443.5 -1698)">0</text>
<text x="1443.5" y="1610.3" font-size="28.5" fill="#262626" text-anchor="end"  transform="translate(1443.5 1610.3) scale(1 1.05) translate(-1443.5 -1610.3)">200</text>
<text x="1443.5" y="1522.6" font-size="28.5" fill="#262626" text-anchor="end"  transform="translate(1443.5 1522.6) scale(1 1.05) translate(-1443.5 -1522.6)">400</text>
<text x="1443.5" y="1434.9" font-size="28.5" fill="#262626" text-anchor="end"  transform="translate(1443.5 1434.9) scale(1 1.05) translate(-1443.5 -1434.9)">600</text>
<text x="1443.5" y="1347.2" font-size="28.5" fill="#262626" text-anchor="end"  transform="translate(1443.5 1347.2) scale(1 1.05) translate(-1443.5 -1347.2)">800</text>
<text x="1492.9" y="1724.5" font-size="28.5" fill="#262626" text-anchor="middle"  transform="translate(1492.9 1724.5) scale(1 1.05) translate(-1492.9 -1724.5)">0.8</text>
<text x="1595.2" y="1724.5" font-size="28.5" fill="#262626" text-anchor="middle"  transform="translate(1595.2 1724.5) scale(1 1.05) translate(-1595.2 -1724.5)">0.9</text>
<text x="1699.5" y="1724.5" font-size="28.5" fill="#262626" text-anchor="middle"  transform="translate(1699.5 1724.5) scale(1 1.05) translate(-1699.5 -1724.5)">1</text>
<text x="1799.8" y="1724.5" font-size="28.5" fill="#262626" text-anchor="middle"  transform="translate(1799.8 1724.5) scale(1 1.05) translate(-1799.8 -1724.5)">1.1</text>
<text x="1654.4" y="1758.5" font-size="28.5" fill="#262626" text-anchor="middle"  transform="translate(1654.4 1758.5) scale(1 1.05) translate(-1654.4 -1758.5)">Energy (eV)</text>
<text x="1491.96" y="1384.8" font-size="28.5" fill="#262626"  transform="translate(1491.96 1384.8) scale(1 1.05) translate(-1491.96 -1384.8)">F</text>
<text x="1508.71" y="1389" font-size="21.5" fill="#262626"  transform="translate(1508.71 1389) scale(1 1.05) translate(-1508.71 -1389)">p</text>
<text x="1526.91" y="1384.8" font-size="28.5" fill="#262626"  transform="translate(1526.91 1384.8) scale(1 1.05) translate(-1526.91 -1384.8)">=</text>
<text x="1553.51" y="1384.8" font-size="28.5" fill="#262626"  transform="translate(1553.51 1384.8) scale(1 1.05) translate(-1553.51 -1384.8)">30</text>
<path d="M43.3 1906.4 L64.3 1952.2 L80.4 1984.3 L96.5 2012.8 L108.4 2028.7 L142.9 2031.6 L271.9 2033.5 L288.9 2036 L290.5 2051.3 L291.3 2186.8 L292.9 2186.8 L284.5 2186.2 L276.1 2185.1 L267.7 2183.5 L260.1 2181.6 L252.5 2179.2 L244.9 2176.2 L237.4 2172.6 L230.6 2168.8 L223.9 2164.5 L217.2 2159.6 L210.4 2154.2 L202.9 2147.6 L193.6 2139 L182.7 2128.4 L174.3 2119.8 L165.8 2110.7 L159.1 2103 L151.5 2093.9 L144 2084.2 L135.5 2073 L122.9 2055.6 L106.1 2031.6 L99.4 2021.8 L94.3 2013.9 L89.3 2005.3 L83.4 1994.7 L69.1 1966.8 L54.8 1936.9 L41.3 1906.9" stroke="none" stroke-width="1" fill="#ebf3fb" stroke-linejoin="round" />
<path d="M43.3 1906.4 L64.3 1952.2 L80.4 1984.3 L96.5 2012.8 L108.4 2028.7 L142.9 2031.6 L271.9 2033.5 L288.9 2036 L290.5 2051.3 L291.3 2186.8" stroke="#8fd0e6" stroke-width="1.8" fill="none" stroke-linejoin="round" />
<path d="M41.3 1906.9 L54.8 1936.9 L69.1 1966.8 L83.4 1994.7 L89.3 2005.3 L94.3 2013.9 L99.4 2021.8 L106.1 2031.6 L122.9 2055.6 L135.5 2073 L144 2084.2 L151.5 2093.9 L159.1 2103 L165.8 2110.7 L174.3 2119.8 L182.7 2128.4 L193.6 2139 L202.9 2147.6 L210.4 2154.2 L217.2 2159.6 L223.9 2164.5 L230.6 2168.8 L237.4 2172.6 L244.9 2176.2 L252.5 2179.2 L260.1 2181.6 L267.7 2183.5 L276.1 2185.1 L284.5 2186.2 L292.9 2186.8" stroke="#4263b8" stroke-width="4.5" fill="none" stroke-linejoin="round" stroke-linecap="butt"/>
<line x1="293.2" y1="1898.9" x2="293.2" y2="2204.5" stroke="#111111" stroke-width="2.2" />
<text x="66.66" y="1853" font-size="28.5" fill="#262626" transform="translate(66.66 1853) scale(1 1.05) translate(-66.66 -1853)"><tspan dy="-0">Pump 0.11 mJ/cm</tspan><tspan dy="-11.97" font-size="19.95">2</tspan></text>
<text x="105.23" y="1908.5" font-size="28.5" fill="#262626"  transform="translate(105.23 1908.5) scale(1 1.05) translate(-105.23 -1908.5)">1064 nm</text>
<text x="105.23" y="2193.3" font-size="28.5" fill="#262626"  transform="translate(105.23 2193.3) scale(1 1.05) translate(-105.23 -2193.3)">1575 nm</text>
<path d="M963.4 1905.2 L1190.3 1912.4 L1192.6 1916 L1192.3 1996.7 L1197 2008 L1204 2016 L1209 2025 L1212.4 2046.5 L1213.2 2100 L1213.6 2186 L1215 2186.8 L1206.6 2186.2 L1198.2 2185.1 L1189.8 2183.5 L1182.2 2181.6 L1174.6 2179.2 L1167 2176.2 L1159.5 2172.6 L1152.7 2168.8 L1146 2164.5 L1139.3 2159.6 L1132.5 2154.2 L1125 2147.6 L1115.7 2139 L1104.8 2128.4 L1096.4 2119.8 L1087.9 2110.7 L1081.2 2103 L1073.6 2093.9 L1066.1 2084.2 L1057.6 2073 L1045 2055.6 L1028.2 2031.6 L1021.5 2021.8 L1016.4 2013.9 L1011.4 2005.3 L1005.5 1994.7 L991.2 1966.8 L976.9 1936.9 L963.4 1906.9" stroke="none" stroke-width="1" fill="#ebf3fb" stroke-linejoin="round" />
<path d="M963.4 1905.2 L1190.3 1912.4 L1192.6 1916 L1192.3 1996.7 L1197 2008 L1204 2016 L1209 2025 L1212.4 2046.5 L1213.2 2100 L1213.6 2186" stroke="#8fd0e6" stroke-width="1.8" fill="none" stroke-linejoin="round" />
<path d="M963.4 1906.9 L976.9 1936.9 L991.2 1966.8 L1005.5 1994.7 L1011.4 2005.3 L1016.4 2013.9 L1021.5 2021.8 L1028.2 2031.6 L1045 2055.6 L1057.6 2073 L1066.1 2084.2 L1073.6 2093.9 L1081.2 2103 L1087.9 2110.7 L1096.4 2119.8 L1104.8 2128.4 L1115.7 2139 L1125 2147.6 L1132.5 2154.2 L1139.3 2159.6 L1146 2164.5 L1152.7 2168.8 L1159.5 2172.6 L1167 2176.2 L1174.6 2179.2 L1182.2 2181.6 L1189.8 2183.5 L1198.2 2185.1 L1206.6 2186.2 L1215 2186.8" stroke="#4263b8" stroke-width="4.5" fill="none" stroke-linejoin="round" stroke-linecap="butt"/>
<line x1="1215.3" y1="1890.9" x2="1215.3" y2="2197.5" stroke="#111111" stroke-width="2.2" />
<text x="984.76" y="1853" font-size="28.5" fill="#262626" transform="translate(984.76 1853) scale(1 1.05) translate(-984.76 -1853)"><tspan dy="-0">Pump 0.8 mJ/cm</tspan><tspan dy="-11.97" font-size="19.95">2</tspan></text>
<text x="1036.03" y="1908.5" font-size="28.5" fill="#262626"  transform="translate(1036.03 1908.5) scale(1 1.05) translate(-1036.03 -1908.5)">1064 nm</text>
<text x="1036.03" y="2193.3" font-size="28.5" fill="#262626"  transform="translate(1036.03 2193.3) scale(1 1.05) translate(-1036.03 -2193.3)">1575 nm</text>
<defs><clipPath id="cf2"><rect x="439.2" y="1832.1" width="448.2" height="353.3"/></clipPath></defs>
<rect x="440.7" y="1833.6" width="445.2" height="350.3" fill="none" stroke="#262626" stroke-width="1.6"/>
<line x1="478.6" y1="1833.6" x2="478.6" y2="1838.8" stroke="#262626" stroke-width="1.6" />
<line x1="478.6" y1="2183.9" x2="478.6" y2="2178.7" stroke="#262626" stroke-width="1.6" />
<line x1="542.28" y1="1833.6" x2="542.28" y2="1838.8" stroke="#262626" stroke-width="1.6" />
<line x1="542.28" y1="2183.9" x2="542.28" y2="2178.7" stroke="#262626" stroke-width="1.6" />
<line x1="605.96" y1="1833.6" x2="605.96" y2="1838.8" stroke="#262626" stroke-width="1.6" />
<line x1="605.96" y1="2183.9" x2="605.96" y2="2178.7" stroke="#262626" stroke-width="1.6" />
<line x1="669.64" y1="1833.6" x2="669.64" y2="1838.8" stroke="#262626" stroke-width="1.6" />
<line x1="669.64" y1="2183.9" x2="669.64" y2="2178.7" stroke="#262626" stroke-width="1.6" />
<line x1="733.32" y1="1833.6" x2="733.32" y2="1838.8" stroke="#262626" stroke-width="1.6" />
<line x1="733.32" y1="2183.9" x2="733.32" y2="2178.7" stroke="#262626" stroke-width="1.6" />
<line x1="797" y1="1833.6" x2="797" y2="1838.8" stroke="#262626" stroke-width="1.6" />
<line x1="797" y1="2183.9" x2="797" y2="2178.7" stroke="#262626" stroke-width="1.6" />
<line x1="860.68" y1="1833.6" x2="860.68" y2="1838.8" stroke="#262626" stroke-width="1.6" />
<line x1="860.68" y1="2183.9" x2="860.68" y2="2178.7" stroke="#262626" stroke-width="1.6" />
<line x1="440.7" y1="2183.9" x2="445.9" y2="2183.9" stroke="#262626" stroke-width="1.6" />
<line x1="885.9" y1="2183.9" x2="880.7" y2="2183.9" stroke="#262626" stroke-width="1.6" />
<line x1="440.7" y1="2148.87" x2="445.9" y2="2148.87" stroke="#262626" stroke-width="1.6" />
<line x1="885.9" y1="2148.87" x2="880.7" y2="2148.87" stroke="#262626" stroke-width="1.6" />
<line x1="440.7" y1="2113.84" x2="445.9" y2="2113.84" stroke="#262626" stroke-width="1.6" />
<line x1="885.9" y1="2113.84" x2="880.7" y2="2113.84" stroke="#262626" stroke-width="1.6" />
<line x1="440.7" y1="2078.81" x2="445.9" y2="2078.81" stroke="#262626" stroke-width="1.6" />
<line x1="885.9" y1="2078.81" x2="880.7" y2="2078.81" stroke="#262626" stroke-width="1.6" />
<line x1="440.7" y1="2043.78" x2="445.9" y2="2043.78" stroke="#262626" stroke-width="1.6" />
<line x1="885.9" y1="2043.78" x2="880.7" y2="2043.78" stroke="#262626" stroke-width="1.6" />
<line x1="440.7" y1="2008.75" x2="445.9" y2="2008.75" stroke="#262626" stroke-width="1.6" />
<line x1="885.9" y1="2008.75" x2="880.7" y2="2008.75" stroke="#262626" stroke-width="1.6" />
<line x1="440.7" y1="1973.72" x2="445.9" y2="1973.72" stroke="#262626" stroke-width="1.6" />
<line x1="885.9" y1="1973.72" x2="880.7" y2="1973.72" stroke="#262626" stroke-width="1.6" />
<line x1="440.7" y1="1938.69" x2="445.9" y2="1938.69" stroke="#262626" stroke-width="1.6" />
<line x1="885.9" y1="1938.69" x2="880.7" y2="1938.69" stroke="#262626" stroke-width="1.6" />
<line x1="440.7" y1="1903.66" x2="445.9" y2="1903.66" stroke="#262626" stroke-width="1.6" />
<line x1="885.9" y1="1903.66" x2="880.7" y2="1903.66" stroke="#262626" stroke-width="1.6" />
<line x1="440.7" y1="1868.63" x2="445.9" y2="1868.63" stroke="#262626" stroke-width="1.6" />
<line x1="885.9" y1="1868.63" x2="880.7" y2="1868.63" stroke="#262626" stroke-width="1.6" />
<line x1="440.7" y1="1833.6" x2="445.9" y2="1833.6" stroke="#262626" stroke-width="1.6" />
<line x1="885.9" y1="1833.6" x2="880.7" y2="1833.6" stroke="#262626" stroke-width="1.6" />
<g clip-path="url(#cf2)">
<path d="M464.2 2183.9 L467.6 2179.2 L472.5 2175.9 L486.4 2171.5 L544.4 2159.9 L585.9 2152.9 L627.4 2147.4 L652.3 2143.8 L660.6 2137.7 L668.8 2129.4 L685.4 2107.3 L696.5 2083.8 L700.6 2068.6 L704.8 2046.5 L708.9 2013.3 L713.1 1977.4 L716.4 1941.4 L720.8 1875.1 L721.9 1866.8 L725.5 1852.9 L726.4 1886.1 L727.2 1935.9 L728.6 2046.5 L729.1 2140.5 L731.1 2162.6 L733.8 2178.7 L760.1 2177.3 L779.4 2178.7 L807.1 2182 L820.9 2183.4 L885.9 2183.9 L464.2 2183.9" stroke="none" stroke-width="1" fill="#faf0f6" stroke-linejoin="round" />
<path d="M464.2 2183.9 L467.6 2179.2 L472.5 2175.9 L486.4 2171.5 L544.4 2159.9 L585.9 2152.9 L627.4 2147.4 L652.3 2143.8 L660.6 2137.7 L668.8 2129.4 L685.4 2107.3 L696.5 2083.8 L700.6 2068.6 L704.8 2046.5 L708.9 2013.3 L713.1 1977.4 L716.4 1941.4 L720.8 1875.1 L721.9 1866.8 L725.5 1852.9 L726.4 1886.1 L727.2 1935.9 L728.6 2046.5 L729.1 2140.5 L731.1 2162.6 L733.8 2178.7 L760.1 2177.3 L779.4 2178.7 L807.1 2182 L820.9 2183.4 L885.9 2183.9" stroke="#d660b0" stroke-width="2" fill="none" stroke-linejoin="round" />
<path d="M464.2 2167.2 L481.1 2165.3 L498 2163 L513.5 2160.5 L527.6 2157.8 L540.3 2155 L553 2151.7 L564.2 2148.3 L575.5 2144.4 L585.4 2140.5 L595.2 2136 L605.1 2130.8 L613.6 2125.7 L622 2119.8 L630.5 2113.1 L637.5 2106.8 L644.6 2099.7 L650.2 2093.4 L655.8 2086.4 L661.5 2078.7 L665.7 2072.5 L671.3 2063.4 L675.6 2056 L679.8 2048 L684 2039.5 L689.6 2027.2 L693.9 2017.3 L698.1 2006.7 L703.7 1991.6 L713.6 1962.9 L733.3 1902.1 L737.6 1890.2 L741.8 1879.4 L744.6 1872.9 L747.4 1867.2 L751.6 1860.3 L754.5 1856.9 L757.3 1854.5 L758.7 1853.7 L760.1 1853.2 L761.5 1852.9 L762.9 1853 L764.3 1853.3 L765.7 1853.9 L768.6 1855.9 L771.4 1859 L772.8 1860.9 L775.6 1865.4 L778.4 1870.8 L781.2 1877 L785.5 1887.6 L791.1 1903.4 L810.8 1964.2 L820.7 1992.8 L826.3 2007.8 L830.5 2018.3 L836.2 2031.3 L841.8 2043.3 L846 2051.6 L851.7 2061.7 L857.3 2071 L863 2079.3 L868.6 2087 L874.2 2093.9 L879.9 2100.1 L885.5 2105.9" stroke="#000" stroke-width="2" fill="none" stroke-dasharray="7.6 8.7" stroke-linejoin="round" />
</g>
<text x="426" y="2191.9" font-size="28.5" fill="#262626" text-anchor="end"  transform="translate(426 2191.9) scale(1 1.05) translate(-426 -2191.9)">0</text>
<text x="426" y="1841.6" font-size="28.5" fill="#262626" text-anchor="end"  transform="translate(426 1841.6) scale(1 1.05) translate(-426 -1841.6)">1</text>
<text x="480.3" y="2216.8" font-size="28.5" fill="#262626" text-anchor="middle"  transform="translate(480.3 2216.8) scale(1 1.05) translate(-480.3 -2216.8)">0.8</text>
<text x="606.6" y="2216.8" font-size="28.5" fill="#262626" text-anchor="middle"  transform="translate(606.6 2216.8) scale(1 1.05) translate(-606.6 -2216.8)">0.9</text>
<text x="733.8" y="2216.8" font-size="28.5" fill="#262626" text-anchor="middle"  transform="translate(733.8 2216.8) scale(1 1.05) translate(-733.8 -2216.8)">1</text>
<text x="859.6" y="2216.8" font-size="28.5" fill="#262626" text-anchor="middle"  transform="translate(859.6 2216.8) scale(1 1.05) translate(-859.6 -2216.8)">1.1</text>
<text x="666.8" y="2251.2" font-size="28.5" fill="#262626" text-anchor="middle"  transform="translate(666.8 2251.2) scale(1 1.05) translate(-666.8 -2251.2)">Photon energy (eV)</text>
<text x="392" y="2007.9" font-size="28.5" fill="#262626" text-anchor="middle" transform="translate(392 2007.9) rotate(-90) scale(1 1.05) translate(-392 -2007.9)">Stimulated / Spontaneous</text>
<defs><clipPath id="cf4"><rect x="1377.2" y="1832.1" width="448.5" height="354.1"/></clipPath></defs>
<rect x="1378.7" y="1833.6" width="445.5" height="351.1" fill="none" stroke="#262626" stroke-width="1.6"/>
<line x1="1417.4" y1="1833.6" x2="1417.4" y2="1838.8" stroke="#262626" stroke-width="1.6" />
<line x1="1417.4" y1="2184.7" x2="1417.4" y2="2179.5" stroke="#262626" stroke-width="1.6" />
<line x1="1481" y1="1833.6" x2="1481" y2="1838.8" stroke="#262626" stroke-width="1.6" />
<line x1="1481" y1="2184.7" x2="1481" y2="2179.5" stroke="#262626" stroke-width="1.6" />
<line x1="1544.6" y1="1833.6" x2="1544.6" y2="1838.8" stroke="#262626" stroke-width="1.6" />
<line x1="1544.6" y1="2184.7" x2="1544.6" y2="2179.5" stroke="#262626" stroke-width="1.6" />
<line x1="1608.2" y1="1833.6" x2="1608.2" y2="1838.8" stroke="#262626" stroke-width="1.6" />
<line x1="1608.2" y1="2184.7" x2="1608.2" y2="2179.5" stroke="#262626" stroke-width="1.6" />
<line x1="1671.8" y1="1833.6" x2="1671.8" y2="1838.8" stroke="#262626" stroke-width="1.6" />
<line x1="1671.8" y1="2184.7" x2="1671.8" y2="2179.5" stroke="#262626" stroke-width="1.6" />
<line x1="1735.4" y1="1833.6" x2="1735.4" y2="1838.8" stroke="#262626" stroke-width="1.6" />
<line x1="1735.4" y1="2184.7" x2="1735.4" y2="2179.5" stroke="#262626" stroke-width="1.6" />
<line x1="1799" y1="1833.6" x2="1799" y2="1838.8" stroke="#262626" stroke-width="1.6" />
<line x1="1799" y1="2184.7" x2="1799" y2="2179.5" stroke="#262626" stroke-width="1.6" />
<line x1="1378.7" y1="2184.7" x2="1383.9" y2="2184.7" stroke="#262626" stroke-width="1.6" />
<line x1="1824.2" y1="2184.7" x2="1819" y2="2184.7" stroke="#262626" stroke-width="1.6" />
<line x1="1378.7" y1="2126.18" x2="1383.9" y2="2126.18" stroke="#262626" stroke-width="1.6" />
<line x1="1824.2" y1="2126.18" x2="1819" y2="2126.18" stroke="#262626" stroke-width="1.6" />
<line x1="1378.7" y1="2067.66" x2="1383.9" y2="2067.66" stroke="#262626" stroke-width="1.6" />
<line x1="1824.2" y1="2067.66" x2="1819" y2="2067.66" stroke="#262626" stroke-width="1.6" />
<line x1="1378.7" y1="2009.14" x2="1383.9" y2="2009.14" stroke="#262626" stroke-width="1.6" />
<line x1="1824.2" y1="2009.14" x2="1819" y2="2009.14" stroke="#262626" stroke-width="1.6" />
<line x1="1378.7" y1="1950.62" x2="1383.9" y2="1950.62" stroke="#262626" stroke-width="1.6" />
<line x1="1824.2" y1="1950.62" x2="1819" y2="1950.62" stroke="#262626" stroke-width="1.6" />
<line x1="1378.7" y1="1892.1" x2="1383.9" y2="1892.1" stroke="#262626" stroke-width="1.6" />
<line x1="1824.2" y1="1892.1" x2="1819" y2="1892.1" stroke="#262626" stroke-width="1.6" />
<line x1="1378.7" y1="1833.58" x2="1383.9" y2="1833.58" stroke="#262626" stroke-width="1.6" />
<line x1="1824.2" y1="1833.58" x2="1819" y2="1833.58" stroke="#262626" stroke-width="1.6" />
<g clip-path="url(#cf4)">
<path d="M1401.7 2182.1 L1474.6 2181.1 L1525.4 2179.8 L1545.7 2179 L1562.7 2178.1 L1577.1 2177 L1589.8 2175.8 L1600.8 2174.3 L1611 2172.4 L1619.5 2170.4 L1627.1 2167.9 L1633.9 2165.1 L1639.8 2161.8 L1644.9 2158.1 L1650 2153.5 L1654.2 2148.5 L1658.4 2142.2 L1661.8 2135.9 L1665.2 2127.9 L1668.6 2118 L1671.1 2108.8 L1673.7 2097.7 L1676.2 2084.3 L1678.8 2068 L1680.5 2055.3 L1683.8 2024.6 L1687.2 1986.7 L1692.3 1921.5 L1694.9 1892.5 L1696.6 1878.3 L1697.4 1873.4 L1698.3 1870.2 L1699.1 1868.8 L1699.9 1869.3 L1700.8 1871.7 L1701.6 1875.8 L1703.3 1888.6 L1705.9 1916.5 L1711 1981.7 L1713.5 2011.4 L1716 2037 L1719.4 2064.9 L1722.8 2086.6 L1726.2 2103.3 L1727.9 2110.2 L1730.5 2119.1 L1732.1 2124.2 L1734.7 2130.8 L1737.2 2136.4 L1739.8 2141.1 L1743.2 2146.3 L1746.5 2150.7 L1749.9 2154.2 L1754.2 2157.9 L1758.4 2160.9 L1763.5 2163.7 L1768.6 2166 L1774.5 2168.1 L1781.3 2170 L1788.1 2171.5 L1795.7 2172.9 L1804.2 2174 L1813.5 2175 L1824.5 2175.9 L1824.5 2184.7 L1401.7 2184.7" stroke="none" stroke-width="1" fill="#f5e6f3" stroke-linejoin="round" />
<path d="M1401.7 2182.1 L1474.6 2181.1 L1525.4 2179.8 L1545.7 2179 L1562.7 2178.1 L1577.1 2177 L1589.8 2175.8 L1600.8 2174.3 L1611 2172.4 L1619.5 2170.4 L1627.1 2167.9 L1633.9 2165.1 L1639.8 2161.8 L1644.9 2158.1 L1650 2153.5 L1654.2 2148.5 L1658.4 2142.2 L1661.8 2135.9 L1665.2 2127.9 L1668.6 2118 L1671.1 2108.8 L1673.7 2097.7 L1676.2 2084.3 L1678.8 2068 L1680.5 2055.3 L1683.8 2024.6 L1687.2 1986.7 L1692.3 1921.5 L1694.9 1892.5 L1696.6 1878.3 L1697.4 1873.4 L1698.3 1870.2 L1699.1 1868.8 L1699.9 1869.3 L1700.8 1871.7 L1701.6 1875.8 L1703.3 1888.6 L1705.9 1916.5 L1711 1981.7 L1713.5 2011.4 L1716 2037 L1719.4 2064.9 L1722.8 2086.6 L1726.2 2103.3 L1727.9 2110.2 L1730.5 2119.1 L1732.1 2124.2 L1734.7 2130.8 L1737.2 2136.4 L1739.8 2141.1 L1743.2 2146.3 L1746.5 2150.7 L1749.9 2154.2 L1754.2 2157.9 L1758.4 2160.9 L1763.5 2163.7 L1768.6 2166 L1774.5 2168.1 L1781.3 2170 L1788.1 2171.5 L1795.7 2172.9 L1804.2 2174 L1813.5 2175 L1824.5 2175.9" stroke="#d22f9c" stroke-width="2" fill="none" stroke-linejoin="round" />
<path d="M1401.7 2169.2 L1418.7 2167.4 L1435.6 2165.2 L1451.2 2162.9 L1465.3 2160.4 L1478 2157.7 L1490.7 2154.7 L1502 2151.5 L1513.3 2147.8 L1523.2 2144.1 L1533.1 2139.9 L1543 2134.9 L1551.5 2130.1 L1560 2124.5 L1568.4 2118.2 L1575.5 2112.2 L1582.6 2105.4 L1588.2 2099.4 L1593.9 2092.7 L1599.5 2085.4 L1603.8 2079.4 L1609.4 2070.7 L1613.7 2063.6 L1619.3 2053.2 L1623.5 2044.8 L1629.2 2032.6 L1633.4 2022.8 L1637.7 2012.3 L1643.3 1997.5 L1651.8 1973.4 L1670.2 1918.3 L1674.4 1906.5 L1678.7 1895.7 L1681.5 1889.2 L1684.3 1883.4 L1688.5 1876.3 L1691.4 1872.7 L1694.2 1870.1 L1697 1868.6 L1698.4 1868.3 L1699.9 1868.2 L1701.3 1868.4 L1702.7 1868.9 L1705.5 1870.7 L1708.3 1873.5 L1709.7 1875.3 L1712.6 1879.6 L1715.4 1884.8 L1718.2 1890.7 L1722.5 1900.9 L1728.1 1916.3 L1747.9 1975.4 L1757.8 2003.2 L1763.4 2017.6 L1767.7 2027.8 L1773.3 2040.4 L1779 2051.9 L1783.2 2059.8 L1788.9 2069.5 L1794.5 2078.4 L1800.2 2086.3 L1805.8 2093.6 L1811.5 2100.2 L1817.1 2106.1 L1824.2 2112.8" stroke="#000" stroke-width="2" fill="none" stroke-dasharray="7.6 8.7" stroke-linejoin="round" />
</g>
<text x="1365" y="2192.7" font-size="28.5" fill="#262626" text-anchor="end"  transform="translate(1365 2192.7) scale(1 1.05) translate(-1365 -2192.7)">0</text>
<text x="1365" y="2134.18" font-size="28.5" fill="#262626" text-anchor="end"  transform="translate(1365 2134.18) scale(1 1.05) translate(-1365 -2134.18)">2</text>
<text x="1365" y="2075.66" font-size="28.5" fill="#262626" text-anchor="end"  transform="translate(1365 2075.66) scale(1 1.05) translate(-1365 -2075.66)">4</text>
<text x="1365" y="2017.14" font-size="28.5" fill="#262626" text-anchor="end"  transform="translate(1365 2017.14) scale(1 1.05) translate(-1365 -2017.14)">6</text>
<text x="1365" y="1958.62" font-size="28.5" fill="#262626" text-anchor="end"  transform="translate(1365 1958.62) scale(1 1.05) translate(-1365 -1958.62)">8</text>
<text x="1365" y="1900.1" font-size="28.5" fill="#262626" text-anchor="end"  transform="translate(1365 1900.1) scale(1 1.05) translate(-1365 -1900.1)">10</text>
<text x="1365" y="1841.58" font-size="28.5" fill="#262626" text-anchor="end"  transform="translate(1365 1841.58) scale(1 1.05) translate(-1365 -1841.58)">12</text>
<text x="1417.7" y="2216.8" font-size="28.5" fill="#262626" text-anchor="middle"  transform="translate(1417.7 2216.8) scale(1 1.05) translate(-1417.7 -2216.8)">0.8</text>
<text x="1544.6" y="2216.8" font-size="28.5" fill="#262626" text-anchor="middle"  transform="translate(1544.6 2216.8) scale(1 1.05) translate(-1544.6 -2216.8)">0.9</text>
<text x="1671.8" y="2216.8" font-size="28.5" fill="#262626" text-anchor="middle"  transform="translate(1671.8 2216.8) scale(1 1.05) translate(-1671.8 -2216.8)">1</text>
<text x="1797" y="2216.8" font-size="28.5" fill="#262626" text-anchor="middle"  transform="translate(1797 2216.8) scale(1 1.05) translate(-1797 -2216.8)">1.1</text>
<text x="1604.5" y="2251.2" font-size="28.5" fill="#262626" text-anchor="middle"  transform="translate(1604.5 2251.2) scale(1 1.05) translate(-1604.5 -2251.2)">Photon energy (eV)</text>
<text x="1318.3" y="2005.5" font-size="28.5" fill="#262626" text-anchor="middle" transform="translate(1318.3 2005.5) rotate(-90) scale(1 1.05) translate(-1318.3 -2005.5)">Stimulated / Spontaneous</text>
<text x="-0.68" y="1836" font-size="40" fill="#000" font-weight="bold" >f</text></svg>
</body></html>
